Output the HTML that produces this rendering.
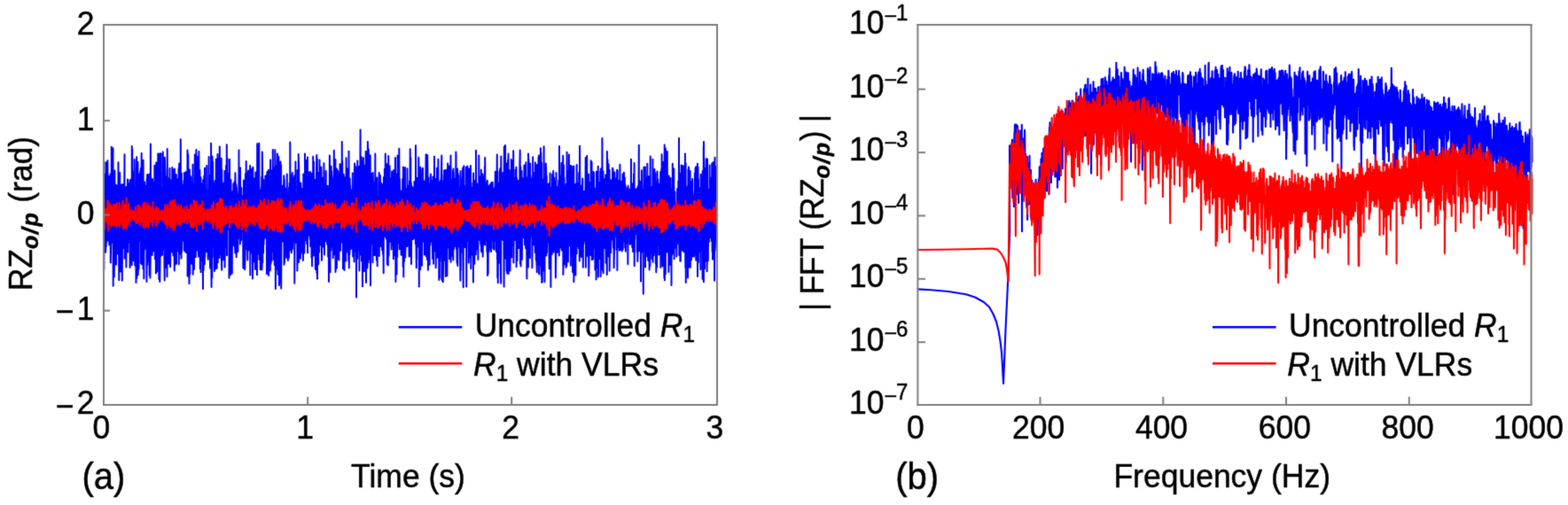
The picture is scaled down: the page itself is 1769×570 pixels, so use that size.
<!DOCTYPE html><html><head><meta charset="utf-8"><title>figure</title><style>html,body{margin:0;padding:0;background:#fff;overflow:hidden}</style></head><body><svg width="1769" height="570" viewBox="0 0 1769 570" style="display:block">
<rect width="1769" height="570" fill="#fff"/>
<defs><filter id="sb" x="0" y="0" width="1769" height="570" filterUnits="userSpaceOnUse" color-interpolation-filters="sRGB"><feConvolveMatrix order="3" kernelMatrix="0.0183 0.1353 0.0183 0.1353 1.0000 0.1353 0.0183 0.1353 0.0183" edgeMode="duplicate"/></filter></defs><g filter="url(#sb)"><rect width="1769" height="570" fill="#fff"/>
<polyline points="117,206.4 117.3,303.7 117.5,196.7 117.7,272.9 118,271.4 118.2,222 118.6,256.1 118.7,215.6 119.2,284.8 119.4,183.2 119.7,278.4 120,195.4 120.1,207.6 120.5,254.1 120.5,273 120.7,229.6 121.3,262.5 121.4,181.2 121.6,227.3 121.7,270.9 122.1,253.2 122.5,198.8 122.8,268.5 123,199.6 123.1,215.8 123.3,276.2 123.5,203.3 123.9,267.9 124.1,213.1 124.4,276.9 124.6,196.6 124.8,296.5 125.3,265.7 125.5,217 125.6,257.2 125.8,165.8 126.2,261.7 126.5,216.2 126.5,218.6 126.9,270.7 127,273.8 127.5,167.3 127.7,322.7 127.9,210.2 128,218.8 128.2,267.1 128.6,201.9 128.8,312.6 129.3,253.8 129.4,192.6 129.6,289 129.9,226.4 130.3,259.7 130.4,224.8 130.8,208.8 131,298.7 131.1,278.8 131.5,228.5 131.6,280.4 131.8,211.6 132.1,209.7 132.3,286.2 132.5,226.9 133,266.4 133.3,257 133.5,183.3 133.6,277.7 133.8,233.6 134.3,316.3 134.5,225.2 134.5,212.1 134.6,296.7 135.2,194.9 135.3,258.3 135.6,261.9 135.7,208.3 136.1,306.4 136.3,216.2 136.7,253 136.9,218.3 137,221 137.2,295 137.6,208.3 137.8,316.7 138.2,214.1 138.4,272.9 138.7,280.1 138.9,208.3 139,268 139.5,230.7 139.5,227.6 139.7,270.3 140,263.1 140.5,174.2 140.6,291.8 140.8,213.1 141.2,225.2 141.3,257 141.8,257 142,224.3 142.2,226.2 142.4,301.4 142.6,211.1 143,273.5 143,268.1 143.3,211.3 143.8,271.7 144,207.2 144,202.6 144.2,284.6 144.6,217.9 144.8,259.1 145.3,229.8 145.4,273.8 145.5,269.2 145.7,206.9 146.2,227.2 146.4,264 146.5,203.4 146.6,302.1 147.2,216.3 147.4,268.3 147.6,202.7 147.8,285.5 148.1,270.8 148.3,214.7 148.7,299.3 148.8,164.9 149,268.1 149.2,168.5 149.6,286.2 149.8,207.4 150.3,285.3 150.4,233 150.5,214.5 150.7,294.3 151.3,193.4 151.5,268.3 151.7,180 151.9,283.7 152.3,299.4 152.5,211.9 152.5,224.4 153,250.6 153.2,215.2 153.4,267.4 153.5,318.9 153.9,192.6 154.2,177.3 154.3,313.9 154.5,209 154.8,272.8 155.3,205.2 155.4,267.6 155.5,183.1 155.6,310.5 156.2,296.3 156.4,196.2 156.6,303.6 156.9,221.2 157.3,208.6 157.4,263.1 157.7,220.6 157.8,268.6 158.3,193.3 158.5,271.9 158.8,190 159,276.3 159,297 159.4,220.4 159.7,173.1 159.8,298.2 160,236.7 160.4,199.9 160.5,296.1 160.8,194.6 161.3,209.9 161.5,303.3 161.6,180.8 161.8,290.4 162,222.5 162.4,314.5 162.6,214 162.8,263.2 163.1,205.5 163.3,281.2 163.8,258.3 163.9,238.8 164.2,222.6 164.4,271.7 164.5,209.8 164.7,264.7 165.3,215.8 165.4,282.1 165.5,318.1 165.6,206.1 166.2,197.1 166.3,298.9 166.6,249.5 166.9,222.2 167.2,274.4 167.3,213.2 167.6,197.5 167.8,295 168,269.9 168.4,196.4 168.5,210.5 168.6,310.4 169.3,219.3 169.4,313.8 169.7,292 169.9,162.6 170,209.6 170.2,285.6 170.7,226.8 171,264.3 171.3,216.3 171.5,248.7 171.7,288 172,202 172.2,280.7 172.4,205.3 172.9,215.7 173,283.4 173.3,257.2 173.4,227 173.7,267 173.9,221 174.3,279.9 174.4,186.8 174.7,207.7 174.9,292.2 175.2,229.3 175.4,264.9 175.7,198.1 175.9,308.5 176.2,273.5 176.3,183.6 176.6,208.9 176.7,280.8 177.3,306.6 177.4,219 177.6,268.1 178,217.8 178.3,173.5 178.5,286.7 178.5,274.8 178.7,217.1 179.2,201.2 179.4,315.1 179.6,211.6 179.8,271.8 180.1,173.4 180.3,318 180.6,289 180.9,184.5 181,214.5 181.1,289.2 181.6,173.3 181.8,268.6 182.2,211.8 182.4,260.1 182.5,277 182.7,214.6 183,288 183.2,222 183.7,263.4 183.8,171.6 184,281.6 184.4,224.7 184.6,179.2 184.8,278.6 185.2,194.5 185.3,277.1 185.7,316.4 185.8,177.7 186.4,198.9 186.5,284.2 186.6,201.9 186.8,293.6 187.2,207.5 187.5,302.2 187.5,264.3 187.9,199.4 188.1,276.7 188.2,212.6 188.5,312.3 188.7,168 189.2,274.7 189.5,218.7 189.8,297.6 190,229.1 190,208 190.2,285.5 190.7,296.5 190.9,201 191.1,226.9 191.2,297.7 191.5,189.9 191.7,272.4 192.1,301.2 192.4,214.4 192.5,219.1 192.8,274.9 193.1,251.6 193.4,203.2 193.7,280.6 193.9,214.9 194,284.5 194.3,189 194.5,263.3 194.9,228.6 195,249.1 195.1,219 195.6,288.6 195.9,191.5 196.4,287.5 196.5,221.8 196.8,305.6 197,190.7 197,194.2 197.3,299.6 197.7,264.1 197.9,199.4 198,228.6 198.5,268.5 198.5,265.7 198.8,197.1 199,297.8 199.1,214.6 199.8,209.6 199.9,282.9 200.2,283.1 200.3,203.6 200.7,202 201,271.6 201,268 201.5,220.8 201.6,189.9 201.8,298.2 202.2,184.6 202.5,257.5 202.6,279.5 202.9,200.1 203.2,203 203.3,286.8 203.7,259.1 203.8,157.3 204.1,276.6 204.4,215.3 204.5,291.7 204.8,195.6 205.1,283.9 205.4,208.3 205.8,262.6 205.9,235.1 206,265.6 206.3,210.2 206.5,254 207,217.2 207.1,272.1 207.4,204 207.8,282 207.9,195 208,221.5 208.3,256.6 208.6,283.8 208.9,222.6 209.1,266.4 209.3,214.8 209.9,194.1 210,274.2 210,285 210.3,204.2 210.7,216 210.8,259.8 211.4,270.2 211.5,169.4 211.6,311.8 211.8,172.7 212.2,308 212.3,174.9 212.8,298.8 212.9,205.2 213,230 213.5,320.2 213.7,296.7 213.9,191.6 214.3,309.6 214.5,202.6 214.5,198.5 214.7,261.7 215.2,272.9 215.3,199.7 215.7,223.7 215.8,287.3 216.1,205.5 216.3,297.8 216.6,286 216.7,220.8 217.2,209.1 217.3,268.8 217.5,185.7 217.7,309.8 218.2,251.8 218.3,238.5 218.8,207.8 219,276.3 219,304 219.2,213 219.5,283.2 219.8,174.6 220.1,251.7 220.3,223.4 220.6,195.8 220.8,290.3 221.1,273.4 221.4,169 221.6,276.1 222,220 222,215.4 222.5,281.2 222.8,179.5 222.9,282.8 223.1,177 223.2,264.2 223.8,212.7 223.9,289.6 224,288.4 224.4,171 224.6,274.6 224.8,219.8 225.2,275.5 225.4,192.1 225.5,208.5 225.8,303.3 226.3,271.3 226.5,204.1 226.5,200.2 226.6,307.2 227.1,216.4 227.5,286.1 227.7,207.7 227.8,257.2 228.2,294 228.4,214.7 228.7,226 229,326 229.1,203 229.3,263.2 229.5,215.1 229.6,305.1 230.2,252.7 230.3,198.5 230.8,298.3 231,189.8 231,221.2 231.2,290.2 231.8,213.4 231.9,279.8 232.1,277.4 232.3,213.8 232.6,226.4 233,264.1 233,284.2 233.2,186.9 233.6,267.9 234,237.5 234.1,249.8 234.2,223 234.7,292.7 235,215.3 235.1,223.6 235.3,288.5 235.6,177.1 235.7,255 236,276.5 236.3,227.5 236.7,203.2 236.9,295 237.2,302.8 237.4,197.8 237.6,233.7 237.8,280.5 238.1,161.7 238.3,290.4 238.6,324 238.9,190.1 239.3,313.6 239.5,176.6 239.6,182.9 239.7,290.3 240.1,182.7 240.5,275.2 240.6,278.1 240.9,218.1 241.2,227.8 241.4,270.1 241.7,206.3 241.9,306 242,214 242.4,279.3 242.6,204.1 242.9,268.2 243.1,217.2 243.2,303.4 243.8,179.8 244,302.1 244.1,268.4 244.3,192.5 244.7,302.8 244.9,213.8 245,260.2 245.5,174 245.5,224.2 245.7,296.2 246.1,178.4 246.3,272.7 246.5,273 246.7,194.8 247,267.6 247.2,187.5 247.6,291.1 247.8,165.4 248.2,207 248.4,286.8 248.8,218.9 249,272.3 249.2,226.2 249.4,255.9 249.7,178.8 249.9,293.3 250.2,304.8 250.3,191.6 250.6,271.1 250.8,205.9 251.1,207.9 251.3,274.6 251.8,219.5 252,293.2 252,258.6 252.4,207 252.6,219.7 252.9,275 253.1,206.4 253.2,263.6 253.5,193.1 253.6,301.4 254.2,227.2 254.3,274 254.7,203 254.8,270.5 255.1,186.7 255.4,278.8 255.8,163.2 256,279.6 256,288.3 256.2,199.8 256.6,179.1 256.9,254.4 257.2,230.2 257.5,259.1 257.5,258.2 257.9,196.1 258.1,258.5 258.4,217 258.5,313.8 259,220.6 259,180.1 259.3,284.7 259.6,247.6 260,232.5 260.1,310.2 260.5,203 260.5,221.9 260.7,258.8 261.3,226.7 261.5,252.3 261.8,308.6 262,231.5 262.1,251 262.3,215.9 262.6,277.6 262.7,216.3 263.1,276.9 263.3,207.4 263.5,248.7 263.7,219 264.1,268.5 264.5,205.2 264.5,232 264.7,267.6 265.3,285.5 265.4,195.2 265.8,212.9 266,285.7 266,256.3 266.5,208.6 266.7,290.2 266.9,211.6 267.1,254.2 267.2,215.5 267.8,268.8 268,219.1 268,231.4 268.4,284 268.5,226.6 268.9,262.7 269.4,268.8 269.5,169.6 269.5,262.1 269.7,206.7 270.1,265.9 270.4,235 270.8,208.8 270.9,275.6 271,189.2 271.2,272.5 271.7,226.8 271.8,266 272.1,271.1 272.3,211.9 272.5,261.5 272.9,232.7 273.1,249.8 273.3,225.2 273.6,254.1 273.9,226.1 274,221 274.4,302.4 274.7,289.1 274.9,203.5 275.1,272.5 275.5,230.6 275.7,266.4 275.9,217.8 276,218.2 276.2,304.3 276.6,287.5 276.9,196.5 277,210 277.2,265.4 277.7,182.1 277.9,275.2 278.3,194.8 278.5,273 278.5,281.6 278.7,203.8 279.3,293.6 279.5,203.2 279.5,215.4 280,262.3 280.1,192.6 280.3,280.3 280.7,221.2 280.9,282.5 281.2,192.8 281.5,263.7 281.7,214 281.9,271.2 282.1,187 282.3,310.6 282.7,190.4 282.9,256.2 283.3,253.7 283.4,217 283.6,273.3 283.7,227.4 284.1,214.5 284.3,286.1 284.6,190.6 285,314.4 285.2,288 285.4,188.8 285.5,284.2 285.7,206.9 286,265.1 286.2,202.6 286.7,251 286.9,201.6 287,295.4 287.2,203.8 287.6,217.9 287.9,304 288.2,265 288.4,194.5 288.6,209.4 288.8,274.3 289.2,288.5 289.4,218.7 289.7,215.1 290,306.5 290,310.3 290.2,162.3 290.8,275.1 291,187.5 291.1,204.6 291.2,286.3 291.7,193.4 291.9,270.6 292.3,161.8 292.5,292.9 292.6,279.3 292.7,211.8 293.1,253.9 293.3,228.3 293.7,304.2 293.9,215.1 294.1,283.5 294.3,239.3 294.8,276.7 295,217.4 295.3,199.6 295.5,304.4 295.6,299.2 295.8,171.6 296.1,191.4 296.3,296.3 296.5,204.3 296.9,276.6 297.1,285.5 297.3,202.7 297.6,276 298,236.1 298,221.2 298.4,266.5 298.5,212.9 298.8,269 299.1,266.4 299.4,198.5 299.5,230.3 300,259.3 300.1,225.4 300.2,250.2 300.5,259.5 300.9,212.5 301,309.2 301.2,198.1 301.5,194.1 302,304.4 302.1,204.2 302.2,272 302.8,274.4 303,191.8 303.1,311 303.3,212.2 303.5,214.1 303.9,291.2 304,215.5 304.2,276.2 304.6,215.7 304.8,305.3 305.1,180.5 305.3,270.6 305.6,297.7 305.9,208.6 306.1,269.4 306.3,192.8 306.7,294.3 307,236.1 307.1,213 307.4,258.3 307.6,273.5 307.8,169.1 308.3,284.1 308.4,225.3 308.6,208.6 309,293 309.1,189.2 309.4,260.9 309.7,213 309.8,299.2 310.1,281.1 310.3,169.2 310.7,188.2 310.9,325.9 311.1,187.5 311.5,257.7 311.7,269 311.9,223.5 312.2,218 312.4,291.3 312.8,293.4 312.9,173.5 313,304.6 313.2,181.9 313.5,309.7 313.7,193.2 314.1,301.1 314.4,177 314.9,238.4 315,322 315,256.8 315.2,218.3 315.5,291.9 316,215.6 316.2,316.4 316.5,206.7 316.5,182.6 316.7,318 317.1,186.2 317.2,325.5 317.5,258.3 317.6,215 318.2,231.7 318.3,262.7 318.8,226.5 319,272.6 319.1,209.7 319.5,253 319.8,264.8 319.9,230.2 320.3,198.3 320.5,285.9 320.5,298.8 320.8,202.6 321.1,295.9 321.4,238.6 321.6,211.9 322,273.8 322.2,223.5 322.4,274.1 322.7,252.6 322.8,233.8 323.2,290.7 323.5,213.2 323.6,289.1 323.8,196.4 324,265.6 324.3,233.2 324.5,217.6 324.9,294 325.1,218.4 325.4,264.7 325.7,217.8 325.9,291 326.1,211.6 326.5,283.1 326.6,206.4 326.9,276.5 327.1,281.8 327.3,160.5 327.6,273.6 327.7,196.8 328,265.1 328.5,224.3 328.5,219.2 328.8,285.2 329.3,273.7 329.5,219.4 329.8,195 330,281 330.1,273.2 330.3,207.8 330.6,212.7 330.7,273.3 331,268.4 331.2,201.6 331.7,272.9 331.8,203.9 332.2,198.6 332.3,319.8 332.6,205.4 332.8,256.9 333.2,273.9 333.4,182.6 333.6,258.7 333.9,235.8 334.2,259.9 334.4,235.8 334.8,218.8 335,274.6 335.2,219.6 335.4,305.5 335.6,192 336,295.4 336.3,265.4 336.4,197.3 336.6,290.6 336.8,173.9 337,295.9 337.1,182.4 337.7,231.6 338,269.1 338.1,217.5 338.5,249.7 338.7,216.1 338.9,291.8 339,266.1 339.4,206.5 339.6,262 339.8,226.2 340.2,239 340.4,284.4 340.6,213.1 340.8,256.5 341.1,214.8 341.3,286.3 341.5,228 341.9,294.1 342.1,274.8 342.3,196.5 342.7,221.5 342.8,275.7 343.1,213.4 343.3,285.6 343.9,249.6 344,173.5 344.1,264 344.5,208.4 344.5,224.6 344.8,271.1 345,180.8 345.5,263.4 345.8,268.1 346,214.7 346.2,274.9 346.4,194.1 346.6,266.7 347,177.6 347.1,285.2 347.3,228.1 347.5,264.8 347.6,206.8 348.1,257.7 348.5,208.6 348.6,194.5 348.8,265.7 349,198.2 349.1,255.9 349.6,212.3 349.9,269.8 350.1,194.1 350.3,278 350.5,199.7 350.9,269.1 351.4,216.2 351.5,290.7 351.5,266.7 351.9,196.1 352.1,300.2 352.5,207.8 352.8,227.2 353,275.6 353.2,176.8 353.3,261.6 353.8,288.4 354,182.8 354.1,281.3 354.2,232 354.8,264.5 355,202.7 355,219.9 355.2,277.8 355.5,211.4 355.9,304.1 356.1,203.6 356.5,253.8 356.5,251.9 356.7,210.7 357.3,175.1 357.4,307.9 357.8,179.3 358,314.7 358,313.9 358.1,205.2 358.8,263.7 358.9,194.9 359.2,298.2 359.4,217.2 359.7,226.9 359.9,261.9 360.1,224.1 360.2,284.5 360.5,180.4 361,276.8 361.1,226.9 361.4,267.4 361.7,215.7 361.9,261.5 362.2,253.1 362.4,188.6 362.9,213.2 363,293.7 363,265.2 363.2,224.7 363.8,200.9 363.9,278.7 364.1,226.8 364.2,267.8 364.8,264.3 364.9,223.2 365.3,266.7 365.4,184.3 365.6,207.2 365.9,287.5 366.2,250.3 366.4,215.5 366.8,269.8 366.9,207.4 367.1,269.4 367.3,209.6 367.5,272.2 367.7,193.1 368,269 368.4,229.5 368.7,260 369,211.7 369.1,275.3 369.3,224.4 369.5,276.6 369.7,209.8 370.2,289.8 370.4,216.4 370.6,221 371,318 371.2,221.1 371.4,282.3 371.5,276.5 371.9,175.4 372.1,185.6 372.5,307.2 372.5,277.9 372.7,215.2 373.2,228 373.4,282.6 373.6,187.7 374,274.2 374.2,193.2 374.3,268.3 374.6,278.6 374.7,201.6 375.1,272.5 375.3,205.2 375.7,291.3 375.9,208.4 376.1,260.1 376.5,198.5 376.6,287.6 376.8,169.8 377,267.9 377.2,219.6 377.5,271.5 377.7,220.5 378.4,179.9 378.5,269.9 378.5,307.1 378.9,220.6 379.2,195.8 379.3,303.6 379.8,190.4 379.9,302.2 380.2,202.9 380.3,285.6 380.5,234.1 380.9,279 381.1,192.7 381.5,290.6 381.5,291.8 381.7,195.3 382,235.6 382.4,293.6 382.6,215.7 383,272.9 383,271.5 383.3,199.7 383.6,185 383.7,269.9 384.1,282.8 384.2,188.6 384.9,186.2 385,263 385.1,262.1 385.3,225.7 385.7,262.2 385.8,160 386.1,273.8 386.2,182.1 386.7,271.5 386.9,199.5 387,303.2 387.2,229.3 387.5,277.5 387.7,196.7 388.2,277.2 388.3,201.8 388.5,305 388.7,200.1 389.2,201.1 389.5,286.5 389.6,271 389.8,201.9 390,220.1 390.2,294.5 390.6,178.3 390.8,278 391.2,281.3 391.4,207.5 391.6,262 391.8,190.4 392.3,284.8 392.5,212.6 392.6,224 392.8,258.5 393.4,294.8 393.5,218.2 393.5,170.7 393.8,302.5 394.2,215.4 394.4,287.2 394.7,201.4 394.9,281.8 395.1,209.4 395.2,264.2 395.7,250.9 395.8,224.5 396.2,214.5 396.4,280.7 396.9,261.9 397,227.7 397.1,228.8 397.5,251.5 397.5,262.3 397.8,195.2 398.2,289.4 398.4,233.9 398.6,257 398.8,225.6 399.1,263.7 399.4,224.6 399.6,295.5 400,193.9 400.1,184.4 400.2,284.2 400.7,224.6 400.9,282.1 401.1,188.1 401.3,281.1 401.6,270.9 401.8,208.2 402,335.6 402.1,209.4 402.7,189.9 403,290.8 403.1,292.1 403.3,181.6 403.7,282.8 403.9,204.6 404.3,222.3 404.5,261.1 404.7,219.5 404.8,275.6 405.1,187.9 405.4,305.5 405.6,205 405.8,278.7 406.2,257.2 406.3,206.8 406.6,146.5 406.8,287.6 407.1,195 407.3,265.2 407.7,177 408,266.8 408,294.6 408.2,219.5 408.6,182 409,323.3 409.1,278.4 409.3,181.2 409.7,304.8 409.9,178.3 410.1,216.6 410.4,285.2 410.7,207.7 410.9,306.3 411.2,203.4 411.5,294.2 411.5,288 411.6,186.7 412,228.1 412.4,278.5 412.7,170.7 413,318.9 413.1,173.5 413.4,286.8 413.7,193.5 413.8,281.3 414.4,178.9 414.5,302.5 414.5,278.4 414.9,160.1 415.2,182.3 415.3,278.2 415.6,296.2 415.8,168.6 416.2,259.4 416.4,176.5 416.7,291.9 416.9,202.6 417.1,216.5 417.2,276.9 417.7,175.3 418,309.6 418,322.3 418.3,200.4 418.6,201.5 418.9,268.4 419.3,275.6 419.4,196 419.7,241.3 419.8,261.7 420.2,207.3 420.5,296.2 420.5,285.8 420.7,194.9 421.3,219.1 421.4,274.3 421.6,205.9 421.8,288 422,216.3 422.2,256.7 422.7,287.2 422.9,221.8 423.2,258.2 423.3,173.5 423.6,288.2 424,201.4 424.2,223.8 424.4,266.6 424.7,202.8 424.9,293.7 425.2,254.4 425.4,200.4 425.7,300.2 425.8,229 426.3,223.3 426.5,250.7 426.5,277.5 426.7,222.6 427.1,231.1 427.3,256.4 427.7,195 427.8,288.9 428.2,204.4 428.4,270.5 428.8,265.2 428.9,198 429,216.9 429.1,278 429.8,258.3 430,225.8 430,206.4 430.3,274.8 430.6,256.1 430.8,228 431.1,282.3 431.3,217.6 431.5,267.1 431.9,208 432.1,286.9 432.2,217.6 432.7,308.2 432.9,199.9 433.3,236.3 433.4,263.1 433.7,266.6 433.9,190.8 434.2,261.9 434.5,237.2 434.8,173.5 434.9,264.9 435,267.2 435.2,220.6 435.8,269.5 435.9,219.6 436.3,259.8 436.4,208.7 436.7,185.2 436.9,298.3 437.2,267.2 437.4,197.3 437.8,299.5 438,209.1 438.2,176.1 438.4,255 438.6,288.5 438.9,209.1 439,233.2 439.4,255.3 439.6,187.5 440,265.3 440,272.7 440.2,201.3 440.7,224.3 440.9,268.9 441.3,218.5 441.5,257.3 441.6,281.5 441.8,234.3 442.1,193.4 442.3,276.3 442.8,203 443,255.9 443.2,273.7 443.4,211.3 443.9,292.3 444,214.2 444.1,192.2 444.4,269.3 444.6,221.5 444.9,267.2 445,202.1 445.2,279.9 445.7,288.2 445.9,178.1 446.2,218.8 446.4,318 446.5,221.1 446.7,268.1 447.3,216.9 447.5,309.5 447.6,196.3 447.8,282.1 448,214.4 448.2,290.1 448.6,175.6 448.7,262.4 449.4,227.9 449.5,270.9 449.5,271.7 449.7,229.3 450.1,274.5 450.3,167.7 450.7,281.2 450.9,201.9 451.3,223.3 451.4,255.1 451.7,247.4 452,230.8 452,219.6 452.4,257.7 452.6,287.7 452.7,215.7 453.1,217.8 453.5,259 453.6,214.7 453.9,287.6 454.2,202 454.4,257.4 454.7,300.9 454.9,188.4 455.1,223.2 455.3,312.5 455.7,201.9 456,295.1 456.1,278.3 456.2,220.3 456.9,274.4 457,189.1 457,199.1 457.2,290.6 457.8,267.5 457.9,220.3 458.2,213.3 458.4,275.2 458.6,221.8 459,248.9 459.2,278 459.5,190.2 459.6,277.1 459.7,216.4 460.1,255.9 460.5,209.6 460.7,261.1 460.9,216.4 461.1,214.8 461.4,275.4 461.6,289.5 461.8,227.7 462,204.3 462.4,270 462.7,168.3 463,264.1 463.3,178.1 463.4,289.5 463.8,206.1 464,297.9 464.1,278.5 464.5,209.9 464.8,230.1 464.9,260.3 465,226 465.4,265.9 465.8,247.5 465.9,211.7 466,270.3 466.3,226.8 466.6,264.6 466.8,229.6 467.1,269.1 467.5,215.7 467.5,205 467.7,265.8 468,258.2 468.4,218.8 468.9,275.3 469,204.6 469,164.2 469.5,277.8 469.8,302.3 469.9,201.4 470.1,292.7 470.2,219.7 470.5,201 470.7,275.5 471.1,207.3 471.3,278.2 471.7,214.8 472,258.7 472.1,276.8 472.3,177.7 472.7,218.2 472.8,323.4 473.1,196.4 473.3,260.6 473.6,269 473.8,210.4 474.2,304.2 474.3,188.8 474.5,271.4 474.6,213.8 475.1,219 475.4,269.1 475.5,212.4 475.9,273.6 476,299.8 476.4,191.1 476.7,273.2 477,189.7 477.2,270.1 477.4,223.1 477.5,202.8 477.7,258.8 478.3,232.3 478.5,257.8 478.7,224.3 478.8,287.4 479,205 479.2,263.3 479.6,215.2 479.8,273.5 480,287.3 480.2,217.1 480.6,174.3 480.9,289.5 481.1,213.8 481.4,265.8 481.6,217 481.9,261.1 482,292.9 482.2,175 482.7,212 482.9,304.7 483,202.7 483.3,256.6 483.5,200.5 483.7,271.9 484,218.3 484.1,274.7 484.6,298.8 484.8,207 485.2,271.9 485.3,217.3 485.5,276.7 485.9,196.6 486.2,269.6 486.3,231.5 486.8,204.1 487,270.6 487,272.6 487.3,229.9 487.5,259.6 487.8,211.4 488.1,292 488.4,199.4 488.8,253 488.9,219.7 489.1,297.7 489.4,213.3 489.8,262.1 490,202.5 490,176.8 490.5,271.7 490.5,283.3 490.8,207.1 491.1,249.6 491.5,202 491.5,215.9 491.7,302.2 492.2,232 492.4,270.2 492.7,247.8 493,213.1 493,189.7 493.2,290.3 493.8,220 493.9,290.7 494.2,263.7 494.4,179.8 494.6,272.6 495,215.5 495.3,315.9 495.5,205.8 495.8,218.1 495.9,313.7 496.1,207.9 496.2,295.6 496.9,262.2 497,203.6 497.3,207.8 497.5,265.3 497.5,266.8 497.8,201.3 498.3,175.5 498.4,315.4 498.6,197.6 498.8,316.7 499.2,242.5 499.4,208.4 499.7,204.8 499.8,318.3 500.2,296 500.5,222.9 500.7,207.8 500.9,294.1 501.1,192.3 501.2,268.6 501.6,224.5 502,253 502.2,257.7 502.4,207.9 502.8,312 503,203.7 503.1,191.7 503.3,292.6 503.6,250.1 503.7,215.8 504.3,201.7 504.4,311.2 504.6,272.1 504.7,209.2 505.2,184.5 505.4,279.5 505.6,277.2 505.9,218.8 506.1,228.4 506.2,266.8 506.7,272.5 506.8,187.5 507.1,292.2 507.3,202.8 507.6,218.8 507.7,284.4 508.3,269 508.5,175.6 508.6,295.8 508.8,208.6 509.3,209.5 509.4,280.4 509.5,267.1 509.6,214.8 510.1,288.8 510.3,202.5 510.7,268.5 510.9,192.6 511.3,293.5 511.5,190.6 511.6,269 511.8,194.2 512,281.6 512.3,229.8 512.5,258.2 513,202 513.1,211.7 513.2,276.1 513.8,276.8 513.9,211.9 514,278.1 514.4,171.6 514.5,174.5 514.7,280.6 515.2,196.7 515.3,272.3 515.6,296.7 515.7,205.5 516.1,190.5 516.3,300 516.5,269.6 516.7,195.7 517.1,263.8 517.2,197.9 517.9,269.5 518,212.1 518.1,219.8 518.3,278.8 518.5,217 518.7,255.5 519.4,316.8 519.5,192.9 519.5,196.6 519.7,305.2 520.1,217.2 520.2,285.4 520.6,202.2 520.9,258.7 521.3,265.3 521.5,215 521.7,273.8 521.8,199.3 522.1,189.4 522.3,285 522.7,324.3 522.9,211.7 523.3,264.6 523.4,187.3 523.6,276 523.9,218.7 524,259.1 524.4,210.1 524.6,278.9 524.8,214.8 525,258.9 525.1,223.6 525.7,261.1 525.9,188.8 526.1,222.2 526.2,323.5 526.7,218.7 527,270.5 527.3,260.1 527.4,187.5 527.7,223.1 527.8,267.1 528.1,272 528.3,217.8 528.6,208.4 528.8,296.4 529,190.6 529.5,290.7 529.8,269.7 529.9,200.6 530,290.2 530.4,210.7 530.7,263.3 530.9,187.1 531.3,303.2 531.5,232.4 531.5,211.8 531.7,260 532,272.5 532.2,228.7 532.6,217.4 532.9,287.8 533.1,267.7 533.4,206.8 533.8,215.8 533.9,318.4 534.1,195.5 534.3,263 534.8,274.2 534.9,205.2 535.3,297.8 535.5,215.3 535.5,203.9 535.9,248 536,275.1 536.3,205.8 536.6,228.2 536.8,287.2 537,169.7 537.5,258.7 537.7,215.9 537.9,263.4 538.2,219 538.4,271.4 538.6,281.7 538.8,207.8 539.3,230.4 539.4,293.1 539.6,215.6 540,266.9 540.3,271.1 540.3,175.4 540.5,265 540.9,226.3 541.1,216.7 541.3,269.4 541.8,226.1 541.9,258.7 542,199.3 542.2,272.7 542.6,277.4 542.8,191.8 543,283.7 543.2,226.9 543.5,271.2 544,199.3 544.1,284.9 544.5,221.8 544.6,196.6 544.7,289.7 545,265.1 545.2,199.2 545.7,275.1 545.8,211 546.1,231 546.2,252 546.8,263 546.9,187.7 547.1,276.4 547.2,178 547.5,227.3 547.6,261.2 548,272 548.4,206.1 548.6,259.1 549,221.9 549.2,225 549.4,284 549.5,254 549.8,203.7 550.1,311.1 550.5,235.4 550.7,308.9 550.9,222.6 551.3,281.9 551.4,210 551.6,210.3 551.7,283.9 552.1,220.9 552.4,257.8 552.6,280.3 552.8,208.3 553.1,277 553.2,233.4 553.6,262.4 553.7,222.1 554.1,284.1 554.4,206 554.6,265.8 554.8,208.9 555,271.3 555.2,220.1 555.5,269.3 555.7,205.7 556.1,232.2 556.4,280.2 556.7,251.6 557,223.7 557.2,281.3 557.5,212.7 557.6,281.8 557.8,230.2 558.1,272.1 558.4,230.5 558.8,193.7 558.9,270.3 559.2,267.2 559.3,223.9 559.7,202.6 559.9,283.9 560.1,260.8 560.3,227.6 560.8,174.5 561,293 561.1,217.6 561.3,313.6 561.5,193.4 561.8,319.2 562.2,230.6 562.5,257.2 562.7,221.9 562.8,297.1 563.2,206.5 563.4,286.7 563.8,267.6 564,192.1 564.1,286 564.2,190.2 564.5,208.5 564.9,310.3 565.2,319.7 565.3,176.6 565.9,264 566,240.9 566.1,218.2 566.2,262.9 566.7,268.6 566.8,223.6 567.3,271 567.5,195.1 567.7,265.8 567.9,214.8 568.2,264.7 568.3,214.2 568.6,323.4 568.8,165.5 569.1,219.6 569.3,258.4 569.8,283.4 570,164 570.2,206.5 570.4,291.7 570.6,188.3 570.7,290.2 571.1,209.4 571.5,305.4 571.6,184.5 571.9,275.2 572.1,308.6 572.4,192.1 572.7,297.3 573,180.2 573,190.7 573.1,278.1 573.5,173.4 573.7,309 574.3,203.6 574.5,269.2 574.5,275.1 574.7,192 575.3,218.6 575.5,305.4 575.8,215.9 575.9,253 576.2,212.9 576.4,263.6 576.7,289.6 576.8,180 577.2,290.5 577.4,204.2 577.5,277.6 577.7,220.3 578.3,181.4 578.5,266 578.7,228.6 578.8,260.3 579.2,170.3 579.4,296.4 579.6,263.6 580,221.6 580.2,213.9 580.3,260.4 580.6,267 580.9,200.7 581.3,271.1 581.5,191.5 581.5,206 581.9,262.6 582.2,251.8 582.4,188.7 582.6,301.3 582.8,202.4 583,200.8 583.4,280 583.5,294.3 583.9,208.6 584.1,260.9 584.5,228.6 584.8,258.4 584.9,226.5 585,203.7 585.2,280.1 585.8,276.9 585.9,227.6 586.3,255.5 586.4,185.1 586.7,169.6 587,297.8 587.3,275.3 587.4,188.6 587.6,300.6 587.8,195.1 588.1,271.3 588.5,227.5 588.6,193.1 588.9,293.1 589.2,244.3 589.4,200.9 589.6,267.2 590,218.3 590.3,221.1 590.5,261 590.6,268.1 590.8,215.1 591.2,259.8 591.4,186.5 591.8,196.3 592,276.2 592,262.6 592.2,220.7 592.7,263.7 592.9,228.1 593.2,280.2 593.4,183.2 593.8,279.3 593.9,199.7 594,202.7 594.4,314.4 594.8,219.3 594.9,270.2 595,221.8 595.2,268.1 595.7,212.5 595.9,301.5 596,173.4 596.4,274.7 596.5,180.1 596.7,258.7 597.2,278.6 597.3,205.1 597.8,194.8 597.9,291.2 598.2,184.4 598.3,263.7 598.6,198.4 598.8,265.8 599,251.5 599.5,225.6 599.7,266.4 599.8,201.8 600.2,224.9 600.4,302.3 600.8,219.6 601,269 601.2,177.2 601.5,275 601.6,257.1 601.9,194.8 602.3,228.4 602.4,276.6 602.5,223.8 602.7,263.6 603.1,255.1 603.3,199.4 603.7,284.9 603.9,183.6 604,267.2 604.2,197.7 604.7,235.8 604.8,293.8 605.1,191.8 605.2,287.2 605.8,307.3 605.9,185.9 606.1,299.2 606.5,204.4 606.5,203.6 606.6,275.2 607.3,273.9 607.5,177.7 607.6,234.2 607.6,286.2 608,175.4 608.1,309.3 608.7,278.5 608.9,177.4 609.3,266 609.4,196.3 609.6,269 609.9,167.2 610.2,299.9 610.4,172.5 610.6,311.3 610.7,229.5 611.1,183.8 611.3,319 611.8,318.2 612,208.9 612.1,202.4 612.2,283.7 612.5,284.2 612.7,203.6 613.3,213.4 613.4,305.6 613.6,165.2 613.8,296.3 614.2,281.5 614.4,201.4 614.5,318.2 614.7,210.4 615.2,202 615.4,260.5 615.6,288.6 615.8,184.6 616.2,195.6 616.3,288.4 616.7,198.4 617,285 617.1,277.4 617.4,209.9 617.5,269 617.9,211.2 618.2,272.6 618.3,234.1 618.6,207.8 618.7,273.3 619.2,214.5 619.3,265.1 619.7,303.3 619.8,206.7 620.1,214.7 620.2,285.8 620.6,195.5 620.7,263.8 621.1,211.4 621.4,324 621.7,228.8 621.9,270.5 622.1,229.5 622.4,251.6 622.7,287.1 623,199.7 623,197.1 623.5,276.9 623.7,198.9 624,282.1 624,278 624.2,193 624.6,284.8 625,225.7 625.3,200.8 625.5,261.7 625.8,254.7 626,224.5 626.3,281.7 626.5,205.6 626.5,218.4 626.9,313.5 627.3,280.4 627.5,201.3 627.5,195 627.6,265.6 628.1,262.4 628.3,220 628.5,250 628.9,211.3 629.1,284.8 629.2,224.9 629.7,265.2 629.8,224.2 630,256.6 630.3,203.8 630.6,222.4 630.8,288.5 631,165 631.4,269.3 631.8,198.7 631.9,255.5 632.1,227.3 632.4,279.5 632.6,206.8 632.9,265.2 633,268.3 633.4,189.5 633.5,183.9 633.7,282.4 634.3,208.5 634.4,252.6 634.7,281.4 634.8,203 635.2,175.8 635.4,310 635.8,269.4 636,186.5 636.2,296.4 636.4,201.7 636.5,200.7 636.7,298.4 637.1,278.4 637.5,226.9 637.7,267.8 637.8,210.8 638.4,224.2 638.5,302.1 638.6,207.7 638.8,289.7 639.1,209.6 639.3,300.3 639.6,171.7 640,270.7 640.3,193 640.4,294.8 640.6,210 640.9,295.5 641,282.3 641.2,197.5 641.7,276.6 641.9,174.6 642.3,277.2 642.4,223.7 642.5,186.7 643,270.2 643.2,255.2 643.4,223.1 643.7,217.5 643.9,299.7 644.2,187.1 644.4,286.6 644.5,194.1 644.7,282.6 645.3,205.5 645.4,268.3 645.5,270.3 645.9,225.3 646.1,307.2 646.3,188 646.7,262.4 646.8,212 647.3,187.6 647.4,318.3 647.8,265.9 647.9,229.3 648.2,260.7 648.4,209.7 648.5,271.7 648.6,230.6 649.3,215 649.4,310.4 649.5,207.6 649.8,270.9 650.2,219.2 650.3,249.3 650.6,286.2 650.7,185.9 651.2,274.3 651.3,229.7 651.6,207 652,277 652,278.1 652.5,222.3 652.5,222.5 653,280.2 653.1,276.9 653.2,194.9 653.5,218.5 653.8,294.4 654.1,164.7 654.5,288.5 654.6,275.8 654.7,212.1 655.1,222.3 655.3,284.1 655.6,212.5 656,289.4 656.1,290.1 656.3,209.2 656.7,283.8 656.8,223.3 657.2,201.5 657.5,265.7 657.7,231.5 657.8,301.7 658.2,218.1 658.5,274.9 658.9,215.9 659,251.6 659.1,268.4 659.5,224.3 659.6,266.1 659.8,219.2 660.3,271.9 660.4,229.2 660.7,178 660.9,301.7 661,249.5 661.4,190.8 661.8,287.8 661.9,230.2 662.2,175.8 662.3,280.3 662.7,271.4 662.9,210.2 663,204.6 663.1,289.3 663.6,278.7 663.8,198.1 664.1,196.8 664.2,311.3 664.5,300.2 664.9,218.6 665.1,276.4 665.2,221.7 665.5,222.3 665.9,260.4 666,205.8 666.5,288.1 666.6,278.3 666.7,181.3 667,216.7 667.2,284.1 667.6,183.1 667.8,293.2 668.2,203 668.5,252.5 668.9,216.8 669,289.8 669.1,292.5 669.2,193.9 669.8,275.3 670,202.5 670,194.5 670.1,279.7 670.5,265.5 670.9,212.4 671.2,225.5 671.4,304.4 671.5,214.8 671.7,265.6 672,291.3 672.4,215.5 672.6,315.4 672.9,193.7 673.1,265.1 673.5,229.5 673.5,219.1 673.9,260.4 674.2,302.1 674.5,237.8 674.7,187.8 674.9,312.4 675.1,207.8 675.5,257.7 675.7,267.1 675.8,206.3 676.1,213 676.2,292 676.7,213.1 676.9,277.4 677,284.3 677.3,193.5 677.7,312.1 677.9,190.6 678.2,283.1 678.3,196.6 678.8,304 679,223.5 679.2,259.3 679.4,156 679.7,236.3 679.9,257.1 680.3,306.7 680.5,193.4 680.6,308.2 680.7,216.6 681.4,275.1 681.5,213.3 681.5,202.5 681.7,277.7 682,277.3 682.1,202.3 682.6,280.3 683,216.1 683.2,268.3 683.3,197.4 683.6,296.7 683.9,218.7 684.3,280.1 684.5,205.3 684.8,309.9 684.9,171 685.4,270.4 685.5,195.7 685.5,180.3 685.6,271.9 686.3,274.9 686.4,217.2 686.6,185.5 686.8,289.6 687.3,225.4 687.4,253.7 687.6,191.7 687.7,305.7 688.1,264.7 688.3,232.9 688.5,254.3 688.9,228.6 689.2,285.1 689.3,203.3 689.6,270.5 689.9,230.1 690.1,256.3 690.5,209.5 690.5,239.4 690.6,264.7 691.1,189.8 691.4,271.1 691.6,191.3 691.8,273.3 692.1,279.7 692.2,230.8 692.5,201.5 692.6,302.3 693.3,261.9 693.4,194.6 693.5,281.8 693.7,233.8 694,225.4 694.5,261 694.6,201.6 694.8,266.9 695.2,227.5 695.4,263.5 695.8,228.9 696,282.3 696.1,191.8 696.4,305 696.7,192.5 696.8,256.6 697.3,279.1 697.5,224.3 697.6,231.3 697.9,273.6 698.3,262 698.4,203.8 698.5,227.2 698.8,282.6 699.3,263 699.4,185.7 699.7,278.2 699.9,219.8 700,221.3 700.5,268.4 700.5,281.8 700.8,218.1 701.2,257 701.4,204.7 701.5,225 701.7,283.4 702.3,270.3 702.5,216 702.5,196.6 702.7,281.5 703.3,226.4 703.5,264.5 703.9,261 704,194.7 704,216.3 704.3,270.9 704.7,273.1 704.8,200.5 705.2,279.5 705.4,208.6 705.7,212 705.9,283.8 706.1,246.2 706.2,216.3 706.7,273.7 706.9,234.8 707,217 707.4,269 707.6,253.3 707.8,211.9 708.4,298.3 708.5,228.8 708.6,209.7 708.8,254.9 709.1,264.3 709.3,227.6 709.8,223.4 710,260.8 710.1,266.7 710.4,213.8 710.6,275.8 710.7,226.1 711.1,275.6 711.3,236.9 711.7,262.4 712,179.7 712.1,262.6 712.4,225.4 712.7,230.2 712.9,268.4 713.3,279.1 713.5,207.2 713.7,215 713.8,255.6 714.1,284.1 714.4,208.9 714.8,263.3 715,196.6 715.1,225 715.2,280 715.6,183.9 715.7,300.3 716,219.7 716.1,270.2 716.6,216.4 716.6,257.1 717.1,259.7 717.3,213.6 717.6,228.9 717.8,251.7 718.3,264.9 718.5,233.8 718.6,214.2 718.7,284.2 719.1,212.2 719.3,295 719.6,282.4 719.8,210 720.2,270.2 720.5,226.2 720.8,163.8 721,271.3 721.1,283.3 721.2,204.1 721.6,280.6 721.7,209.2 722.1,266.8 722.4,212.3 722.8,205.1 723,317.6 723,299.8 723.2,209.9 723.7,278.9 723.9,192.2 724.2,216.5 724.5,269 724.7,221.4 725,274.6 725,285 725.3,214.1 725.8,331.8 725.8,214.7 726.3,273.8 726.4,188.8 726.6,277.3 727,222.8 727,194.7 727.5,283.1 727.9,188.4 728,261.9 728,301.4 728.2,214.4 728.7,204.7 728.8,284.1 729.1,201.1 729.4,272.4 729.6,200.5 729.8,270.6 730.1,289.5 730.3,184.7 730.6,279.5 731,223.5 731,216.5 731.2,294 731.6,199.1 731.9,267.1 732.3,212.3 732.5,266.5 732.6,304.5 732.8,212.1 733.2,216.7 733.3,300.4 733.7,176.4 733.9,285.6 734.1,214.2 734.2,276.2 734.5,213.6 734.9,279.8 735,257.5 735.4,210.7 735.5,292.1 735.8,223.7 736.2,285.5 736.4,179.8 736.5,295.8 736.7,234.9 737.1,210.1 737.5,276 737.5,288.6 737.7,207.2 738.2,260.6 738.4,191 738.6,284.9 738.7,226.8 739,274.3 739.3,195.2 739.8,297.6 740,225.5 740.3,307.3 740.5,226.7 740.6,272 740.8,217.7 741.1,206.4 741.2,301.4 741.5,193.6 741.7,277 742.2,248.1 742.4,202.6 742.7,262.3 742.9,219.7 743.3,226.1 743.4,287.5 743.5,207.7 743.8,270.1 744,217.5 744.1,259.9 744.6,221.2 744.8,282.5 745.2,193.9 745.4,302.1 745.7,264.3 746,214.1 746.2,191.1 746.5,293.2 746.6,174.2 746.9,292.8 747.3,200.4 747.5,300.5 747.5,282.7 747.7,221.5 748.2,183.1 748.3,294.8 748.5,220 748.8,273.9 749.1,202.3 749.4,313.6 749.7,163.5 749.9,316.2 750.3,195.9 750.5,277 750.8,309.4 750.9,167.6 751.1,271.4 751.3,243.7 751.5,259.1 751.6,189 752.1,283.6 752.3,204.1 752.5,284.6 752.8,170.9 753,281.5 753.3,226.2 753.6,204.6 753.8,284.2 754.3,222.5 754.4,306.9 754.7,198.5 754.8,275.3 755.3,276.1 755.4,220.2 755.8,205 755.9,281 756.2,299 756.5,206.8 756.5,201 756.7,297.7 757.4,236.2 757.5,322 757.7,213.3 757.8,255.9 758.2,216 758.4,287 758.6,278.5 758.8,184.7 759.2,269.1 759.3,226 759.6,191.6 759.7,284.5 760.3,190.6 760.5,280.9 760.6,292.3 760.9,232.9 761.2,280.3 761.4,216.8 761.7,260.9 762,229.2 762.1,259.6 762.3,238.1 762.6,266.5 762.7,230.4 763.1,232.3 763.3,289.4 763.8,231.5 763.9,275.9 764.1,213.2 764.2,275.1 764.7,220.7 764.9,267.7 765.2,265.4 765.3,204.5 765.8,260.2 766,156 766,198.7 766.3,288 766.7,203.6 767,280.8 767.1,196 767.4,294.8 767.5,203.7 767.8,294.7 768.1,208.6 768.5,282.9 768.5,279.4 768.6,186.5 769.2,186.9 769.3,263.1 769.6,273.3 769.8,221.4 770.1,187.8 770.4,282.1 770.8,187.2 770.9,283.6 771.1,225 771.2,278.9 771.5,202.4 771.7,282.5 772.3,206.5 772.4,284.8 772.6,283.3 772.9,173.5 773.2,212.4 773.3,302 773.6,184.4 773.8,318.9 774.1,274.6 774.3,210.6 774.7,262.6 774.8,233.9 775.4,276.4 775.5,224.8 775.6,216.9 776,269.6 776,313.5 776.4,191.3 776.8,285.7 777,188.6 777.1,191.4 777.3,277.9 777.7,201.4 778,301.8 778.2,210.3 778.4,277.9 778.6,193 778.8,301.7 779,272.5 779.4,209.1 779.7,220.7 779.9,293.5 780.1,266.4 780.3,205 780.7,268.6 780.9,218.8 781.2,202.1 781.4,281.1 781.5,216.4 781.9,289.6 782.1,233.6 782.2,258 782.6,223.4 783,272.1 783,289.4 783.2,220.1 783.7,287 783.9,195.5 784.1,284.1 784.5,190 784.5,207.2 785,283.7 785.1,188.3 785.2,293.8 785.5,280.5 785.7,211.6 786,222.2 786.2,269.3 786.7,272.9 786.9,184.7 787,312 787.5,189 787.5,226.9 787.9,295.9 788,202.3 788.3,265.7 788.5,211.7 788.6,284.2 789.3,219.2 789.4,268.5 789.7,271 789.8,221.7 790.2,233.3 790.4,304.3 790.6,196.7 790.9,254.1 791.4,234.1 791.5,257.9 791.6,220.3 792,282 792.1,265.1 792.4,201.6 792.6,315.1 792.7,193.1 793.1,198.3 793.4,302.2 793.8,165.4 793.9,318.2 794,160 794.5,284.8 794.9,216.4 795,303.2 795.1,189.7 795.3,279.9 795.5,206.1 796,275.2 796.2,269.5 796.3,198.7 796.7,179.3 796.9,294.9 797.3,272.4 797.5,210.5 797.6,306.2 798,206.2 798,179.5 798.2,294.4 798.7,224.6 798.8,294.6 799.3,220.8 799.5,271.6 799.8,213.6 799.9,272.9 800.2,226.9 800.4,261.2 800.6,186.4 801,262.3 801.2,218.1 801.4,267.5 801.6,200.4 801.8,265.5 802.1,268.3 802.4,209.2 802.7,271.9 802.8,224.7 803.1,260.7 803.2,184.4 803.6,284.2 803.9,210 804,292.8 804.3,198.5 804.6,279.1 804.8,183 805,267.4 805.4,213.7 805.6,260.3 805.8,218.5 806.1,316.8 806.5,177.8 806.5,222.7 806.8,263.5 807.3,187.7 807.4,272.1 807.7,269.4 807.8,218.2 808.1,196 808.3,276.6 808.6,283 808.9,224.8 809,203" fill="none" stroke="#0000ff" stroke-width="2.0" stroke-linejoin="round"/>
<polyline points="117,255.6 117.3,225.4 117.7,258.5 117.9,234.8 118.2,237.4 118.3,249.2 118.8,247.9 119,239.4 119.1,236.4 119.5,249.4 119.5,249.8 119.9,238.2 120.1,235.8 120.5,247.6 120.6,240 121,249.9 121,251.9 121.4,226.2 121.6,240.4 121.8,260.2 122.2,228.3 122.4,249.8 122.7,233.3 122.9,254 123.2,231.8 123.5,249.3 123.6,244.5 123.9,248.9 124.1,230.3 124.5,253.9 124.7,234 125,249.7 125.1,255.6 125.4,232 125.7,255.3 126,232.8 126.1,233.1 126.2,250.6 126.6,235.6 126.9,249.6 127,246.1 127.3,235.2 127.7,253.3 128,236 128.1,230.7 128.4,254.9 128.8,233.5 129,252.7 129.1,254.8 129.3,231.1 129.7,253.3 130,240.2 130.1,237.9 130.3,245.5 130.6,235.7 131,254.4 131,252.3 131.3,230.8 131.6,256.1 132,229.3 132.1,230.1 132.4,253.4 132.5,247.3 133,238.1 133.1,247.5 133.5,240.5 133.6,240 134,241.7 134.1,239.4 134.4,255 134.6,228.6 135,255.9 135.1,254.4 135.3,230.9 135.6,252.1 135.8,237.4 136.1,247.5 136.4,237.9 136.6,250.4 137,238.9 137.1,244.8 137.5,238.5 137.5,239.2 137.8,253.4 138.1,228.4 138.5,254.1 138.5,253.7 138.7,226.7 139.1,258.8 139.4,237.8 139.7,242 140,233.3 140,234.4 140.4,256.3 140.5,255.3 141,230.9 141,232.2 141.3,254.3 141.5,245.5 141.7,236.1 142.2,258.8 142.5,232.1 142.6,223.5 143,256.2 143,257.1 143.4,237.3 143.8,246 143.9,232.7 144.1,243.9 144.4,237.1 144.5,243.2 144.9,251.6 145,247.7 145.3,229.9 145.7,253.9 146,240.2 146.2,241.5 146.5,248.7 146.5,248.4 146.7,238.4 147.2,239.2 147.5,249.5 147.6,249.2 147.7,237.6 148.1,246.2 148.3,236.2 148.5,246.2 148.9,240.6 149,242.9 149.4,246.8 149.8,238.4 149.9,244.1 150,241.4 150.2,247.1 150.6,238.6 151,247.3 151,247 151.4,239.3 151.6,238.6 151.9,248.3 152,248.8 152.4,238.7 152.6,248.7 153,233.6 153,236 153.3,252.1 153.7,239.3 153.9,245.8 154.1,245.3 154.4,240.5 154.8,240.7 154.9,243.2 155.2,252.2 155.5,235.5 155.6,231.6 155.9,250.3 156.2,237.5 156.4,245.2 156.6,246.2 156.9,238.5 157.3,250.5 157.5,232.5 157.5,233.8 157.9,254.2 158,248.5 158.2,233.9 158.6,247.7 158.8,243.7 159,244.9 159.3,236.1 159.8,239.1 160,246.5 160,250 160.5,236 160.7,240.1 160.9,249.2 161.2,231.2 161.5,253.7 161.6,256.2 161.8,237.8 162.3,229.1 162.4,247.3 162.6,257.3 162.9,234.8 163.1,253.9 163.5,238.1 163.7,228.6 163.9,249.8 164.1,256.2 164.2,233.6 164.6,253.3 165,236.5 165,233.1 165.4,248.2 165.6,232.6 166,253.8 166.1,255.4 166.5,230.6 166.5,228.8 166.8,253.6 167,248.1 167.2,231.8 167.6,256.5 168,232.8 168,235.4 168.3,248.6 168.6,246.5 168.9,238.1 169.2,243 169.3,250.7 169.5,246.9 169.7,233.3 170.1,249.7 170.5,239.7 170.8,248.4 171,241.9 171.1,234.7 171.4,245.6 171.6,237.9 171.7,247.1 172.2,255.2 172.5,228.9 172.5,228 172.9,252.6 173.1,235.6 173.5,249.1 173.6,238.5 174,246.8 174.3,238.2 174.5,245.6 174.6,246.9 175,238.4 175,241.3 175.4,246.8 175.8,235.5 176,243.6 176.1,255.2 176.5,233.2 176.5,235.6 176.7,251 177,236.8 177.4,244.8 177.7,247.1 178,242.7 178.1,235.5 178.4,251 178.8,235.5 179,246.9 179.1,248.5 179.5,240.5 179.6,239.4 180,246 180.2,247.6 180.4,240 180.6,238.7 180.8,245.9 181.1,241.7 181.4,245.6 181.5,240.4 181.9,248.3 182.2,237.5 182.4,245.6 182.5,241.2 182.7,247 183,242.2 183.3,239.7 183.7,247.9 184,241.1 184.1,238.2 184.4,249.4 184.5,247.3 185,237.5 185.1,239.2 185.2,245.9 185.5,241.4 185.8,251.7 186.3,231 186.5,248.7 186.7,253.2 186.9,237.8 187,240 187.2,248.5 187.8,233.9 188,248.4 188.1,237.4 188.5,255.9 188.5,257.6 188.9,231.3 189.3,236.6 189.5,250.5 189.6,252.8 189.8,235.8 190.2,249.8 190.4,237.3 190.7,235.6 190.9,247.4 191.1,241.6 191.3,254.8 191.6,228.4 192,250.5 192,253.7 192.4,236.3 192.6,256.8 192.9,226.9 193.2,255.4 193.5,233 193.6,234.6 193.9,255.8 194,248.6 194.2,230.3 194.6,254.8 194.9,228.6 195.3,259.8 195.5,228 195.5,226.2 195.8,260.1 196.2,227.9 196.5,248.3 196.6,239.2 196.8,253.6 197.2,225.8 197.5,250.9 197.5,258.3 197.9,230.8 198.1,247.6 198.4,238.6 198.6,253.1 199,234.1 199,233.6 199.4,248.4 199.7,239.2 200,246.8 200.3,249.3 200.5,238.7 200.6,234 201,251.6 201.1,252.9 201.4,231.5 201.5,237.2 201.7,252.9 202.2,244.7 202.5,234.9 202.5,235.9 202.8,253.6 203.1,238.2 203.2,245.2 203.6,236.5 203.8,252.5 204.1,231.4 204.4,252 204.7,235.1 204.9,247.3 205.2,235.2 205.5,250.1 205.5,250 205.7,238.7 206,242.7 206.4,245.5 206.9,244.3 207,241.5 207.1,237.7 207.4,250.4 207.7,233.7 207.9,247.7 208.1,250.4 208.2,239.1 208.7,240.7 208.9,246.5 209.2,240.6 209.3,246 209.5,243.8 210,239.8 210,240 210.3,249.8 210.7,232.9 210.9,250.9 211,252.5 211.4,237 211.6,245.6 211.7,240.3 212.3,241.4 212.4,247.3 212.5,246.4 212.8,236.5 213.1,247.6 213.3,238 213.7,250.9 213.9,240.2 214.1,243.6 214.4,237.2 214.6,250 214.9,232.9 215.2,256.1 215.4,232 215.5,230.5 215.8,250.5 216.3,233.5 216.5,248.5 216.6,256 216.9,235.5 217,234.9 217.4,249.6 217.5,248.8 217.8,233.5 218.2,256.8 218.4,231 218.6,226.2 218.9,255 219,250.5 219.5,234.7 219.5,233.3 219.8,255 220.1,228 220.5,246.7 220.7,239 220.8,252.5 221.3,246.7 221.4,237.6 221.7,227.4 222,260.1 222,260.9 222.3,228.8 222.5,247.8 222.8,230.8 223.1,250 223.4,243.1 223.6,250.5 223.9,235.3 224.2,249.9 224.3,234.8 224.6,240 224.7,253.6 225.2,250.4 225.4,231.6 225.5,234.6 225.8,248.4 226.1,249.1 226.3,240 226.5,245.1 226.9,231.6 227.3,251.7 227.4,235.2 227.6,240.1 227.8,249.1 228.2,250.4 228.5,227.1 228.5,229.2 228.8,258.4 229.2,235.4 229.3,242.2 229.5,239.7 229.7,247.9 230,235.3 230.2,248.9 230.6,236.9 231,247.4 231,246.1 231.2,239.8 231.5,240.9 231.8,246.1 232.2,242.3 232.4,246.6 232.7,242.9 232.9,238 233,240 233.4,249.3 233.6,245.2 233.8,236.6 234.2,247.8 234.5,236.9 234.5,237.6 234.8,250.8 235.2,236.8 235.5,245.5 235.6,245.5 235.9,238.3 236,239.8 236.3,248.3 236.6,242.8 236.7,239.9 237.1,247.2 237.5,235.9 237.5,238.9 237.8,250.7 238.1,237.3 238.5,249.5 238.5,250.5 238.9,231.7 239.3,252.6 239.5,237.9 239.6,235.6 239.8,247.8 240.1,232.7 240.4,257.6 240.8,228.6 241,253.6 241.1,253.2 241.3,236.2 241.5,240.1 241.9,248.4 242,247.3 242.3,238.6 242.6,238.7 242.8,249.2 243,246.3 243.4,235.6 243.6,253.8 244,233 244.1,229.7 244.5,251.8 244.6,259.1 245,234.1 245.1,244.8 245.4,229.3 245.7,256.6 246,236.4 246.3,253.3 246.5,228.6 246.5,228.9 246.9,245.3 247.1,235.3 247.3,257 247.6,234.4 247.9,253.7 248.1,223.9 248.5,262.4 248.5,262 248.9,224.5 249.2,257.8 249.5,228.8 249.5,228.3 249.8,252.8 250,230.6 250.4,261.6 250.7,224.8 251,253.4 251,252.8 251.4,241.5 251.5,249.6 251.8,237.8 252.1,234 252.5,254.1 252.5,253.4 252.8,236.5 253.1,235.5 253.5,244.8 253.5,252.6 253.9,239.5 254.2,242 254.4,253 254.7,232.4 255,251.1 255,251.6 255.2,239.9 255.8,248.3 256,235.8 256,234.1 256.4,252.1 256.5,246.3 256.7,239 257.2,247.3 257.5,239.9 257.5,239.1 257.9,249 258,249.5 258.5,240 258.8,234.9 259,257 259,255.6 259.3,232.7 259.5,246.9 259.9,235.4 260.1,251 260.5,237 260.5,236.8 260.8,250.6 261.2,232.2 261.5,250.3 261.5,251.6 261.8,236.1 262.1,248.6 262.4,234.8 262.5,236.5 262.7,250 263.3,245.7 263.4,239.3 263.8,248.5 263.9,241 264.2,234.6 264.5,247.1 264.5,250.8 265,238.6 265.2,235.1 265.4,253.3 265.5,249.6 266,241 266.2,231.6 266.4,253.2 266.5,250.3 266.7,230.6 267.1,255.7 267.5,234.6 267.5,236.1 267.9,249.1 268.1,237.2 268.4,251.7 268.5,248.7 268.8,237.2 269.1,237 269.4,257.9 269.5,251.4 269.8,227.4 270.1,255.3 270.3,238.6 270.6,255 271,234.3 271,233.5 271.2,248.8 271.7,237.5 271.9,249.1 272.1,250 272.3,236.4 272.6,249 272.8,234 273.2,258.9 273.5,226 273.5,227 273.7,258.1 274,226.2 274.3,247.8 274.5,236.4 274.8,255.8 275.1,230.6 275.3,240.2 275.5,238.4 275.8,254.7 276.1,232.5 276.4,251.9 276.5,243.5 276.9,232.8 277.3,261.3 277.5,235.9 277.6,225.6 278,251.2 278,251.6 278.5,235 278.5,235.2 278.8,256.2 279.1,246.5 279.5,235.2 279.5,236.3 280,244.7 280.1,253.7 280.5,235.5 280.6,243.7 281,233.2 281,235.6 281.2,249.7 281.7,250 282,240.2 282.1,235.6 282.2,242.6 282.7,242.8 283,248.8 283,250.8 283.4,233.4 283.6,241.1 283.7,250.3 284.3,239.8 284.4,246.1 284.7,245.7 284.8,235 285.2,253.2 285.5,240.2 285.6,233 285.9,251.6 286.3,232.6 286.5,249.1 286.6,252.2 287,240.8 287.3,235.2 287.5,245.2 287.7,254.6 287.9,235.5 288.1,235.2 288.5,249.6 288.5,249.5 288.9,237.1 289.4,249.6 289.5,242.9 289.6,235.8 290,248.2 290,247.2 290.2,234.8 290.6,250.5 290.9,237.9 291.2,240.6 291.3,247.5 291.7,232 292,250.5 292,253.7 292.5,232.6 292.6,236.9 292.8,256.1 293.1,231.1 293.4,257.5 293.8,226.1 294,254.3 294.1,257.8 294.3,229 294.5,234.6 294.7,256.5 295.1,231.4 295.3,247.3 295.6,247.7 296,232.6 296,232.5 296.3,258.8 296.6,228.6 296.8,252.3 297.1,252.8 297.4,231.8 297.5,236.5 297.7,258.3 298.1,225 298.5,256.7 298.5,256.2 298.7,235.1 299.2,236.7 299.4,252.6 299.6,234.9 300,254.7 300,250.7 300.3,231.5 300.7,253.2 301,239.3 301.1,231.9 301.4,251.6 301.7,238.4 301.8,245.6 302.2,234.8 302.4,253.6 302.8,225.9 303,255.6 303.1,260.1 303.3,230.3 303.5,234.5 303.8,251.8 304.2,234.5 304.4,249.4 304.5,248.4 304.8,231.9 305.1,257.1 305.5,239.1 305.6,230.1 305.9,255.4 306.2,234.3 306.5,257.4 306.5,254.8 306.8,226.8 307.1,259.1 307.5,226.9 307.5,228 307.8,259.7 308.1,228.5 308.5,251.5 308.6,234.9 308.8,247.8 309.3,258.2 309.4,229.3 309.5,227.4 309.8,259.9 310.1,229 310.5,252.5 310.5,251.2 310.9,230.5 311,236.3 311.2,256.4 311.6,231.5 311.8,247.9 312.1,241 312.3,252.3 312.7,226.4 313,254.5 313.1,261.6 313.5,224.3 313.5,226.7 313.9,254.4 314,248.2 314.5,230.5 314.5,229.1 314.8,261.2 315.1,227.4 315.4,252.6 315.6,233 315.9,258 316.3,225.3 316.5,253.7 316.6,261.3 316.9,230.5 317,228.9 317.5,258.9 317.5,259.7 317.8,224.9 318.1,261.5 318.4,233 318.6,242.5 318.7,233.8 319.1,258 319.5,235.7 319.5,238.3 319.8,243.6 320.3,237.4 320.5,247.3 320.6,250.7 321,235.6 321,238 321.4,251.7 321.8,236.5 322,245.8 322.3,249.8 322.5,236.7 322.7,234.2 322.9,252.8 323,247.8 323.3,237.4 323.6,239.1 323.9,246.6 324.2,250.2 324.3,239.7 324.8,238.8 325,244.5 325.2,248.8 325.4,240.4 325.6,240 325.9,247.8 326,250 326.5,232.6 326.5,233.9 327,254.6 327,251.5 327.4,228.1 327.7,254.7 327.9,238.6 328.1,233.6 328.3,249.2 328.5,247.5 328.7,239.6 329.2,237.9 329.5,247.4 329.8,237 329.9,250.9 330.3,233.5 330.5,255 330.6,253.9 330.8,231.6 331.1,249.5 331.3,242.3 331.6,232 332,258.4 332.1,254.2 332.4,232 332.8,250.7 333,234.6 333,231.7 333.5,260.7 333.6,258.9 333.9,227.3 334.1,250.2 334.4,234.9 334.6,241.5 334.8,256.1 335.3,233.3 335.5,246.2 335.5,248.6 335.9,233.9 336.3,254 336.5,230 336.6,234 336.8,259.2 337.1,226.7 337.5,259.7 337.5,260.1 337.9,230.6 338.1,251.4 338.4,237.8 338.7,230.1 339,252.6 339.1,257.9 339.4,227 339.6,231 339.8,259.4 340.2,227.2 340.5,252.8 340.5,254.9 340.9,236.9 341.2,247.4 341.4,234.2 341.7,250.7 341.9,237.5 342.1,246.5 342.5,235.4 342.6,237.1 342.9,247.7 343.1,238.6 343.4,249.2 343.8,237.3 344,245.8 344.2,245.1 344.3,239.9 344.5,241.4 344.9,247.4 345.3,237.9 345.5,244.5 345.6,247.9 345.9,238.4 346.2,247.9 346.5,238.5 346.5,239.7 346.8,246 347.1,239.5 347.5,248.7 347.5,247.3 347.7,236.9 348.1,247.6 348.4,238.1 348.6,245.5 349,240.5 349.3,244.7 349.5,239.1 349.5,238.2 349.8,247.5 350.2,244.6 350.3,237.2 350.5,238.9 350.7,252.2 351.1,237.6 351.4,244.5 351.7,246.8 351.9,236.2 352,239.2 352.4,249.4 352.5,245.2 352.8,236.2 353.2,247.4 353.3,235.7 353.5,239.7 353.7,252.2 354,246.4 354.3,233.2 354.7,249.2 354.9,234.3 355.2,250.5 355.4,241.5 355.6,250.6 355.9,230.5 356,236 356.2,248.3 356.7,251.2 356.9,238.4 357.1,239.8 357.4,247.7 357.8,232.7 358,247.3 358.1,254.9 358.4,235.8 358.5,240 358.8,248.6 359.2,245.5 359.3,237.8 359.6,233.7 359.7,256.6 360.1,230.5 360.5,247.7 360.7,235.3 361,247.3 361,250.3 361.2,239.3 361.8,238.7 361.9,250.8 362.3,235.5 362.4,244.2 362.7,249.8 363,235.3 363,232 363.3,253.7 363.7,238.3 363.8,246.3 364,237.5 364.4,243.9 364.6,257.3 365,232.9 365,236.5 365.4,249.1 365.8,234.5 366,249.2 366,251.4 366.4,232.5 366.5,240 366.9,256.8 367,249.1 367.3,225.4 367.6,257.5 368,239.1 368,240.5 368.3,244.4 368.7,236 369,256.8 369,254.5 369.3,230 369.7,255.5 369.9,236.3 370,235.5 370.2,243.7 370.5,241.4 370.9,246.1 371.2,251.5 371.4,238.5 371.6,229.6 371.9,252.9 372,248.4 372.2,236.3 372.8,252.7 372.9,237.3 373.2,231 373.5,249 373.8,243.5 373.9,248.7 374,245.4 374.2,233.8 374.7,244.9 374.8,251.3 375.3,228.7 375.5,251.9 375.6,257.3 375.9,232.1 376,233.1 376.3,250.9 376.5,250.5 376.8,240.3 377,242.4 377.3,235.1 377.5,243.2 377.7,251 378,248.5 378.4,230.9 378.7,248.8 378.9,242.1 379.1,245.2 379.5,240.3 379.8,248 380,236.7 380,237.5 380.3,241.8 380.5,242.9 380.7,251.3 381,243.1 381.4,236.1 381.5,241.5 381.8,245.9 382.1,250.9 382.5,237.7 382.6,245.7 382.9,236.1 383,240.2 383.3,248 383.6,242.9 383.8,246.8 384.1,237.1 384.4,244.7 384.6,232.9 385,257.5 385.1,253.3 385.3,235.6 385.7,249 385.9,240.7 386.2,230.2 386.5,255 386.6,255.2 386.7,235.1 387.1,250.4 387.3,231.2 387.6,254.2 387.9,235.1 388.1,238.7 388.2,256.9 388.6,227.1 388.9,256.6 389.2,236.6 389.4,252.8 389.7,237.4 389.8,247.6 390,246.7 390.2,232 390.9,248 391,241 391.1,254.1 391.5,230.2 391.5,227.4 391.8,251 392,234.2 392.3,251.3 392.6,237.9 392.9,243.1 393.1,238.9 393.2,250.7 393.7,233.1 394,253.4 394.1,252.7 394.4,241.2 394.5,245 394.8,234.4 395.1,252.5 395.4,242.4 395.7,238.6 395.9,244.3 396.1,246.7 396.2,238.3 396.6,249.4 396.9,229.5 397.2,258.1 397.5,230.5 397.6,229.3 398,253.2 398,252.1 398.2,233.2 398.6,251.4 398.8,238 399.1,251.2 399.4,229.4 399.6,253.1 400,236 400.1,239.5 400.2,247.8 400.5,239 400.7,248.1 401,237.3 401.4,248.2 401.7,244.7 401.8,241 402,223.7 402.1,262 402.5,241.6 402.8,249.3 403.3,241.8 403.5,245.6 403.6,239.1 403.9,246.6 404.1,241.5 404.4,247.5 404.7,235.6 405,247.5 405,248.4 405.3,238.5 405.5,241.6 405.6,247.4 406.2,243.2 406.3,238.9 406.6,240.9 407,247.1 407.1,240.7 407.5,245.8 407.7,237.4 408,245.5 408.2,241.5 408.4,249.6 408.5,247.1 408.7,233 409.1,250.9 409.5,235.9 409.5,236.9 409.9,253.7 410,244.6 410.2,234.4 410.6,249.4 411,237.1 411.1,246.9 411.4,236 411.6,254.4 412,229.5 412,233.6 412.3,249.7 412.6,238.2 413,245.9 413,246 413.5,238.5 413.7,254 414,238.3 414.1,230.9 414.5,253.4 414.5,252.1 415,235.3 415,236.5 415.3,252.3 415.6,229.3 416,254.3 416,253.9 416.5,232.2 416.6,229.5 416.8,258.5 417.1,233.5 417.5,246.5 417.8,248.9 418,236.7 418.2,237.9 418.4,250.7 418.6,246.9 418.8,235.5 419.2,239.4 419.4,256.8 419.7,227.5 419.9,250.1 420.1,260.1 420.4,235 420.5,237.1 421,253 421,250.6 421.3,237 421.6,244.7 422,241 422.1,245.6 422.4,240.7 422.8,246.3 422.9,238.8 423.1,236.1 423.4,255.9 423.5,249.7 423.8,228.1 424.2,255.4 424.4,232.1 424.5,231 424.9,251.9 425,245 425.5,230.6 425.5,235 425.8,251.8 426.1,234.6 426.5,257.7 426.5,257.1 426.9,226.6 427,239.9 427.3,251.6 427.8,255.8 428,233.3 428.1,228.6 428.5,252.3 428.5,249.3 428.7,235.8 429,253.8 429.4,234.6 429.6,244.5 429.9,238.4 430.1,237.1 430.3,251.6 430.5,252.5 430.9,237.6 431.3,249.8 431.5,232.7 431.5,234.6 431.8,259.9 432.2,232 432.3,245.1 432.6,237.6 433,248.9 433.1,255.5 433.4,230.3 433.5,229.7 433.8,247.8 434.1,252.3 434.5,231 434.5,232.1 434.9,248.4 435.1,251 435.5,235.2 435.5,237.6 435.8,255.1 436.2,224.9 436.5,260 436.6,259.6 436.9,234.7 437.1,246.3 437.4,238 437.5,240 438,251 438.1,248.1 438.3,233.7 438.6,252.2 438.9,231.9 439.2,233.5 439.5,258.3 439.6,259.3 439.8,227.9 440,239.2 440.1,252.9 440.7,248.4 440.9,233.8 441.2,246.3 441.5,238.9 441.9,247.4 442,237.7 442,236.1 442.4,251.6 442.6,246.4 443,232.7 443,234.2 443.4,256.2 443.7,231.3 444,252.5 444.1,250.5 444.4,235.8 444.5,241.7 444.8,251.6 445.2,235.6 445.5,247.2 445.6,246.3 446,239.1 446.1,237.9 446.4,256.2 446.5,250.8 446.8,229 447.2,252.6 447.5,238.5 447.5,237.3 447.9,252.5 448.1,231.6 448.5,250.6 448.7,254.7 448.9,235.6 449.1,235.3 449.3,250.6 449.7,233.1 450,246.9 450.3,238.8 450.5,247.9 450.6,252.3 450.9,228.5 451,232.5 451.3,256.2 451.6,247.5 451.7,233.5 452.1,251.8 452.5,231.4 452.6,227.9 453,261.3 453.1,259.3 453.4,225.5 453.5,232 453.9,252 454.3,238.3 454.4,256.6 454.8,228.6 455,245.7 455,249.7 455.4,231.1 455.8,254.9 456,240.6 456.2,243.8 456.4,233.7 456.6,234 456.9,253 457,248.6 457.3,237.8 457.6,245.4 457.9,232.4 458.1,256.5 458.5,242.6 458.5,244.5 458.8,234.6 459,240 459.2,253 459.6,226.6 459.9,260.9 460,253.2 460.2,228.2 460.7,246.3 460.9,252.2 461,246.3 461.5,233.2 461.5,233.5 461.9,249.6 462.2,249 462.5,230.7 462.5,232 462.7,258.6 463.1,230.3 463.5,243.9 463.7,250.6 464,240.2 464.1,234.1 464.5,249.6 464.7,236 465,249.2 465,248.3 465.4,237.9 465.5,240.6 465.7,245.1 466.1,248.1 466.4,232.4 466.5,236.7 466.8,251.9 467.1,240.3 467.5,244.6 467.6,241.7 468,244.3 468,244.7 468.2,241.3 468.6,245 469,241 469,241 469.4,248.3 469.7,235.1 469.9,243.9 470.1,252.3 470.5,237 470.5,237.2 470.8,244.4 471.3,244.4 471.4,241.9 471.7,247.5 472,240.5 472.1,238.1 472.3,246.7 472.7,244.2 472.9,239.5 473,240.7 473.2,249.5 473.8,245.8 474,236.8 474,235.3 474.4,249.4 474.6,236.6 475,252.1 475,249.8 475.3,233.2 475.5,238.2 475.8,249.9 476,250 476.4,228.9 476.5,238.7 476.8,257.9 477.2,231.2 477.4,247 477.5,246.5 477.6,239.1 478,240.9 478.4,255.3 478.7,229.8 478.9,253 479,253.2 479.4,228 479.5,234.3 479.8,257.6 480.1,244.3 480.4,233.1 480.5,230.2 480.9,252.7 481.3,235.2 481.4,250.4 481.6,251.4 481.8,229.5 482,238.7 482.2,253 482.8,232.8 483,247.5 483.1,251.5 483.3,234.1 483.6,234.1 484,258.6 484,256.4 484.3,231.7 484.5,244.6 484.9,250.7 485.1,237.6 485.4,245.3 485.6,234 485.9,251.1 486.1,236.3 486.4,252.7 486.5,250.3 486.8,235.4 487,243.3 487.3,251.9 487.8,232.9 487.9,239.4 488.3,253.3 488.5,239.2 488.6,232.9 489,253.4 489,252.9 489.3,232.4 489.6,236.9 489.8,255.2 490.2,231.8 490.5,249 490.5,254.2 490.9,230.6 491.2,258.6 491.5,235.6 491.7,248.2 491.9,229.6 492,232.9 492.3,259.3 492.6,235 492.8,250.5 493.1,233.2 493.4,252 493.8,239.9 493.9,247.1 494.2,249 494.3,233.2 494.7,253.8 495,234.2 495,233.1 495.4,254 495.6,244.2 495.9,232.9 496,238.3 496.2,246.8 496.6,252.9 496.9,230.9 497.1,238 497.3,251 497.7,235.6 498,249.8 498.1,253.2 498.5,232.2 498.6,232.1 498.9,255.8 499,248.6 499.2,232.5 499.6,251.9 500,232.9 500.1,233.3 500.2,251.6 500.5,235.7 500.9,256.6 501.3,229 501.5,247.1 501.6,255.1 502,236.2 502,234.9 502.4,253.5 502.7,228.7 503,252.7 503.1,253.9 503.3,234.8 503.6,252.4 504,237 504.2,254.1 504.5,230.8 504.6,228.2 505,257 505,254.7 505.4,233.8 505.6,253.6 505.8,238.4 506.2,230 506.4,249.7 506.6,259 506.8,230.2 507.1,256.4 507.5,237.7 507.7,234.3 508,247.3 508.1,254.2 508.4,241.9 508.5,246.3 508.9,225.2 509.2,262.7 509.5,223.6 509.5,223.6 509.8,261.2 510.1,228.2 510.4,252.1 510.6,251.3 511,230 511,235 511.2,257.8 511.6,231.3 512,246.9 512.2,250.6 512.3,237.3 512.5,238.2 512.7,256.9 513,234.1 513.2,251.9 513.5,230.6 513.9,254.9 514.2,237.4 514.4,250.3 514.6,244.8 515,236.1 515,236.5 515.2,249.7 515.6,230.1 515.8,260.4 516.1,225.3 516.5,258.8 516.5,257.9 516.8,226 517.1,258.6 517.4,238.2 517.6,255.2 517.8,229.5 518.2,254.1 518.5,231.4 518.5,235.6 518.8,254 519.2,232 519.4,255.7 519.5,251.3 519.8,228.2 520.1,253.3 520.5,243.8 520.7,234.5 520.9,245.5 521.2,240.5 521.3,246.6 521.6,238.1 521.9,252.5 522,247.9 522.4,235.2 522.5,241.9 522.8,247.6 523.3,244.7 523.5,240.1 523.5,240.8 523.8,245.7 524.2,238.5 524.4,243.9 524.6,246 525,241.5 525,241.8 525.4,248.3 525.5,242.6 525.7,237.9 526,241.2 526.2,249.3 526.8,244.8 527,240.1 527.1,237.3 527.4,248.7 527.5,246.9 527.7,238 528.2,247.5 528.4,239.6 528.7,242.6 528.9,238.1 529,239.3 529.3,249.9 529.5,247.5 529.9,236.4 530.1,246.1 530.4,241.8 530.5,245.2 530.9,237.5 531.1,250.6 531.4,230.9 531.5,238.5 531.8,253.3 532.2,236.6 532.3,244.7 532.5,242.2 532.9,247.2 533.2,232.5 533.4,252.9 533.5,252.5 533.8,227.9 534.1,254.9 534.4,237.9 534.6,245.5 534.9,238.9 535.2,247.8 535.5,236.5 535.8,256.7 536,230.6 536,227.9 536.4,254.3 536.6,238.1 536.9,243 537,237.8 537.2,251 537.5,249 537.9,228 538,239.1 538.2,251.5 538.6,246.5 538.8,241 539.2,235.5 539.4,247.5 539.6,251.6 540,237.8 540.1,227.7 540.5,258.5 540.5,254.9 540.8,231 541.2,251.7 541.5,239 541.6,233.4 541.8,248.5 542.2,236.7 542.4,250.7 542.5,252.4 542.8,232.8 543.1,239.7 543.2,253 543.5,248 543.9,234.7 544.1,246.3 544.5,242.3 544.5,242.6 544.7,247.2 545,245 545.4,236.1 545.6,249.9 545.9,235.9 546.2,251.3 546.5,235 546.5,237 546.9,246.6 547.1,237.7 547.5,246.6 547.6,247.4 547.9,239.1 548.3,248 548.5,236.7 548.6,235.1 548.8,253.7 549.1,237.2 549.3,244.1 549.7,237.8 550,251 550.1,250.9 550.2,232.7 550.6,252.7 551,240.9 551.3,236 551.5,248 551.6,247.3 551.8,239.9 552.1,241 552.4,245.4 552.8,248.1 553,239.2 553.2,237.5 553.4,250.6 553.5,247.3 553.9,235.8 554.2,254.4 554.4,239.5 554.7,234.4 555,250.3 555,251.8 555.4,240.3 555.8,239.9 556,250.6 556.1,251.3 556.5,231.3 556.5,233.8 556.9,258.6 557.1,227.9 557.5,252.5 557.6,252.2 557.8,234.4 558.1,253.5 558.5,235.5 558.6,236.3 558.9,245.5 559.1,244.2 559.5,240.7 559.5,240.3 559.8,253.1 560,244.2 560.2,236.9 560.6,231.7 560.9,258 561,254.8 561.2,230.2 561.5,249.8 561.8,228.7 562.1,257.1 562.3,236.2 562.6,250.7 563,235.4 563,235.2 563.4,247.6 563.6,242.2 563.7,249.9 564,245.1 564.3,236.8 564.5,240.3 564.9,245.7 565.2,252.7 565.5,241.1 565.6,230.5 566,243.6 566.3,255.7 566.5,236.7 566.6,234.6 566.8,249.4 567,243.5 567.2,237.9 567.5,239.2 567.9,248.7 568,239.3 568.4,243.6 568.7,248.3 568.9,240.6 569.1,239.4 569.5,247.8 569.7,251 570,238 570.1,236.9 570.3,241.8 570.5,240.2 570.9,252.4 571,242.1 571.2,234.9 571.7,248.6 572,238.4 572,237.5 572.3,250.5 572.7,244.5 573,235.2 573,234.3 573.3,250.5 573.5,245.5 573.9,237.9 574.2,250 574.5,241.6 574.7,230.2 575,253.2 575,255.2 575.3,236.5 575.6,244.7 575.9,240.8 576.3,246.4 576.5,241.9 576.7,241.2 576.9,243.5 577.2,241.1 577.4,250.9 577.5,250.7 577.8,231.3 578.2,252.2 578.4,236.2 578.5,237.3 578.8,252.4 579.1,232 579.4,251.5 579.8,236.1 580,247.5 580.1,244.2 580.4,249.6 580.8,231.4 581,248.7 581,250.3 581.4,240.7 581.8,237.2 581.9,251.4 582,255 582.4,228.6 582.7,256.9 583,232.1 583,231.6 583.4,253.3 583.5,253 583.9,233.5 584.2,249.9 584.4,237.3 584.6,240.2 584.8,252 585,244.3 585.2,238.6 585.7,239.2 586,244.4 586.3,249.4 586.4,245.2 586.7,232.6 587,244.2 587.1,241.3 587.3,248.1 587.6,238.2 587.8,248.1 588.2,245.3 588.5,237.4 588.6,231.9 588.9,254 589,249 589.4,236.3 589.5,236.9 589.7,248.7 590.1,234.9 590.4,248.3 590.6,248.7 590.9,235.8 591.1,232.2 591.5,253.3 591.5,253.3 591.9,232 592,242.2 592.3,253.3 592.5,247.6 592.7,230.8 593.1,249.2 593.3,237.3 593.5,242 593.7,256.8 594.1,231.9 594.2,239.9 594.8,251.8 595,238.9 595.1,236.9 595.4,245.6 595.5,249 595.9,234.6 596.1,236.3 596.3,251.4 596.7,237.6 597,247.7 597.2,251.8 597.5,234.2 597.6,230 597.8,254.3 598.2,235.2 598.3,246.4 598.6,248.2 599,234.6 599,233.9 599.2,247.3 599.5,236.2 599.7,251.1 600.2,250.8 600.5,237.4 600.6,231.6 601,248.6 601,250.6 601.3,239.4 601.6,250.2 601.8,235.9 602.1,236.1 602.4,251.4 602.8,232.3 603,248.7 603.1,256.1 603.5,234.1 603.5,232.8 603.9,244.6 604.2,248.8 604.5,236.3 604.6,233.6 604.9,248.9 605.2,237.2 605.5,248.7 605.5,247.1 605.7,239 606.3,247 606.5,242.5 606.7,239.3 606.9,244.5 607.4,249.2 607.5,240.5 607.6,239.3 607.9,249.4 608.2,238 608.5,246.3 608.5,246.2 608.8,239.8 609.1,242.7 609.2,247.4 609.9,238.4 610,246.6 610.2,248 610.4,236.2 610.6,236.1 611,254.3 611,250.5 611.3,232.4 611.5,249.8 611.9,237.3 612.3,248.1 612.5,241.4 612.6,241 612.9,245.3 613.3,238.1 613.5,245.5 613.7,252.4 614,236.5 614.1,234.7 614.3,249.3 614.5,245.5 615,235.4 615.1,236.8 615.3,249.9 615.5,245.8 615.7,240.3 616.3,235.8 616.4,248 616.7,255.2 617,228.9 617,227.1 617.4,259.1 617.5,244 617.7,230.5 618,239 618.4,253.7 618.6,234.8 619,248.9 619,249.6 619.5,221.8 619.6,266 619.8,230.6 620.2,259.7 620.5,234.2 620.6,230.2 621,252 621,253.2 621.3,235.3 621.7,253.2 622,238.8 622,232.1 622.4,245.2 622.5,235 622.9,251.9 623.1,230.4 623.5,254 623.5,256.6 623.9,233.8 624,238.8 624.3,245.3 624.7,249.4 625,232.9 625,232.5 625.3,255.2 625.7,231.8 626,248.1 626.2,249.7 626.4,242 626.6,236 627,253.5 627,251.3 627.4,234.2 627.6,252.7 627.9,239.7 628.1,236.4 628.5,246.9 628.5,245.4 628.7,237.9 629.2,251.5 629.5,234.6 629.5,232.8 629.8,252.6 630.2,235.9 630.4,246.8 630.7,248.8 630.9,239.1 631.1,239.9 631.5,249.3 631.8,238.3 631.9,248.6 632,250 632.4,235.6 632.8,251.3 633,240.8 633.2,237.3 633.3,242.5 633.6,247.9 634,236 634,238.4 634.4,249 634.5,244.1 634.8,237.7 635.2,247.5 635.5,240.1 635.6,237.7 635.9,245.1 636.2,248 636.4,236.2 636.5,235.1 636.9,252.6 637.2,235.6 637.5,247.4 637.6,250.2 637.9,235 638,236.7 638.2,252.1 638.6,236.4 638.8,249.6 639,248 639.4,234.2 639.7,251.2 640,240.2 640.1,237.6 640.5,248.2 640.5,248.2 640.9,238.3 641.1,237 641.5,250.2 641.5,251.2 641.9,235.1 642.3,249.6 642.4,237.9 642.5,236.4 642.8,251.5 643,247 643.3,235.8 643.7,246.1 643.8,239.3 644.1,241.7 644.5,248.6 644.5,246.7 644.9,235.9 645.2,248.2 645.4,242.5 645.7,248.4 646,237.8 646,237.9 646.2,245.7 646.5,239.5 646.7,246.7 647.2,251.5 647.5,232.9 647.5,233.7 647.8,249.4 648.2,240.4 648.4,244.3 648.6,246.8 648.7,240.8 649.1,244.1 649.3,239.4 649.7,246.5 649.8,240.7 650.2,246.6 650.5,239.7 650.7,239.2 650.9,245.4 651.4,247.3 651.5,240 651.7,238.9 651.9,244.6 652.1,246.8 652.5,238.3 652.7,237.7 652.9,248.2 653.1,247.5 653.3,237.2 653.7,250.2 654,239.1 654,238.3 654.3,248.7 654.6,239.1 654.9,244.5 655.1,242.2 655.4,246 655.5,243.7 655.8,236.7 656.1,240.1 656.2,251.4 656.6,235 657,246.2 657.3,238.5 657.4,245.7 657.6,244.5 657.8,239.8 658.1,248.7 658.5,235.2 658.5,233.1 658.9,245.2 659.2,252.3 659.5,238.8 659.8,248 660,235.7 660,233.1 660.3,251.8 660.6,239.1 660.8,251.2 661.1,235.4 661.4,247.5 661.6,237 662,247.5 662.2,249.5 662.5,246 662.5,244.8 662.7,233.8 663.1,248.8 663.4,242.3 663.6,251.2 663.9,240 664.1,243.7 664.5,234.5 664.5,236.7 664.7,250.4 665.2,251.1 665.5,231.4 665.5,231.8 665.9,249.1 666.3,236.6 666.4,247.8 666.6,250.9 666.8,236.5 667,236.9 667.4,253.7 667.8,233.3 667.9,252.6 668.1,251.1 668.3,230.8 668.7,249.8 668.9,234.1 669.3,256.6 669.5,230.8 669.6,231.8 669.9,252.2 670.3,234.8 670.5,250.4 670.8,237.7 671,252.3 671,249.1 671.3,231.1 671.5,242.5 671.7,256.8 672.1,227.7 672.3,250.8 672.5,243.7 672.9,233.1 673,235 673.3,260.9 673.6,227 673.9,253.3 674.3,229.4 674.5,254.3 674.7,257.3 674.9,232.5 675.2,247.3 675.4,233.3 675.8,254.9 676,238.4 676,239.9 676.3,245.4 676.7,236.5 677,250.4 677,255.8 677.4,231.6 677.5,238 677.7,249.4 678.1,236.5 678.5,247.9 678.5,251.2 678.7,237.5 679.2,233 679.4,258.3 679.5,256.9 679.8,224.8 680.1,257.9 680.5,228.9 680.5,228.6 680.9,258.5 681,246 681.3,232.6 681.7,247 681.8,235.7 682.2,256.8 682.5,238.4 682.6,233.2 682.8,244.8 683,238 683.4,255.9 683.8,236.1 684,253.4 684,252.8 684.4,234.6 684.7,245.5 684.9,252.2 685.1,233.9 685.4,257.1 685.5,250.1 685.8,230.1 686,247.7 686.3,241.9 686.6,238.8 687,254.3 687,250.1 687.3,227 687.6,258.3 687.9,231 688,223.7 688.1,260.3 688.6,254.1 688.9,227.5 689.2,258 689.4,239.8 689.6,235.2 690,241.5 690.1,253.4 690.5,231.8 690.6,231.3 690.9,258.9 691,259.9 691.4,227.1 691.7,257.4 692,231.9 692,231.6 692.3,253.7 692.6,231.6 693,247.5 693.2,247.4 693.5,240.6 693.6,234.7 693.9,249 694.1,236.9 694.5,247.8 694.5,245.6 695,233.2 695,236.8 695.3,254.5 695.6,235.4 696,247.9 696.2,252.5 696.4,232.3 696.5,234.5 696.9,254.4 697.2,233.4 697.5,249.9 697.8,250.8 698,237.8 698.2,232.5 698.4,252.1 698.7,238.1 698.9,250.2 699.1,236.1 699.4,253.3 699.7,233.8 699.9,251 700,252.8 700.2,227.1 700.6,262.1 701,228.4 701,226.1 701.4,255.8 701.5,256.1 701.8,227.1 702.2,257.7 702.4,236.2 702.8,251.2 703,234.5 703.2,230.1 703.3,253 703.6,253.2 704,228.2 704,229.5 704.3,256 704.6,229.5 705,256.4 705,253.7 705.5,235.1 705.7,234.2 705.9,253.7 706.2,236.9 706.4,252.3 706.6,236.2 706.7,247.9 707.2,232.6 707.5,249.7 707.7,256 708,228.7 708,231.3 708.2,251 708.6,238.5 708.7,246.1 709.1,244 709.2,247.4 709.8,228.7 710,249.4 710.2,258.9 710.4,229.4 710.6,235.6 710.7,252.5 711.1,236.7 711.4,247 711.5,241.3 711.9,247.2 712.1,237.6 712.5,247.4 712.5,247.6 712.9,234.1 713,235.2 713.3,256.6 713.6,231.8 714,249.6 714,247.9 714.2,238.5 714.6,245.7 714.9,236.8 715.3,250.3 715.5,237.3 715.5,236 715.9,247.6 716.3,240 716.5,245.8 716.6,246.8 717,239.7 717,239.8 717.4,248.9 717.7,233.1 718,249.3 718.1,253.6 718.5,235.7 718.5,238.2 718.8,246.4 719,237.7 719.4,247.5 719.6,245.5 719.8,239.9 720,241 720.5,246.8 720.5,246.9 720.9,233.6 721.2,252.3 721.5,237.1 721.7,243.7 721.9,237.9 722.3,247.3 722.5,240.1 722.7,246.1 722.9,239.1 723.2,251.6 723.5,235.1 723.5,235.7 723.8,250.2 724.2,240.7 724.4,245.5 724.6,244.6 725,238.1 725,239 725.4,247.5 725.8,238.5 726,246.6 726.1,254.8 726.4,229 726.5,231.7 726.8,257.7 727.1,233.1 727.5,246.1 727.6,248.6 728,242.9 728.3,233.6 728.5,251.9 728.5,249.9 728.8,233.6 729.2,248.6 729.4,237.5 729.5,241 729.7,246.9 730.2,245 730.3,238.5 730.6,240.8 730.8,249 731.3,234.4 731.5,254.9 731.5,252.5 731.8,226.7 732.2,259.5 732.5,237.3 732.6,227.1 732.9,250.1 733.2,231.9 733.5,249.4 733.6,254.7 733.8,234.5 734.2,249.5 734.3,237.9 734.5,238.7 734.9,246.3 735,241.6 735.2,249.2 735.7,245.7 735.9,234.7 736.1,234.7 736.3,258.2 736.6,236.3 736.8,244.9 737.1,236.9 737.3,253.7 737.7,229.6 737.9,252.2 738,253.3 738.3,231.6 738.6,254.4 739,235.8 739.1,229.1 739.4,255.7 739.5,255.6 739.7,233.4 740.1,249.8 740.5,237.1 740.5,236.1 740.9,246.5 741.2,253.1 741.5,236 741.5,233.7 741.9,248.8 742.2,244.4 742.4,235.7 742.7,255.3 743,231.1 743,230 743.3,256.5 743.5,249.6 743.9,230.5 744,233.1 744.5,253.3 744.5,256.8 745,227.3 745,228 745.4,257.6 745.7,226.4 746,262.4 746,262.6 746.3,225.1 746.7,252.1 746.9,230.6 747,231.1 747.3,261.9 747.6,226.5 748,257.5 748,254.7 748.4,226 748.5,235.4 748.8,261.3 749,244.7 749.1,232.2 749.5,234.4 749.8,257.5 750.1,226.5 750.4,254.4 750.5,250.7 751,241 751.4,233.4 751.4,240.7 751.6,257.6 752,233.5 752.1,229.7 752.5,255.2 752.5,257.9 752.9,228.9 753,231.4 753.3,251 753.7,237.9 753.8,246.5 754,246.9 754.2,234.3 754.6,250.6 754.8,237.5 755,239.3 755.4,251.6 755.5,242.7 755.9,237.8 756.1,237.3 756.3,251.6 756.7,237.1 757,248.2 757,246.8 757.5,236.8 757.6,237.4 757.9,249.2 758.1,239.4 758.4,245.5 758.7,236.8 758.9,248.1 759.3,234.8 759.5,247.4 759.8,242.7 760,248.3 760.2,245.6 760.4,232.5 760.7,248.2 760.9,237.5 761.3,252.5 761.5,237.3 761.8,244.1 762,237.3 762.1,233.3 762.5,257.5 762.5,258.3 762.9,227.8 763.3,254.4 763.5,234.5 763.6,229.9 764,257.5 764,257.4 764.4,231.4 764.6,250.9 765,234.3 765.1,235.2 765.3,252.6 765.7,233.5 766,255.5 766,253.8 766.3,231.5 766.6,245.7 766.8,251.1 767,247.6 767.2,231.4 767.5,253.5 767.9,239.7 768.1,242.3 768.2,234.8 768.7,254.7 769,234.5 769,234.8 769.3,245.4 769.6,240.9 769.8,248.9 770.1,232 770.5,252.2 770.5,253.1 770.9,235.9 771.2,239.7 771.3,253 771.6,233.3 772,251 772,252.3 772.4,235.4 772.6,237.9 772.8,252.8 773,253.4 773.2,226.7 773.6,259.5 773.9,235.1 774.2,249.3 774.4,231.9 774.5,237.4 774.7,253.2 775.2,253.2 775.5,232 775.6,233.8 775.7,254 776,235.8 776.2,247 776.8,247.9 776.9,241 777.2,233.2 777.5,242.3 777.6,252.7 777.9,242 778.1,251 778.4,232.3 778.7,253 779,231 779,230.7 779.4,255.9 779.6,241.8 780,231.5 780,232.7 780.3,253.7 780.5,247.4 780.7,239.6 781,241.6 781.4,246.9 781.7,232.6 782,246.4 782.1,254.8 782.5,244.8 782.8,227 783,242.7 783.2,255.3 783.5,243.5 783.6,243 783.8,236.1 784.2,254 784.5,231.2 784.5,227.5 785,256.9 785,254.6 785.4,233.3 785.7,247.8 785.9,232.7 786,238.6 786.2,254.2 786.7,251.5 787,230.8 787,227.6 787.3,258.2 787.7,225.6 787.9,260.7 788,261.3 788.3,227.6 788.5,247.8 788.9,230.7 789.1,241.8 789.3,259.9 789.7,225.9 789.9,250.9 790.2,235.1 790.5,251.3 790.5,251.8 790.9,236.9 791,235.8 791.2,243.6 791.7,252 791.9,233.4 792,236.4 792.3,256.3 792.6,235.4 792.8,246.5 793.2,240.3 793.4,245.3 793.7,248.4 793.9,238.3 794.2,246.5 794.4,236.5 794.6,239.9 794.8,251.9 795,246.7 795.2,236.3 795.6,248.7 795.9,236 796,242.1 796.3,249.1 796.5,245.9 796.8,238.1 797.2,240.5 797.5,248.7 797.5,247.4 797.8,237.4 798,246.4 798.3,239.5 798.5,241.7 798.7,245.7 799.1,239.3 799.5,245.9 799.5,243.6 799.9,239.4 800.1,249.3 800.5,236.6 800.5,238.7 800.8,248 801,240.4 801.3,244.9 801.5,245 801.7,241.3 802.3,239.3 802.5,247.9 802.6,249.9 802.9,237 803,237 803.2,248.5 803.5,240.5 803.9,246.8 804,240.3 804.4,245.8 804.7,244.9 805,237.2 805,234.4 805.3,251.5 805.5,242.8 805.7,234.8 806.2,250.3 806.5,239 806.6,236.1 807,246.5 807.3,252.8 807.4,238.2 807.6,229 807.8,253.2 808.1,240.7 808.4,247.4 808.6,232.6 808.9,257.2 809,257.9" fill="none" stroke="#ff0000" stroke-width="2.0" stroke-linejoin="round"/>
<polyline points="1034.8,326.4 1050,327.2 1070,329 1090,332.3 1100,335.5 1110,341 1116,346.5 1120.3,354 1124,363 1126.6,373.5 1128.5,385 1130,398 1131,414 1132,433 1133,410 1134.5,372 1137,320 1139.2,262 1139,164.4 1139.1,192 1139.5,183.3 1139.6,166.3 1139.8,193.9 1140.1,179.1 1140.5,192.2 1140.7,182.9 1141,164.3 1141.2,205.1 1141.3,164.1 1141.7,170.9 1141.8,165.8 1142,157.9 1142.3,223.3 1142.7,169.4 1142.9,206.1 1143,172.9 1143.4,211.4 1143.7,174.7 1143.9,233.2 1144,192.4 1144.4,149.9 1144.7,162.2 1144.9,142.3 1145.1,140.5 1145.4,194.6 1145.6,168 1145.7,158.5 1146.1,178.7 1146.2,142.2 1146.7,140.7 1146.9,219.4 1147.3,154.1 1147.4,196 1147.6,154.6 1147.9,161.8 1148.1,142.4 1148.4,159.2 1148.6,182.5 1148.8,170.4 1149.1,229.1 1149.3,160.5 1149.6,147.4 1149.8,179.6 1150.1,202.8 1150.3,162.5 1150.6,187.7 1150.8,152.5 1151.3,186.3 1151.5,166.2 1151.7,208.1 1152,147.3 1152.2,152.7 1152.3,179.3 1152.7,175.1 1152.8,140.7 1153,261.3 1153.2,160.9 1153.7,187.7 1153.9,164.6 1154,157.8 1154.4,156.6 1154.7,183.2 1154.9,159.2 1155.2,163.2 1155.4,194.9 1155.6,220.3 1155.9,163.7 1156.1,146.9 1156.4,174.2 1156.6,176.3 1156.9,188.2 1157.1,174.2 1157.2,190.1 1157.6,180.6 1157.8,190.9 1158.1,232.8 1158.3,208.5 1158.6,234.7 1158.9,177 1159.1,248 1159.4,201.6 1159.8,202.8 1160,188.7 1160.1,196.8 1160.3,205.9 1160.6,230.7 1160.8,183.8 1161.3,200 1161.5,175.9 1161.8,225.6 1162,197.3 1162.2,229.4 1162.5,193.2 1162.7,203.1 1162.8,228.9 1163,192.1 1163.2,230.4 1163.5,247.2 1163.9,211.5 1164.2,203.8 1164.4,236.8 1164.5,212.3 1164.7,235.4 1165,247 1165.4,223 1165.7,212 1165.9,247 1166.1,213.6 1166.4,227.8 1166.6,208.3 1166.9,215.1 1167.2,219.9 1167.4,246 1167.7,260 1167.9,224.7 1168.3,228.4 1168.4,222.1 1168.6,202.7 1168.9,238.7 1169.1,216 1169.3,219.3 1169.6,233.6 1169.9,245.9 1170.1,250.4 1170.3,230 1170.6,265.2 1171,222.2 1171.1,234.4 1171.5,252.1 1171.6,214.2 1172,201.7 1172.3,242.6 1172.5,204.7 1172.7,198.6 1172.8,188.3 1173.2,197 1173.3,226.7 1173.5,200.8 1173.8,214.4 1174.2,194.5 1174.4,188.6 1174.5,179.6 1174.9,199.4 1175,183.2 1175.4,217.1 1175.5,172.7 1175.9,186.1 1176.2,229.6 1176.4,189.6 1176.7,211.9 1176.9,187.5 1177.1,167.9 1177.2,192.6 1177.6,167.3 1177.7,189.5 1178.2,181.8 1178.4,176.9 1178.6,223.3 1178.8,175.9 1179.1,200.3 1179.4,166.1 1179.8,154.3 1179.9,185 1180.1,195.6 1180.3,208.4 1180.8,172.4 1181,215.6 1181.3,171.5 1181.5,192.6 1181.6,154.7 1181.8,199.3 1182.3,205 1182.5,157.7 1182.8,168.6 1183,177 1183.2,159.1 1183.5,219.2 1183.7,185.8 1183.8,154 1184,143.7 1184.3,184 1184.5,138.2 1184.9,168.6 1185.2,142.4 1185.4,192.5 1185.7,142 1185.9,206.2 1186,145.2 1186.4,186.5 1186.5,149.9 1186.9,167.9 1187.1,157.6 1187.4,180.1 1187.6,172.3 1187.9,152.2 1188.1,167.3 1188.2,147.1 1188.6,150.6 1188.9,156.5 1189.1,166.6 1189.3,140.4 1189.6,144.5 1189.8,164.4 1190.1,153.5 1190.3,199.5 1190.8,137.8 1191,149.3 1191.1,165.9 1191.5,133.4 1191.8,167.6 1192,199.2 1192.1,155.3 1192.3,142 1192.8,166.9 1193,211.8 1193.3,149.4 1193.5,191.7 1193.7,193.3 1193.8,151.2 1194.2,153.1 1194.3,179 1194.7,191.8 1194.8,150.7 1195,203 1195.4,153.6 1195.5,159.2 1195.9,190.6 1196,168.3 1196.4,131.9 1196.7,176 1196.9,145.8 1197.2,155.3 1197.4,165.5 1197.7,162.4 1197.9,140.6 1198.1,169.1 1198.4,151.1 1198.7,190.2 1198.9,125.8 1199.1,163.5 1199.4,132.5 1199.6,143.1 1199.9,155 1200.1,153.2 1200.4,162.7 1200.6,133.4 1200.9,142.8 1201.3,153.2 1201.5,138.2 1201.6,155.8 1202,122.9 1202.1,146.5 1202.5,183.2 1202.8,136.5 1203,154.5 1203.1,146.9 1203.3,165 1203.7,170.8 1203.8,123.6 1204.2,120.2 1204.5,146.5 1204.7,143.1 1204.8,137.2 1205,131.3 1205.2,158.7 1205.5,135.2 1205.7,119.9 1206,155.7 1206.2,114 1206.5,146.3 1206.9,158 1207.2,169.5 1207.4,116.5 1207.5,134.7 1207.9,152.5 1208.2,148.7 1208.4,156.7 1208.7,139.3 1208.9,154.5 1209.2,183.3 1209.4,177 1209.6,124.3 1209.7,113.6 1210.1,129.5 1210.3,135.1 1210.6,141.1 1210.9,120.3 1211.1,141.6 1211.3,186.6 1211.8,116.2 1212,164.7 1212.1,123.4 1212.5,169.6 1212.8,172.8 1213,129.1 1213.1,126 1213.5,138.4 1213.8,137.6 1214,128.7 1214.3,104.8 1214.5,124.3 1214.8,140 1215,138 1215.2,138 1215.3,123 1215.5,128.2 1215.8,177.9 1216,112.3 1216.2,121.1 1216.5,131.2 1216.7,126.7 1217.2,108.8 1217.4,114.4 1217.7,128.4 1217.9,109.8 1218.2,126.2 1218.4,146.7 1218.6,150.8 1218.7,131 1219.1,120.1 1219.2,100.5 1219.6,128.4 1219.9,122.6 1220.2,110 1220.4,119.1 1220.6,129.4 1220.8,140.6 1221.3,122 1221.4,138.3 1221.6,163.6 1221.8,112.6 1222.1,145.2 1222.5,119.6 1222.8,113.4 1223,100.6 1223.3,149.3 1223.5,103.6 1223.6,106.3 1223.8,146.5 1224.1,96.4 1224.3,153.2 1224.8,95.5 1225,128.5 1225.2,132.9 1225.5,110.1 1225.7,151.8 1225.8,132.1 1226,127.3 1226.3,100.5 1226.5,106.5 1226.9,163.2 1227.2,119.9 1227.4,88.7 1227.5,103.9 1227.9,108.1 1228.2,125.9 1228.4,109.2 1228.5,122.4 1228.7,116.5 1229.1,128.8 1229.2,121.4 1229.6,134.2 1229.9,158 1230.1,113.6 1230.2,95.6 1230.6,109.3 1230.7,120.5 1231.1,195.8 1231.3,109.8 1231.8,149.2 1231.9,104.5 1232.3,154.8 1232.4,125.2 1232.6,163.4 1232.8,114.6 1233.3,127.2 1233.5,92.3 1233.6,94.9 1233.8,152.3 1234.1,163 1234.5,106.5 1234.6,123.2 1234.8,107.4 1235.3,148.9 1235.5,99.8 1235.7,138.3 1235.8,119.7 1236,109.3 1236.2,100.1 1236.7,134.4 1236.8,137.8 1237,104.4 1237.4,143.4 1237.5,112.6 1237.7,138.2 1238,125.2 1238.2,148.1 1238.7,115.9 1238.9,150.6 1239,98.3 1239.2,126.3 1239.6,106.1 1239.9,155.9 1240.1,105.5 1240.2,135.4 1240.6,104.4 1240.9,141.3 1241.1,122.6 1241.4,97.8 1241.6,149.1 1241.9,110.7 1242.3,187 1242.4,110.1 1242.6,89.3 1242.8,132 1243.1,100 1243.5,138.1 1243.6,108.8 1243.8,94.7 1244.1,130.5 1244.3,88.7 1244.8,114 1245,131 1245.3,96.7 1245.5,120.4 1245.8,145.1 1246,107.5 1246.2,117 1246.3,102.2 1246.7,105.4 1246.8,87.2 1247,91.2 1247.2,126.9 1247.5,91.4 1247.9,119.5 1248,97.1 1248.4,141.6 1248.5,92.2 1248.9,145.2 1249,146.5 1249.2,96.2 1249.5,107.1 1249.9,134.8 1250.2,138.2 1250.4,106.2 1250.7,127.5 1250.9,111.3 1251.2,85 1251.4,130.9 1251.8,77.4 1251.9,144 1252.1,112.9 1252.3,98.7 1252.6,103.3 1252.8,131.8 1253.1,135.7 1253.3,106.8 1253.8,93.3 1254,131.4 1254.1,109.6 1254.5,91.5 1254.6,95 1254.8,113.4 1255.1,97.5 1255.5,123 1255.6,87.5 1256,116.4 1256.2,97.8 1256.3,114 1256.7,100.2 1256.8,107.8 1257,91.3 1257.3,115.3 1257.5,89.7 1257.8,119.4 1258,93.2 1258.2,103.4 1258.5,128.9 1258.9,90.6 1259,91.3 1259.4,70.8 1259.5,100.4 1259.7,128.5 1260,100 1260.4,101.6 1260.6,129.6 1260.7,78.5 1261.1,133.4 1261.4,103.5 1261.7,96.6 1261.9,110.8 1262.1,134.4 1262.4,86.4 1262.6,159.9 1262.9,98.1 1263.3,102 1263.4,150.8 1263.8,104.5 1263.9,125.2 1264.1,103.3 1264.3,117.5 1264.6,112.6 1265,82 1265.3,94.8 1265.5,138.3 1265.8,94.9 1266,135.1 1266.1,117.5 1266.5,89.4 1266.7,110 1267,98.7 1267.2,98.7 1267.3,102.1 1267.7,95.4 1267.8,114.7 1268.2,99.1 1268.3,128 1268.5,144.7 1268.7,75.8 1269,109.4 1269.2,149.4 1269.5,118.7 1269.9,88.8 1270,97.9 1270.4,142.1 1270.5,95 1270.7,81.5 1271.1,110.2 1271.4,149 1271.7,109.8 1271.9,83.8 1272.1,103.5 1272.4,88.5 1272.8,82.4 1272.9,129.7 1273.1,105.2 1273.3,90.6 1273.6,106.1 1273.9,122.3 1274.3,133.7 1274.4,92.3 1274.6,95.6 1275,149.1 1275.1,141.8 1275.5,101.6 1275.6,99 1276,182.6 1276.1,101.4 1276.5,127.2 1276.8,122 1277,97.2 1277.3,114.4 1277.5,133.1 1277.7,114.4 1277.8,98.7 1278,140.9 1278.3,97.1 1278.7,78.6 1278.8,113.9 1279.2,154.2 1279.4,102.4 1279.7,100.2 1279.9,139.1 1280,161.4 1280.4,93.7 1280.5,84.7 1280.9,97.8 1281,126.7 1281.2,87.3 1281.7,114.7 1281.9,88.3 1282.1,96.2 1282.4,88.6 1282.6,141.1 1282.7,114.9 1283.3,99 1283.4,115 1283.6,76.6 1283.9,155.7 1284.1,98.8 1284.4,140.5 1284.6,139 1284.9,114.1 1285.1,99.1 1285.3,128.3 1285.8,99.2 1286,81.5 1286.1,85.5 1286.5,103.8 1286.6,145.1 1287,90.7 1287.1,99.5 1287.5,94.8 1287.7,95.9 1288,138 1288.2,104.2 1288.3,123 1288.7,122.7 1288.8,191.7 1289,107.8 1289.2,83.7 1289.5,103.6 1289.7,78.7 1290.2,95.5 1290.4,127.7 1290.7,99.4 1290.9,128.4 1291,92 1291.2,153 1291.6,96.2 1291.9,161.2 1292.1,93.4 1292.4,154 1292.6,126.2 1292.7,109.9 1293.1,106.3 1293.2,96.7 1293.8,112.6 1293.9,137.1 1294.1,132.8 1294.4,102.8 1294.6,124.3 1294.8,77.4 1295.1,89.4 1295.3,109.6 1295.6,79.5 1296,107.4 1296.1,124.6 1296.3,91.5 1296.8,122.1 1297,109 1297.1,121.3 1297.5,76.1 1297.6,94.7 1298,117.6 1298.2,129.1 1298.5,94.2 1298.7,111.8 1298.8,92.2 1299,95.9 1299.2,134.8 1299.5,101.1 1299.8,109.1 1300.2,83.2 1300.4,108.7 1300.5,168.2 1300.9,88.5 1301,148.6 1301.2,90.8 1301.5,114.6 1301.9,133.1 1302.1,155.7 1302.4,83.8 1302.6,121.6 1302.7,100.1 1303.2,125.8 1303.4,70.1 1303.7,107 1303.9,90.5 1304.1,98.3 1304.3,75.3 1304.6,106.9 1304.8,99.6 1305.3,84.4 1305.4,100.9 1305.6,127.5 1305.8,91.6 1306.1,95.4 1306.5,110.8 1306.8,87.7 1307,132.3 1307.3,82.5 1307.5,130.4 1307.6,118.1 1307.8,106.2 1308.1,104.4 1308.5,87.3 1308.7,115.7 1309,93.2 1309.2,126.9 1309.3,96 1309.5,83.9 1309.8,96.8 1310,82.7 1310.3,117.1 1310.7,117.7 1310.9,82.3 1311,111.5 1311.4,104.5 1311.5,83.5 1311.9,93.6 1312,124.9 1312.2,88.9 1312.6,114.2 1312.7,116.5 1313.2,104 1313.4,150.8 1313.6,148.5 1313.9,99.8 1314.1,105.8 1314.4,85.9 1314.6,102 1314.9,129.2 1315.1,104.5 1315.3,111.3 1315.6,111.5 1315.9,104.1 1316.1,132 1316.4,109.9 1316.8,90.1 1317,138.6 1317.1,106.7 1317.3,172.8 1317.8,86.3 1318,116.8 1318.1,183.9 1318.3,79.8 1318.6,95.5 1319,146.7 1319.2,87.1 1319.5,110.1 1319.7,103.7 1319.8,135.7 1320,163.4 1320.3,95.3 1320.7,158.6 1320.8,110.3 1321,103.1 1321.4,122.8 1321.5,102.3 1321.9,94.7 1322,82.7 1322.4,112.6 1322.7,113.9 1322.9,89.1 1323.1,133 1323.2,92.3 1323.6,144.1 1323.9,81 1324.1,91.8 1324.2,108.6 1324.6,130.3 1324.9,95 1325.1,130.2 1325.4,84.5 1325.8,112.2 1325.9,105.3 1326.1,133.1 1326.3,99 1326.8,104.1 1326.9,80.1 1327.3,100.4 1327.5,108.3 1327.8,85.8 1328,139.3 1328.3,101.2 1328.5,134 1328.6,97.8 1328.8,87.1 1329.1,92.9 1329.3,86.6 1329.7,103.9 1330,80.1 1330.2,88.9 1330.3,106.4 1330.5,86.1 1330.8,88.8 1331,95.6 1331.2,98.5 1331.7,127.9 1331.9,109.4 1332,108.4 1332.4,131.8 1332.5,105 1332.7,124.2 1333.2,94.4 1333.4,123 1333.7,160.1 1333.9,125.3 1334.2,82 1334.4,115.8 1334.6,83.3 1334.9,114 1335.1,104.2 1335.2,141.7 1335.8,145.5 1335.9,118 1336.1,163.6 1336.3,108.2 1336.6,94.9 1336.9,133.7 1337.3,102.9 1337.4,166 1337.6,112.8 1338,95.2 1338.1,127 1338.3,107.4 1338.6,95.8 1339,115 1339.3,155.4 1339.5,119.8 1339.6,107.1 1340,93.5 1340.2,85.2 1340.3,87.7 1340.7,86.6 1340.8,87.4 1341,100.1 1341.3,88.9 1341.5,128.1 1341.7,84.9 1342,124.5 1342.4,101 1342.5,152.7 1342.9,81.3 1343.2,118.3 1343.4,104.9 1343.7,123 1343.9,85.8 1344.2,96.7 1344.4,114.5 1344.6,111.3 1344.7,116.6 1345.1,106.8 1345.2,148.7 1345.6,102.1 1345.9,99.3 1346.3,99.3 1346.4,158 1346.6,129.6 1346.8,86.6 1347.3,92.3 1347.4,101.6 1347.8,162.7 1347.9,109.4 1348.3,113 1348.5,108.3 1348.6,129.2 1348.8,99.8 1349.1,81.9 1349.3,125.2 1349.6,84.4 1349.8,122.3 1350.1,123.7 1350.3,107.2 1350.7,103.4 1350.8,94.9 1351.2,132.8 1351.3,119.9 1351.7,96.6 1351.8,136.8 1352,103.7 1352.2,81.6 1352.7,145.4 1352.9,103.8 1353.2,82.2 1353.4,113.8 1353.5,146.6 1353.7,77.8 1354.2,174.2 1354.4,90.9 1354.6,82.9 1354.7,111.2 1355.1,88.8 1355.2,101.6 1355.7,109.4 1355.9,87.8 1356.2,137 1356.4,102.9 1356.6,105.1 1356.9,99.1 1357.1,89.4 1357.3,114.1 1357.6,103.7 1357.8,141.5 1358.1,105.4 1358.4,171 1358.6,97.8 1359,116.9 1359.1,140.4 1359.5,101 1359.6,73.7 1359.8,103 1360.3,91.5 1360.5,112 1360.6,103.9 1361,122.2 1361.2,131.3 1361.3,95.7 1361.7,110.1 1361.8,124.6 1362.2,101.4 1362.3,112.2 1362.7,137.6 1362.9,109.1 1363,120.4 1363.4,72.9 1363.7,70.9 1363.9,152.8 1364.2,90 1364.4,104.6 1364.7,91.5 1364.9,138.6 1365.2,122.8 1365.4,111 1365.6,94.3 1365.7,130.2 1366.2,88.4 1366.4,111.4 1366.6,87.8 1366.9,105.9 1367.1,172.3 1367.3,91.7 1367.6,80.4 1367.9,112.8 1368.1,95.5 1368.3,144.8 1368.8,114.6 1368.9,92.3 1369.1,161.7 1369.3,103.7 1369.6,89 1370,119.7 1370.1,129.9 1370.5,94.9 1370.6,114.5 1370.8,79.7 1371.3,126.6 1371.5,75.9 1371.7,98.2 1372,151.2 1372.2,113.3 1372.3,118.5 1372.7,99 1372.8,82.2 1373,79.1 1373.4,123.3 1373.5,85 1373.9,109.8 1374,115.4 1374.2,83.7 1374.7,106 1374.9,88.5 1375.2,97.4 1375.4,134.2 1375.6,95.5 1375.9,88.9 1376.2,138.4 1376.4,91.8 1376.6,145.4 1376.9,125.2 1377.2,110.4 1377.4,77 1377.6,116.7 1377.8,74.6 1378.1,115 1378.3,98.5 1378.8,97.2 1378.9,74 1379.1,118.2 1379.4,79.7 1379.6,93.3 1380,79.1 1380.1,99.8 1380.3,109.4 1380.6,120.7 1381,104 1381.3,112.2 1381.5,104.6 1381.8,110.8 1382,132.5 1382.3,87.8 1382.5,109.6 1382.7,106.5 1382.8,124 1383,108.3 1383.3,92.7 1383.7,94.8 1383.9,110.4 1384,162.4 1384.4,102.2 1384.7,77.3 1384.9,163.3 1385,116.6 1385.4,98.2 1385.5,158.1 1385.7,98.1 1386.1,139 1386.4,81.2 1386.6,129.7 1386.9,90.9 1387.1,112.1 1387.4,75.7 1387.7,124.7 1387.9,92.4 1388.3,110.8 1388.4,82.8 1388.6,101.7 1388.8,128.9 1389.3,106.7 1389.4,82.1 1389.8,106 1389.9,95.8 1390.3,111.6 1390.5,122.3 1390.6,108.2 1391,118.1 1391.1,149.8 1391.5,105.7 1391.6,100.5 1392,93.4 1392.3,85.5 1392.5,140.9 1392.7,87.3 1393,83.2 1393.2,88.5 1393.3,115.1 1393.7,87.4 1393.8,139.2 1394,102.8 1394.2,136.3 1394.7,88.8 1394.9,123.5 1395,118.8 1395.2,107.4 1395.5,116.5 1395.7,86.9 1396.2,88.3 1396.4,108.7 1396.7,80.9 1396.9,97.4 1397.2,128.1 1397.4,103 1397.6,102.6 1397.9,124.8 1398.2,123.8 1398.4,96.4 1398.6,89.1 1398.8,119.2 1399.3,167.9 1399.4,94.6 1399.6,97.7 1399.9,82.1 1400.3,99.3 1400.4,134.9 1400.6,105.3 1400.8,122.8 1401.3,88.6 1401.5,137.6 1401.6,108.1 1402,145.8 1402.1,99.8 1402.3,110.5 1402.7,134.2 1403,95.1 1403.3,89.7 1403.5,136.5 1403.7,109 1403.8,84 1404,80.3 1404.2,106.6 1404.5,75.4 1404.7,106.2 1405,76.3 1405.4,91.4 1405.5,156.5 1405.9,118.3 1406.2,92.9 1406.4,102.1 1406.7,99.4 1406.9,117.6 1407.1,86.2 1407.2,155 1407.6,137.7 1407.9,86.2 1408.1,131.3 1408.2,79.1 1408.6,87.1 1408.7,100.3 1409.3,84.2 1409.4,73.2 1409.6,96.4 1409.8,79.3 1410.1,114.2 1410.4,86 1410.6,104.6 1410.9,95.1 1411.1,91.4 1411.3,123 1411.8,87.1 1412,130.5 1412.3,106.6 1412.5,130.7 1412.6,129.7 1413,101.2 1413.3,91.7 1413.5,102.9 1413.7,160.1 1414,100 1414.2,84 1414.3,96.6 1414.5,109.6 1414.8,123.8 1415,131.6 1415.4,85.1 1415.5,104.7 1415.9,86.3 1416.2,82.5 1416.4,104.4 1416.7,94 1416.9,101.4 1417.2,111 1417.4,91 1417.6,107.4 1417.7,77.6 1418.2,83.3 1418.4,129.2 1418.6,110.4 1418.9,91.7 1419.1,93.7 1419.4,153.7 1419.6,85.5 1419.9,102.2 1420.1,114.9 1420.3,99.3 1420.6,108.2 1420.8,86 1421.1,94.4 1421.4,115.4 1421.6,122.1 1421.8,94.1 1422.1,126 1422.3,98.5 1422.8,78.3 1423,101.2 1423.3,147.3 1423.5,97.4 1423.7,131.2 1423.8,96.4 1424.2,108.2 1424.3,152.1 1424.7,116.7 1424.8,107.7 1425,124.1 1425.2,88.5 1425.7,108.9 1425.9,124.1 1426,119.1 1426.4,131.2 1426.5,90.5 1426.9,98.7 1427.2,97.6 1427.4,111.3 1427.7,126.1 1427.9,143.1 1428.2,80.4 1428.4,135.1 1428.6,105.6 1428.7,90.3 1429.2,122.8 1429.4,79.7 1429.6,89.4 1429.7,115.8 1430.1,100.4 1430.3,102.9 1430.6,100.3 1430.9,110.1 1431.3,125.5 1431.4,107.4 1431.6,95.7 1431.8,127.4 1432.1,78.3 1432.3,110 1432.6,94.4 1432.8,89 1433.1,78.4 1433.5,143.2 1433.6,90.7 1434,97.8 1434.3,127.8 1434.5,114.3 1434.8,109.4 1435,76 1435.2,106.6 1435.3,110.6 1435.5,110.3 1435.7,89.2 1436.2,89.7 1436.4,134.9 1436.5,79.9 1436.9,113.5 1437.2,115.5 1437.4,93.8 1437.5,123.2 1437.7,77.8 1438.2,102.8 1438.4,82 1438.7,83.9 1438.9,131.8 1439.1,145.9 1439.2,113.6 1439.6,127.3 1439.7,99.8 1440.2,92.1 1440.4,138.4 1440.8,101.3 1440.9,90.6 1441.1,92.6 1441.3,142 1441.8,91.5 1441.9,119.9 1442.1,105.9 1442.3,114.7 1442.6,88 1442.8,99.2 1443.3,151.9 1443.5,80.2 1443.6,101.8 1443.8,117.5 1444.1,115.5 1444.3,93.8 1444.7,80.9 1444.8,113.1 1445.2,116.3 1445.5,79.7 1445.7,100.1 1445.8,106.6 1446,89.5 1446.3,96.6 1446.7,128.7 1446.9,79.5 1447.2,103.9 1447.4,90 1447.7,81.1 1447.9,117.5 1448,107.5 1448.4,137.5 1448.7,147.2 1448.9,106.4 1449.2,99.7 1449.4,85.8 1449.7,97.4 1449.9,125.5 1450.2,79.8 1450.4,96 1450.7,100.6 1450.9,123.2 1451.1,179.5 1451.4,99.4 1451.6,156.8 1451.9,98 1452.1,83.8 1452.4,130.1 1452.8,115.1 1453,89.4 1453.1,123.2 1453.5,103.1 1453.6,94 1454,112.8 1454.1,119.8 1454.3,90.8 1454.6,98.4 1454.8,73.5 1455.2,96.3 1455.5,136.4 1455.8,120.3 1456,86.9 1456.2,90.6 1456.3,121.2 1456.7,111.2 1456.8,88.6 1457.2,129.6 1457.4,100.3 1457.5,102.2 1457.9,116.1 1458,110.2 1458.2,138.7 1458.7,149.4 1458.9,117.4 1459,122.2 1459.4,127.9 1459.6,170.3 1459.9,110.1 1460.2,123.9 1460.4,88.1 1460.6,81.9 1460.7,103.7 1461.2,116 1461.4,174 1461.8,95.3 1461.9,158.5 1462.1,115.3 1462.3,85.6 1462.8,123.4 1462.9,144.2 1463.3,157.1 1463.5,102.5 1463.8,86.7 1464,126.9 1464.1,89.8 1464.3,108 1464.6,110 1464.8,96.4 1465.3,105 1465.5,80.9 1465.7,85.4 1465.8,102.2 1466.3,90.4 1466.5,76.3 1466.7,135.8 1466.8,112.4 1467,131.3 1467.2,90.9 1467.5,97.5 1467.7,117.5 1468,125.3 1468.4,91.1 1468.5,123.9 1468.7,95.7 1469.2,82.5 1469.4,114.2 1469.5,129.5 1469.9,89.3 1470.1,80.5 1470.2,115.6 1470.7,114.7 1470.9,90.5 1471.2,88 1471.4,101.7 1471.7,120.9 1471.9,90.7 1472.3,91.4 1472.4,119.7 1472.6,173.5 1472.8,99.7 1473.3,120.7 1473.4,111.9 1473.6,100 1474,122.1 1474.3,187.2 1474.5,98.1 1474.6,93.4 1474.8,107.3 1475.1,80.8 1475.5,116.7 1475.6,104.2 1476,117.6 1476.2,102.2 1476.5,107.8 1476.7,104.3 1476.8,135.7 1477.2,100.3 1477.3,85.3 1477.5,109.4 1477.7,134 1478,119.7 1478.4,96.2 1478.7,100.8 1478.9,94.4 1479.2,98.9 1479.4,114.7 1479.5,93 1479.9,109 1480,109.6 1480.2,151.6 1480.6,141.2 1480.9,88.5 1481.1,93.7 1481.4,120.4 1481.7,104.3 1481.9,110.7 1482.1,141.2 1482.4,81.4 1482.8,99.1 1482.9,83.1 1483.3,115.4 1483.4,168.5 1483.6,120 1483.8,80.2 1484.3,133.4 1484.5,98.8 1484.6,90.3 1484.8,123.8 1485.1,95.7 1485.5,137.3 1485.6,122.6 1485.8,109.2 1486.1,90.8 1486.5,135.2 1486.7,127.2 1486.8,93.9 1487.2,111.1 1487.3,104.7 1487.7,92.7 1487.8,118.9 1488.2,102.5 1488.3,84 1488.5,78.8 1488.9,132.2 1489,134.5 1489.2,112.8 1489.5,101 1489.7,75.2 1490.2,113 1490.4,120.2 1490.7,100.4 1490.9,116.7 1491.1,132.6 1491.4,108.4 1491.7,101.6 1491.9,116.7 1492.2,107 1492.4,127.6 1492.6,127.7 1492.8,80.7 1493.1,81.9 1493.4,161.8 1493.8,99.2 1493.9,112.8 1494.1,91.8 1494.4,126.3 1494.6,99.9 1494.8,99 1495.1,123 1495.3,112.2 1495.6,109.5 1495.8,140.8 1496.1,84.6 1496.5,144.2 1496.6,169.8 1496.8,104.5 1497.2,92.4 1497.5,150.6 1497.7,102.6 1497.8,107 1498,94.8 1498.3,127.3 1498.7,104 1498.8,137.4 1499.2,104.8 1499.4,142.5 1499.7,101.7 1499.9,116.2 1500,103.2 1500.2,86.1 1500.7,91.3 1500.9,127.6 1501,115.3 1501.2,134.8 1501.6,134.3 1501.7,102.5 1502.1,95.9 1502.4,110 1502.6,125.7 1502.7,109.6 1503.3,182.3 1503.4,111.2 1503.6,107.5 1503.9,128.2 1504.1,108.1 1504.3,114.7 1504.8,122.7 1504.9,93.3 1505.1,115.3 1505.5,81.1 1505.6,77.7 1505.8,118.1 1506.3,108.2 1506.5,116.3 1506.6,109.9 1506.8,87.6 1507.1,76.4 1507.5,114 1507.7,95.8 1507.8,145 1508.2,82.8 1508.3,104 1508.7,95.7 1508.8,156.5 1509,97.4 1509.3,137.2 1509.5,101.4 1509.7,123.4 1510,102 1510.2,138.1 1510.5,154.4 1510.9,113.2 1511,114.9 1511.2,94.4 1511.7,106.5 1511.9,142 1512.1,159.3 1512.4,107.7 1512.7,142.3 1512.9,87.5 1513.1,85 1513.4,190.7 1513.6,96.7 1513.8,102.5 1514.1,104 1514.4,151 1514.6,147.4 1514.9,104.7 1515.1,92 1515.4,108.1 1515.6,145.9 1516,91.5 1516.3,132.8 1516.5,88.1 1516.6,122.5 1517,89.9 1517.3,92 1517.5,102.8 1517.6,120.5 1517.8,81.3 1518.2,129.4 1518.5,113.9 1518.7,109.2 1518.8,93.3 1519.2,156.8 1519.3,96.4 1519.7,130.8 1519.8,97.9 1520,128.6 1520.2,95.8 1520.7,86.3 1520.9,131 1521,102.2 1521.2,89.4 1521.5,134.3 1521.9,83.8 1522,96.8 1522.2,119.7 1522.6,122.4 1522.9,83.9 1523.2,100.6 1523.4,148.1 1523.6,125.6 1523.9,112.4 1524.3,95.6 1524.4,126.5 1524.6,138.8 1524.9,87.1 1525.1,81 1525.4,102.3 1525.6,136.3 1525.9,95.3 1526.1,96.6 1526.3,129.4 1526.6,94.8 1526.8,138.7 1527.1,89.7 1527.5,165.6 1527.6,107.3 1527.8,169.2 1528.3,130.1 1528.5,152.9 1528.7,132.1 1528.8,106.3 1529.2,147.4 1529.3,113.6 1529.5,109.8 1529.8,153.7 1530,104.6 1530.2,120 1530.5,126.7 1530.7,99 1531.2,97.3 1531.4,120.9 1531.5,145.8 1531.9,104.5 1532,94.7 1532.4,104.1 1532.6,108 1532.7,78.1 1533.1,105.3 1533.4,97.7 1533.6,120.3 1533.9,92.3 1534.1,139.2 1534.2,103.6 1534.8,106 1534.9,159.1 1535.1,85.7 1535.4,119.3 1535.8,193.2 1535.9,147.7 1536.1,119.7 1536.3,113 1536.8,125.4 1537,106.7 1537.1,161 1537.5,103.8 1537.6,91.1 1537.8,103.4 1538.1,131.3 1538.3,95.9 1538.6,128.4 1538.8,97.2 1539.3,122.9 1539.5,143.8 1539.7,101.7 1539.8,88.8 1540,112.5 1540.2,122.1 1540.7,145.6 1540.8,114.4 1541.2,107.2 1541.4,91.1 1541.5,118.9 1541.7,91.9 1542,95.7 1542.4,128.6 1542.5,134.7 1542.7,97.4 1543.1,114.4 1543.2,155.7 1543.6,101.7 1543.9,111.7 1544.1,97.8 1544.4,124.4 1544.6,123.2 1544.7,142 1545.1,148.3 1545.4,90.1 1545.6,98.1 1545.9,116.1 1546.3,116.5 1546.4,155.9 1546.8,111.8 1546.9,122.1 1547.3,102.1 1547.5,89 1547.6,86.6 1548,142.7 1548.1,112.9 1548.5,94.9 1548.6,114.8 1548.8,96.8 1549.1,130.5 1549.5,114.1 1549.7,154.6 1550,123.9 1550.2,173.2 1550.3,115.2 1550.5,160.7 1550.7,111 1551,140.7 1551.2,103.7 1551.5,113.5 1551.7,188.3 1552,116.5 1552.4,109 1552.5,120 1552.9,94.5 1553.2,130.1 1553.4,97.6 1553.6,124 1553.7,144.9 1554.1,98.6 1554.2,143.1 1554.6,86.7 1554.9,120.8 1555.1,151.1 1555.4,104.4 1555.6,92.8 1555.9,135.2 1556.1,97 1556.4,123.2 1556.8,89.8 1556.9,118.4 1557.1,105.3 1557.4,131.2 1557.6,91.8 1557.8,138.5 1558.1,142.1 1558.3,112.2 1558.6,118.7 1558.8,87.5 1559.1,115.6 1559.3,135.7 1559.6,101.6 1559.8,108.3 1560.3,180.3 1560.5,123.6 1560.7,106.6 1560.8,110.4 1561.2,142.4 1561.3,122.1 1561.5,111.3 1561.7,187 1562,111.4 1562.2,135 1562.7,115.2 1562.9,138.8 1563,106.6 1563.4,94 1563.5,102.6 1563.9,135.9 1564.1,97 1564.4,165.1 1564.7,125.1 1564.9,146.7 1565.1,125.2 1565.2,111.5 1565.6,118 1565.7,104.4 1566.1,171.5 1566.3,137 1566.6,114.3 1566.9,181.9 1567.3,101.7 1567.4,125.6 1567.8,115.6 1567.9,137.9 1568.1,106 1568.3,135.4 1568.6,134.7 1568.8,114.8 1569.1,98.5 1569.5,120 1569.8,76.8 1570,116.8 1570.1,101.2 1570.3,138.6 1570.7,102.5 1570.8,127.3 1571.2,98.9 1571.3,95.6 1571.7,99 1571.8,106.7 1572.2,158.1 1572.3,123.4 1572.5,100 1572.9,132.2 1573,111.9 1573.4,97.8 1573.5,109.1 1573.9,207.2 1574,117.4 1574.4,179.4 1574.6,111.5 1574.9,151.5 1575.2,107.4 1575.4,100.2 1575.7,98.8 1575.9,113.7 1576.2,101.5 1576.4,192.8 1576.8,139.1 1576.9,113 1577.1,104 1577.4,134.5 1577.8,168.3 1577.9,123.2 1578.1,156.1 1578.4,114.5 1578.8,129.2 1579,114.9 1579.1,115.8 1579.5,110.9 1579.6,130.9 1579.8,101.8 1580.3,165.4 1580.5,125.8 1580.6,148 1581,161.9 1581.3,115.8 1581.5,121.4 1581.7,120.8 1581.8,123.3 1582,143.6 1582.3,129.2 1582.7,177.4 1582.9,129 1583,144.3 1583.4,112.7 1583.5,152.4 1583.7,102.7 1584,168.8 1584.4,117.3 1584.5,99.1 1584.7,120 1585.2,92.2 1585.4,140.4 1585.7,137 1585.9,128.4 1586.2,141.9 1586.4,96.7 1586.7,124.1 1586.9,107.5 1587.3,119.4 1587.4,123.3 1587.6,123.3 1587.8,132 1588.1,162.1 1588.3,133.2 1588.8,102.3 1588.9,121.3 1589.1,122.6 1589.3,130.4 1589.8,106.3 1590,155.3 1590.1,127.6 1590.3,118.4 1590.8,120.3 1591,149 1591.1,116.9 1591.3,172.6 1591.7,201.9 1591.8,142.6 1592.2,126.5 1592.3,119.9 1592.5,134.6 1592.7,120.9 1593,131.6 1593.2,118.6 1593.7,119.4 1593.9,142.7 1594,101.1 1594.2,155.2 1594.5,124.9 1594.9,116.5 1595,110.2 1595.2,135.8 1595.7,150.7 1595.9,172.4 1596.2,132.7 1596.4,118.4 1596.6,152.4 1596.7,124.4 1597.1,135.6 1597.4,130.7 1597.6,147.2 1597.8,127.9 1598.1,172.9 1598.4,109.3 1598.6,118 1598.9,155.2 1599.1,140.5 1599.4,122.5 1599.8,117 1600,133.4 1600.1,123.1 1600.5,174.1 1600.6,111.4 1601,125.8 1601.1,127.9 1601.5,154.5 1601.8,136.1 1602,113.8 1602.3,136.6 1602.5,115.3 1602.7,139.4 1602.8,191.4 1603.2,112.2 1603.3,131.7 1603.7,196.7 1603.9,138.1 1604,143.4 1604.4,106.5 1604.7,159.6 1604.9,119.9 1605,180.4 1605.4,112 1605.5,130.9 1605.9,120.9 1606.1,129.7 1606.2,132.3 1606.7,145.5 1606.9,110.2 1607.1,111.9 1607.2,137.1 1607.6,117.9 1607.9,134.6 1608.1,144.8 1608.4,206.2 1608.6,145 1608.8,135 1609.1,157.8 1609.3,159.5 1609.8,147.2 1609.9,112.8 1610.1,135.6 1610.3,174.4 1610.6,182 1610.8,126 1611.3,127.7 1611.5,175.3 1611.8,120.2 1612,129.4 1612.1,113.7 1612.5,123 1612.7,144.1 1613,130.2 1613.2,143.3 1613.3,122 1613.5,120 1613.8,180.4 1614,137.6 1614.2,153.7 1614.7,124.2 1614.9,185.7 1615,121.6 1615.2,129.1 1615.7,132.6 1615.9,158.6 1616,166.3 1616.2,140.9 1616.6,163.3 1616.9,125.9 1617.2,131 1617.4,168.1 1617.7,153.4 1617.9,123.5 1618.1,115.1 1618.4,132.4 1618.8,131 1618.9,147.6 1619.1,116.6 1619.3,191.2 1619.6,141.6 1619.8,152 1620.3,137.8 1620.4,186.7 1620.6,126.6 1621,191.5 1621.1,116.6 1621.5,143.6 1621.6,172 1621.8,157.6 1622.3,115.6 1622.5,155.1 1622.6,133.9 1622.8,141.6 1623.2,118.8 1623.5,135.3 1623.7,141.5 1623.8,130.2 1624,145.6 1624.3,139.7 1624.7,156.3 1624.9,141 1625,117.9 1625.2,144.7 1625.5,141 1625.7,120.2 1626,125.4 1626.2,213.5 1626.5,136.2 1626.7,125 1627.1,131.7 1627.4,170.5 1627.6,148 1627.9,123.3 1628.1,117.3 1628.4,168 1628.6,121.2 1628.9,174.2 1629.1,109.8 1629.3,152.7 1629.8,116.1 1629.9,134.3 1630.1,117.9 1630.3,137.6 1630.6,146 1630.8,116.7 1631.1,122 1631.3,139.5 1631.6,190 1631.8,128.1 1632.1,159.9 1632.3,133.9 1632.6,147.3 1632.8,123.5 1633.3,159.2 1633.5,132.7 1633.8,144.8 1634,157 1634.2,125.8 1634.3,111.7 1634.7,130.1 1634.8,110.5 1635,113.5 1635.4,137.1 1635.5,121.2 1635.9,147.3 1636.2,147.1 1636.4,137.4 1636.5,141.6 1636.7,133.6 1637,178.8 1637.4,126.3 1637.7,160.2 1637.9,135.9 1638.1,171 1638.4,128.6 1638.6,119.9 1638.7,149.3 1639.2,132.8 1639.4,218.9 1639.6,154.3 1639.9,132.2 1640.3,175.8 1640.4,127.7 1640.6,216.7 1640.9,120 1641.3,124.4 1641.4,153.1 1641.6,144.2 1642,166.7 1642.1,174.9 1642.5,147.6 1642.6,143.5 1642.8,126.4 1643.1,145.8 1643.5,124.4 1643.8,150.6 1644,126.1 1644.2,147.9 1644.5,164.8 1644.7,163 1644.8,129.8 1645,122.8 1645.2,164.3 1645.5,121.2 1645.9,168.8 1646.2,143.4 1646.4,169.6 1646.5,149.1 1646.7,154.8 1647,124.6 1647.2,149.3 1647.7,159.3 1647.9,136.3 1648.1,166.3 1648.4,184.2 1648.7,165.5 1648.9,133.6 1649.1,151.5 1649.4,117.4 1649.7,134.7 1649.9,161.4 1650.3,186.6 1650.4,141.5 1650.6,136 1650.9,148.5 1651.1,205.9 1651.3,141 1651.8,154.2 1651.9,130.4 1652.1,141.7 1652.5,119.6 1652.8,173.3 1653,133.8 1653.3,151.1 1653.5,134.8 1653.6,140.3 1654,167 1654.2,195.5 1654.5,135.2 1654.8,203.1 1655,149 1655.2,168.4 1655.3,146.5 1655.7,141 1655.8,124.8 1656,179.4 1656.4,163.7 1656.5,136.8 1656.7,157.6 1657,151.2 1657.2,129.4 1657.5,117.8 1657.7,144.1 1658,157.6 1658.4,174 1658.6,129 1658.9,177.9 1659.2,139.8 1659.4,197.9 1659.7,223.3 1659.9,136.8 1660.1,173.2 1660.2,132.1 1660.8,142.1 1660.9,160.9 1661.1,132.5 1661.4,157.4 1661.8,165.7 1661.9,145 1662.3,136.4 1662.4,152.4 1662.6,176.6 1663,144.3 1663.1,133.8 1663.3,188.3 1663.8,146.4 1664,122.1 1664.1,130.3 1664.5,150.3 1664.7,141.1 1664.8,213.3 1665.2,185.8 1665.3,153.4 1665.7,181 1665.8,165.1 1666,176.1 1666.2,148.4 1666.5,144.5 1666.9,159.1 1667,156.8 1667.4,167.7 1667.5,142.1 1667.9,161.6 1668,136.2 1668.4,149.6 1668.5,144.2 1668.9,155.6 1669.2,160.5 1669.4,150.3 1669.6,128.6 1669.7,147.9 1670.2,139.5 1670.4,213.5 1670.6,184.5 1670.9,137.8 1671.3,164.5 1671.4,157.7 1671.6,156.9 1671.9,203.6 1672.1,196.8 1672.4,124.6 1672.6,159.5 1672.9,187.2 1673.3,144.4 1673.5,165.7 1673.6,133.1 1674,157.9 1674.1,145.6 1674.3,166.6 1674.8,120.1 1675,180.7 1675.2,189.6 1675.3,145.3 1675.7,136.7 1675.8,171.5 1676.2,155.4 1676.3,165.3 1676.7,163.1 1676.8,142.7 1677,161.2 1677.4,135.6 1677.5,164.1 1677.7,143.9 1678,131.4 1678.2,149.8 1678.7,130.7 1678.9,152.6 1679,154 1679.2,180 1679.6,156.4 1679.7,136.3 1680.1,154.6 1680.2,145.5 1680.6,184.2 1680.9,140.4 1681.1,157 1681.4,170.2 1681.6,140.6 1681.9,150 1682.1,197.7 1682.3,162.9 1682.6,201.6 1682.9,157.9 1683.3,199.3 1683.5,175.4 1683.6,173.2 1684,205.7 1684.1,164 1684.5,201.3 1684.6,156.1 1685,152.9 1685.1,136.2 1685.5,181.2 1685.7,146.4 1686,138.8 1686.3,173 1686.5,161.8 1686.7,156.3 1686.8,162.9 1687,176.2 1687.3,153.7 1687.7,143.9 1687.9,204.5 1688,165 1688.4,142.6 1688.5,139.5 1688.9,168.1 1689,184.9 1689.4,163.6 1689.7,179.6 1689.9,174.2 1690.1,165.9 1690.2,145.2 1690.6,139.2 1690.9,165.4 1691.1,159.1 1691.2,128.2 1691.6,162.3 1691.7,136.1 1692.1,173.2 1692.4,208.1 1692.6,169.7 1692.8,149.1 1693.1,191.8 1693.4,171.3 1693.6,171 1693.8,139.3 1694.3,142.3 1694.5,171.2 1694.6,194.2 1695,172.2 1695.3,180.7 1695.5,152.8 1695.6,136 1696,156.5 1696.2,150.4 1696.5,193.8 1696.7,173.2 1697,147 1697.2,166 1697.3,143.5 1697.7,132.8 1697.8,157.2 1698.2,193.2 1698.4,148 1698.7,151.3 1698.9,158.9 1699,159.7 1699.2,143.4 1699.5,179.7 1699.9,141.8 1700,164.8 1700.2,152 1700.6,171.2 1700.7,165.8 1701.1,156.7 1701.4,189.5 1701.7,155.3 1701.9,162.9 1702.1,178.6 1702.2,147.4 1702.8,211.4 1702.9,164.8 1703.3,139.2 1703.4,194 1703.6,164 1703.9,200.6 1704.3,209 1704.5,145.1 1704.6,159.9 1705,156.9 1705.1,175.6 1705.3,161.6 1705.8,189.8 1706,171.1 1706.1,143.1 1706.3,162.1 1706.8,185.3 1707,160.5 1707.2,187.2 1707.5,148.7 1707.7,169.7 1707.8,162.7 1708.2,189.8 1708.3,144.5 1708.5,169.4 1708.9,199.8 1709.2,164 1709.4,152.1 1709.5,158.1 1709.9,182.6 1710,185.6 1710.4,140 1710.7,149.6 1710.9,163.3 1711.2,165.7 1711.4,177.9 1711.6,180.5 1711.7,201 1712.1,147.9 1712.4,182.3 1712.6,152.9 1712.7,169.5 1713.1,162.9 1713.4,174.6 1713.6,202.2 1713.9,170.7 1714.1,167.8 1714.3,138.6 1714.6,138.2 1715,182.8 1715.1,154.8 1715.3,188.8 1715.6,189.6 1716,147.9 1716.1,171.8 1716.5,157.3 1716.8,167.3 1717,193 1717.2,169.2 1717.3,158.2 1717.7,165.2 1717.8,153.8 1718.2,183.9 1718.3,174.2 1718.5,257.6 1718.8,167.1 1719,162.1 1719.4,197.3 1719.5,183.6 1719.9,164.6 1720,170.2 1720.2,164.6 1720.5,180.2 1720.9,149.6 1721,158.5 1721.2,204.9 1721.6,159.4 1721.7,232.8 1722.1,178.7 1722.4,154.7 1722.7,166.5 1722.9,193.6 1723.1,169.6 1723.4,151.9 1723.6,172.1 1723.9,156.1 1724.1,164.3 1724.3,155.5 1724.6,170.3 1724.8,192.2 1725.3,193.3 1725.5,158.4 1725.8,146.4 1726,180.1 1726.1,155.8 1726.3,177.8 1726.6,221.4 1727,185.2 1727.3,190.8 1727.5,167.9 1727.7,188.1 1727.8,153.8 1728.2,174.5 1728.3,156.1 1728.5,183.2" fill="none" stroke="#0000ff" stroke-width="2.1" stroke-linejoin="round"/>
<polyline points="1034.8,282 1060,281.8 1090,281.3 1110,280.7 1120,280.6 1125,281.6 1129,285.5 1132,290.5 1134.5,296 1136,304 1137,312 1137.6,318 1139,187 1139.1,215.3 1139.5,184.8 1139.8,199.8 1140,184.8 1140.1,212.5 1140.3,203 1140.8,209.5 1141,162 1141.2,203.3 1141.5,185.7 1141.7,180.9 1141.8,170.6 1142.2,167.9 1142.3,191.8 1142.5,164.1 1142.7,161.6 1143.2,180.1 1143.4,228.1 1143.7,170.9 1143.9,191.4 1144,174.5 1144.2,201.7 1144.5,166.9 1144.9,192.4 1145.1,162 1145.2,194.2 1145.7,202.7 1145.9,266.4 1146.1,197.5 1146.4,150.7 1146.6,191.4 1146.9,209 1147.3,202.2 1147.4,158.3 1147.6,168.1 1147.8,145.7 1148.3,203.6 1148.4,156 1148.8,194 1148.9,166.5 1149.3,169.3 1149.5,150.7 1149.6,179 1150,217.1 1150.3,191.9 1150.5,172.9 1150.6,166.4 1150.8,206.9 1151.2,183.8 1151.5,218.2 1151.7,197.8 1151.8,170.2 1152.2,173.1 1152.3,181 1152.7,158.9 1152.8,189.2 1153,178.9 1153.2,169 1153.5,188.4 1153.7,163.1 1154,168.6 1154.2,194.8 1154.5,187.8 1154.9,192.2 1155,169.6 1155.2,227.1 1155.7,183.3 1155.9,202.4 1156.2,176.1 1156.4,204.2 1156.7,191.2 1156.9,219 1157.2,177.5 1157.4,201.6 1157.6,176.4 1157.8,223 1158.1,206.6 1158.4,188.3 1158.6,199.5 1158.9,241.4 1159.1,197.8 1159.3,211.8 1159.6,229.3 1160,200.5 1160.1,190.6 1160.3,215 1160.8,225.9 1161,211.9 1161.1,209.8 1161.3,194 1161.8,210 1162,226 1162.3,217.2 1162.5,197.4 1162.7,212.9 1162.8,244.8 1163.2,225.9 1163.3,212.5 1163.7,248.9 1163.9,228.1 1164.2,254.3 1164.4,224.9 1164.7,206.8 1164.9,230.9 1165.2,216 1165.4,225.2 1165.5,230.3 1165.9,208.4 1166.1,206.9 1166.2,220.7 1166.6,251.2 1166.9,225.1 1167.1,226 1167.2,253.5 1167.7,311.2 1167.9,208.6 1168.1,219 1168.3,238.3 1168.6,205.6 1168.9,273.3 1169.1,234.7 1169.4,217.9 1169.6,227 1169.8,212.6 1170.3,235.9 1170.5,223.7 1170.6,214.9 1171,244.4 1171.1,206.4 1171.5,247.1 1171.6,242 1171.8,215.6 1172.3,227.5 1172.5,212.9 1172.7,309.6 1172.8,214.6 1173.2,239.3 1173.3,201.7 1173.5,231.1 1173.8,225.8 1174,219.1 1174.2,213.4 1174.5,263.3 1174.9,185.5 1175,191.5 1175.4,215.3 1175.5,220 1175.7,184.5 1176,211.6 1176.2,185.4 1176.6,243.4 1176.9,205.4 1177.2,225.1 1177.4,183.8 1177.7,187.3 1177.9,172.7 1178.2,201.2 1178.4,178.5 1178.6,155.3 1178.9,221.8 1179.3,176.4 1179.4,198.1 1179.6,197.2 1179.8,153.6 1180.1,163.1 1180.4,185.6 1180.6,153.8 1181,191.4 1181.1,165.2 1181.3,199 1181.8,173.5 1182,205.8 1182.1,153.5 1182.3,177.4 1182.7,180.3 1183,169.4 1183.2,200.1 1183.5,217.9 1183.7,150.9 1183.8,159.6 1184,153.4 1184.3,158.8 1184.7,148.3 1184.9,189.4 1185.2,142.9 1185.4,178.7 1185.7,159.9 1185.9,145.7 1186,180 1186.2,152.8 1186.7,133 1186.9,197.3 1187.1,156.4 1187.4,197.5 1187.6,163.2 1187.7,188 1188.2,146.1 1188.4,168.8 1188.6,193.5 1188.9,142.5 1189.3,168.4 1189.4,129.8 1189.6,142.1 1189.9,167.8 1190.1,185.8 1190.3,155.7 1190.8,167.8 1191,148.7 1191.1,191.3 1191.3,137.1 1191.6,146.5 1192,129.1 1192.3,193.8 1192.5,134.6 1192.8,164.4 1193,129.2 1193.2,145.1 1193.3,129.7 1193.7,124 1194,167.8 1194.2,162.7 1194.3,147.9 1194.5,120.6 1194.8,162.5 1195,183.7 1195.2,141.7 1195.5,162.3 1195.9,185.9 1196,162.8 1196.4,126.3 1196.7,137.4 1196.9,166.4 1197,198.3 1197.2,149.6 1197.6,123.9 1197.7,148.3 1198.1,131.2 1198.2,138.9 1198.7,136.1 1198.9,127 1199.1,157.1 1199.4,132.8 1199.8,144.3 1199.9,153 1200.1,164.2 1200.4,128.2 1200.6,129.1 1200.9,152.7 1201.1,165.6 1201.5,133.1 1201.6,165.3 1201.8,134.4 1202.1,228.3 1202.5,154.5 1202.6,131.9 1203,137.8 1203.3,129 1203.5,141.5 1203.7,113.7 1204,122.8 1204.3,161.4 1204.5,130.2 1204.7,140.9 1204.8,174.6 1205,142.2 1205.2,171.1 1205.5,156.6 1205.7,137.6 1206.2,131.1 1206.4,157.7 1206.5,155.2 1206.9,121 1207.2,138.9 1207.4,164.3 1207.5,130.7 1207.7,174.6 1208.1,153.5 1208.4,128.4 1208.7,145.2 1208.9,165.4 1209.2,199.4 1209.4,115.3 1209.6,129.9 1209.7,200.1 1210.1,197.8 1210.4,114.6 1210.6,122 1210.8,128.1 1211.1,149.7 1211.4,200.2 1211.8,210.2 1212,152.3 1212.1,160.8 1212.5,137.8 1212.8,134.2 1213,178.1 1213.1,116.8 1213.3,133.7 1213.6,162.9 1213.8,117.6 1214.3,108.2 1214.5,153.4 1214.8,125.1 1215,169.4 1215.2,121.7 1215.3,122.9 1215.5,117.6 1215.8,188.3 1216,133.4 1216.2,115.2 1216.5,167.8 1216.9,131.5 1217.2,180.6 1217.4,126.6 1217.7,128 1217.9,198 1218.2,116.9 1218.4,108.4 1218.6,123.7 1218.9,170.3 1219.1,157.4 1219.4,144 1219.7,108.7 1219.9,146.8 1220.1,123.5 1220.4,165 1220.6,137 1220.8,160.3 1221.1,182.8 1221.4,111.5 1221.6,114.2 1221.9,143.3 1222.1,121.7 1222.5,127.9 1222.6,113.3 1223,153.7 1223.3,111.5 1223.5,146.8 1223.6,105.1 1224,125.7 1224.1,114.9 1224.3,130.7 1224.8,115.1 1225,146.5 1225.2,132.9 1225.3,114.7 1225.7,136 1225.8,130.3 1226.2,118.9 1226.3,167.7 1226.5,121 1226.7,126.8 1227,131.5 1227.2,176.5 1227.5,155.7 1227.9,185.6 1228.2,114.6 1228.4,153.6 1228.7,121.8 1228.9,146.6 1229.2,162.2 1229.4,140.1 1229.7,148.5 1229.9,130.4 1230.1,117.6 1230.2,142.7 1230.7,158.5 1230.9,125.7 1231.1,118 1231.3,165 1231.8,133.8 1231.9,170.1 1232.3,128.8 1232.4,138.9 1232.6,139.6 1233,118.7 1233.1,111.9 1233.3,163.7 1233.6,126.3 1233.8,153.5 1234.1,153.3 1234.5,119.6 1234.6,132.7 1235,149 1235.2,115 1235.5,121.8 1235.7,140.6 1235.8,140.2 1236,149.8 1236.3,131.5 1236.7,118.2 1236.8,134.9 1237,118.4 1237.2,177 1237.7,110.6 1237.9,197.9 1238.2,106.8 1238.4,159.5 1238.5,148.8 1238.7,106.9 1239,111.2 1239.4,148.5 1239.6,134.2 1239.9,114.1 1240.1,174 1240.2,108.1 1240.7,100.2 1240.9,121.2 1241.1,145.8 1241.3,105.7 1241.8,137.5 1241.9,126.7 1242.3,202 1242.4,128.5 1242.6,121.8 1242.9,156.6 1243.3,163.4 1243.5,122.1 1243.6,124.8 1244,144.7 1244.1,119.9 1244.5,136.6 1244.6,119.6 1244.8,150.5 1245.1,148.6 1245.3,129.9 1245.7,155.2 1245.8,100.2 1246.2,153.2 1246.3,144.7 1246.5,152.6 1246.7,123.7 1247,173.8 1247.3,127.6 1247.5,109.7 1247.7,176.3 1248,133.2 1248.2,173.8 1248.5,122 1248.7,165.4 1249.2,126.7 1249.4,118.4 1249.5,122.9 1249.7,163 1250.2,134.6 1250.4,126.4 1250.7,105.7 1250.9,192.1 1251.1,132.4 1251.2,190.2 1251.8,130.7 1251.9,141.9 1252.1,150.4 1252.3,105.4 1252.6,133.4 1252.9,109.7 1253.1,165.7 1253.3,145.5 1253.6,129.3 1253.8,171.6 1254.3,153.2 1254.5,114 1254.8,111.3 1255,142.7 1255.1,111.7 1255.5,135.6 1255.8,146.7 1256,115.1 1256.3,163.2 1256.5,115.6 1256.7,137 1256.8,143.3 1257,148.2 1257.2,118.6 1257.7,131.7 1257.8,113.7 1258,143.6 1258.2,123.2 1258.5,141.1 1258.9,120.3 1259,182.8 1259.4,128.8 1259.5,124.2 1259.7,152.7 1260,130.1 1260.2,127.6 1260.6,133.1 1260.7,117.7 1261.1,109.7 1261.4,145.2 1261.6,127.4 1261.7,111.6 1262.1,145.9 1262.4,130.2 1262.8,165.9 1262.9,136.1 1263.1,137 1263.3,121.1 1263.6,116.9 1263.8,166.9 1264.1,114.4 1264.5,171.1 1264.8,136.1 1265,175.3 1265.1,133 1265.5,152.1 1265.6,225.9 1265.8,123 1266.1,118.2 1266.5,137.7 1266.7,135.1 1267,108.3 1267.2,113.7 1267.3,129.9 1267.5,129.3 1267.8,123.3 1268.2,165.9 1268.3,142.8 1268.7,113.3 1268.9,145 1269,139.8 1269.4,191.6 1269.5,137.5 1269.9,105.5 1270,120.2 1270.2,172 1270.5,184.3 1270.9,147.8 1271.2,99.9 1271.4,123.4 1271.7,190.1 1271.9,111.8 1272.1,164.7 1272.2,119.7 1272.6,127.4 1272.9,145.9 1273.1,122.9 1273.4,156.7 1273.6,146.9 1273.8,125.8 1274.1,115.8 1274.3,146.9 1274.6,136.9 1275,122.6 1275.3,136.7 1275.5,127.5 1275.6,149.3 1275.8,129 1276.1,113.2 1276.5,117.6 1276.6,148.1 1277,126 1277.2,156.6 1277.3,122.4 1277.7,123.1 1277.8,140.9 1278,161.5 1278.2,143.8 1278.7,115.2 1278.8,137.3 1279,120.9 1279.2,138.4 1279.5,114.8 1279.7,131.5 1280,147.7 1280.4,129.1 1280.5,133.2 1280.9,189.5 1281.2,128.5 1281.4,147.2 1281.6,151.8 1281.9,137.5 1282.1,161.4 1282.4,114 1282.6,159.7 1282.7,122.3 1283.3,114.7 1283.4,153.7 1283.6,129.9 1283.8,166.9 1284.3,129.8 1284.4,197 1284.6,175.8 1284.9,112.6 1285.3,134.8 1285.5,145.1 1285.6,184 1285.8,156.6 1286.3,135.2 1286.5,167.8 1286.6,132.5 1286.8,141.8 1287.1,140.3 1287.3,124.8 1287.7,157.2 1288,122.4 1288.2,132.6 1288.3,117.2 1288.7,153.9 1288.8,111.4 1289.2,159.4 1289.3,123.2 1289.7,111.9 1289.9,166.9 1290,115 1290.2,175.4 1290.7,150.2 1290.9,110.3 1291,128.9 1291.4,137.7 1291.7,203.7 1291.9,130.8 1292.1,114.4 1292.4,230 1292.6,118.5 1292.7,151.1 1293.1,151.1 1293.4,141.8 1293.6,132 1293.9,148.5 1294.1,140 1294.3,169.5 1294.8,128.3 1294.9,170.7 1295.1,113.8 1295.4,131 1295.8,153.1 1296,136.9 1296.1,121.5 1296.3,167.7 1296.8,149.6 1297,122.3 1297.1,130.4 1297.3,162.4 1297.6,159.3 1298,211 1298.3,150.5 1298.5,133.3 1298.7,152.9 1298.8,147.2 1299,154.1 1299.3,120 1299.5,138.9 1299.7,156.7 1300,145.5 1300.2,161.1 1300.7,201.1 1300.9,117.7 1301,150.3 1301.2,137.5 1301.5,160.9 1301.7,122.5 1302.1,124.3 1302.2,169.8 1302.6,139.9 1302.7,131.8 1303.1,132.3 1303.2,141.9 1303.6,149.7 1303.7,122.2 1304.1,152.9 1304.3,183.3 1304.6,186.3 1304.9,169.6 1305.1,148.7 1305.3,163.7 1305.6,159.4 1305.9,142.5 1306.1,133.2 1306.5,146.8 1306.6,200.3 1306.8,130.2 1307.1,116.6 1307.3,207 1307.6,157 1307.8,179.7 1308.1,148.1 1308.3,142.2 1308.7,159.2 1309,131.5 1309.2,123.9 1309.3,153.6 1309.7,136.3 1309.8,162.2 1310,143.2 1310.3,176.1 1310.7,158.6 1310.9,126.8 1311,135.3 1311.4,163.8 1311.7,153.8 1311.9,222.3 1312.2,137 1312.4,157.2 1312.6,155.6 1312.9,194.3 1313.2,189.5 1313.4,152.3 1313.6,129.5 1313.7,148.4 1314.1,143.6 1314.4,185.1 1314.6,150.6 1314.8,168.7 1315.1,157.6 1315.3,179 1315.8,136.5 1315.9,184.7 1316.1,199.6 1316.3,155 1316.6,169.2 1316.8,122.2 1317.1,132 1317.3,190.7 1317.6,151.9 1317.8,172.8 1318.1,179.2 1318.3,150.2 1318.6,130.9 1318.8,155.8 1319.2,169.6 1319.3,137.4 1319.7,171.5 1319.8,181 1320.2,252 1320.3,152.7 1320.5,137.3 1320.8,166.7 1321,201.2 1321.4,134.7 1321.5,173.7 1321.7,156.3 1322,138.3 1322.2,172.9 1322.7,148.3 1322.9,160.3 1323.1,162.3 1323.4,177.5 1323.7,155.4 1323.9,142.3 1324.1,169.5 1324.4,147.7 1324.7,151.7 1324.9,208.3 1325.1,153.7 1325.3,134.8 1325.8,177.2 1325.9,146.2 1326.1,171.9 1326.3,153.5 1326.6,161.1 1326.8,139.1 1327.3,167.1 1327.5,154.7 1327.6,165.2 1327.8,153.8 1328.3,150.8 1328.5,186.9 1328.8,179.5 1329,137.5 1329.1,169.8 1329.3,178.8 1329.7,169 1330,177.3 1330.2,136.1 1330.3,154.9 1330.5,180 1330.7,142 1331,210.1 1331.2,156.5 1331.5,151.5 1331.9,156.1 1332,172.8 1332.4,150.7 1332.5,188.1 1332.7,151.8 1333,156.8 1333.2,171.6 1333.6,156.1 1333.9,139.7 1334.1,140.6 1334.2,180.4 1334.6,158 1334.7,148.5 1335.1,180.6 1335.2,152.5 1335.8,228.1 1335.9,172.8 1336.3,177.5 1336.4,143.6 1336.8,155.5 1336.9,199.2 1337.1,154 1337.4,177.1 1337.8,166.3 1338,181.9 1338.1,154.6 1338.3,222.1 1338.6,135.9 1339,142.7 1339.3,151.7 1339.5,194.1 1339.6,199.1 1340,170.7 1340.2,187.1 1340.3,162.8 1340.7,162.6 1340.8,165.5 1341.2,173.9 1341.3,166.4 1341.7,174.9 1341.9,143.6 1342,159.7 1342.4,193.9 1342.5,200.6 1342.7,164.2 1343,162.9 1343.2,153.4 1343.5,163 1343.7,179.6 1344.1,185.4 1344.4,144 1344.6,196 1344.7,157.6 1345.1,216.5 1345.2,179.4 1345.7,164.8 1345.9,186.9 1346.1,152.8 1346.3,166.6 1346.6,195.1 1346.9,177.6 1347.3,163.7 1347.4,188.2 1347.8,163 1347.9,186 1348.1,181.4 1348.3,166.7 1348.6,171.9 1348.8,191.1 1349.3,166.9 1349.5,181 1349.8,162.1 1350,199.9 1350.1,210.4 1350.5,187.8 1350.7,183.1 1351,162.9 1351.2,171 1351.3,189.1 1351.5,164.5 1351.7,196.4 1352,212.5 1352.4,190.9 1352.7,190.3 1352.9,168.3 1353,193.6 1353.4,175.9 1353.7,189.5 1353.9,169.9 1354,174 1354.2,206 1354.6,172.2 1354.7,156.7 1355.1,259.6 1355.4,176.1 1355.6,184.9 1355.7,174.9 1356.1,187.7 1356.4,179.3 1356.8,193.2 1356.9,182 1357.1,158.2 1357.3,202.5 1357.6,164.9 1357.8,190.7 1358.1,177.4 1358.4,195.9 1358.6,187.1 1359,217.8 1359.1,171.3 1359.5,225.5 1359.8,181.2 1360,174.8 1360.3,230.9 1360.5,182.3 1360.6,197.7 1361,221.5 1361.3,207.2 1361.5,182 1361.7,226.3 1361.8,171 1362,202.5 1362.2,175.8 1362.5,205.6 1362.7,162.4 1363.2,203.2 1363.4,173.6 1363.7,186.5 1363.9,224.7 1364,201.9 1364.2,185.6 1364.7,240.5 1364.9,191.6 1365.2,176 1365.4,215.3 1365.6,197.7 1365.9,178.7 1366.2,170.3 1366.4,210.5 1366.6,184.3 1366.7,164.8 1367.3,178.6 1367.4,203.2 1367.8,189.8 1367.9,230 1368.1,214.1 1368.3,175.2 1368.6,162.8 1368.9,167.2 1369.1,160.5 1369.3,223.2 1369.8,166.2 1370,198.8 1370.3,179.6 1370.5,189 1370.8,210.9 1371,176.4 1371.1,214.2 1371.5,226.8 1371.7,277.5 1372,230.7 1372.2,204.6 1372.3,189.8 1372.5,239.3 1372.7,210.4 1373,179.6 1373.2,272 1373.7,231.4 1373.9,168.2 1374,200.6 1374.2,170.3 1374.5,196.2 1374.7,179.1 1375,219.1 1375.2,192.3 1375.7,221.9 1375.9,198 1376.2,197.2 1376.4,174.8 1376.6,183.9 1376.9,213.2 1377.1,205.3 1377.4,183.7 1377.6,225.1 1377.8,192.9 1378.3,257.4 1378.4,182.5 1378.8,187.2 1378.9,262.5 1379.1,179.4 1379.3,196.5 1379.6,224.2 1380,175.2 1380.1,221.8 1380.5,179.2 1380.6,197.1 1380.8,221.9 1381.1,186.7 1381.5,174.4 1381.7,187.4 1381.8,226.8 1382.2,241.2 1382.5,178 1382.7,188.4 1382.8,204.2 1383.2,196.2 1383.3,221.2 1383.7,189.4 1383.9,198.1 1384,258.9 1384.2,174.5 1384.7,194.8 1384.9,214 1385.2,200.2 1385.4,224.1 1385.5,217 1385.7,176.3 1386.1,231.5 1386.2,192.5 1386.6,198 1386.9,176.6 1387.1,273.4 1387.4,210.5 1387.6,178.1 1387.7,193.8 1388.1,198.1 1388.4,181.6 1388.6,199 1388.8,254.1 1389.1,215.1 1389.4,194.8 1389.8,222.3 1389.9,188.3 1390.1,200.4 1390.5,185.5 1390.6,187.6 1390.8,234.7 1391.3,173.5 1391.5,215.9 1391.8,199.9 1392,233.6 1392.2,197 1392.3,181.1 1392.7,238 1392.8,177.3 1393.2,204.5 1393.3,201.6 1393.7,194.2 1393.8,225.1 1394,198.2 1394.4,212.3 1394.7,209.4 1394.9,218 1395,204.2 1395.2,188 1395.5,192.1 1395.7,213.5 1396,227.9 1396.2,204.7 1396.6,195.1 1396.7,215 1397.2,205.3 1397.4,187.2 1397.7,200.7 1397.9,190.9 1398.1,204.9 1398.2,219.2 1398.8,189.5 1398.9,230.6 1399.3,190.8 1399.4,236.1 1399.6,183.1 1399.8,225.2 1400.1,229 1400.4,184.7 1400.6,236.7 1400.8,185 1401.1,184.6 1401.3,218.1 1401.6,235.8 1402,206.2 1402.1,217.3 1402.5,207.5 1402.8,205.4 1403,181.2 1403.2,196 1403.5,215.8 1403.7,197.5 1403.8,258.5 1404,207.8 1404.3,194.1 1404.5,206.4 1404.9,260.6 1405.2,249.8 1405.4,207.7 1405.5,215.5 1405.7,198.6 1406,202 1406.4,210.9 1406.5,194.4 1406.7,218.4 1407.1,217.4 1407.2,200.4 1407.7,205.1 1407.9,225.4 1408.1,241.9 1408.4,183.6 1408.6,191.3 1408.7,208.3 1409.1,197.6 1409.4,206.6 1409.6,227 1409.9,214.3 1410.3,186.7 1410.4,205.8 1410.6,195.7 1410.9,212.4 1411.1,194.1 1411.3,221.6 1411.6,194.6 1411.8,269.5 1412.1,212.1 1412.5,244.5 1412.6,218.3 1412.8,214.4 1413.3,206.8 1413.5,223.9 1413.7,208.3 1413.8,283.4 1414.2,214 1414.3,235.7 1414.5,194.5 1414.8,236.3 1415,220.2 1415.2,227 1415.7,240.1 1415.9,208.9 1416.2,213.8 1416.4,227.2 1416.7,206.1 1416.9,216.8 1417.2,223.8 1417.4,201 1417.6,208.2 1417.9,231.5 1418.1,265.9 1418.4,211 1418.6,211.4 1418.9,223.1 1419.1,270.8 1419.4,217 1419.6,253.7 1419.8,203.7 1420.1,219.4 1420.4,228.3 1420.6,211.8 1420.8,195 1421.1,202.2 1421.4,217.6 1421.6,211.8 1422,193.9 1422.1,191.1 1422.5,247.2 1422.8,203.2 1423,256.8 1423.3,238.4 1423.5,211.6 1423.8,286.4 1424,235.9 1424.3,229.1 1424.5,198.5 1424.7,190 1424.8,215.3 1425,209.1 1425.2,219.7 1425.5,229.7 1425.9,191.6 1426.2,213.8 1426.4,206.2 1426.5,216.9 1426.7,231.1 1427.2,274.5 1427.4,244.7 1427.5,231.7 1427.9,228.3 1428.1,222.9 1428.4,221.3 1428.7,245.5 1428.9,206.1 1429.1,228.6 1429.2,201.8 1429.6,211.6 1429.7,229.2 1430.1,259.2 1430.3,220.1 1430.8,227.6 1430.9,210.9 1431.3,222.1 1431.4,224.8 1431.6,232.6 1432,210.4 1432.3,254.9 1432.5,302.9 1432.6,199 1432.8,249.2 1433.1,205.9 1433.5,243 1433.6,199.3 1433.8,236.5 1434.3,200.1 1434.5,222.7 1434.7,212.5 1435,220.9 1435.2,239.5 1435.3,221 1435.7,224.5 1435.8,256.5 1436,222.8 1436.2,269 1436.5,201.3 1436.7,229.2 1437,246.9 1437.4,205.1 1437.5,234.9 1437.7,222.1 1438,256.1 1438.4,195.6 1438.6,233.1 1438.9,213.4 1439.1,205.5 1439.2,255.5 1439.6,215.7 1439.9,279.4 1440.2,246 1440.4,223.3 1440.8,204 1440.9,235.3 1441.3,234.6 1441.4,205.9 1441.8,213.8 1441.9,234.4 1442.1,319.3 1442.3,253.4 1442.6,236.1 1443,198.6 1443.1,209.5 1443.5,249.7 1443.6,239.2 1443.8,219.4 1444.1,237.2 1444.3,219.2 1444.7,214.4 1444.8,268.7 1445.2,264.9 1445.5,210.2 1445.7,241.2 1445.8,250.9 1446,226.9 1446.3,207.4 1446.5,256.6 1446.9,204.3 1447,207.5 1447.4,220.5 1447.7,199.8 1447.9,219.7 1448,204.6 1448.2,255.2 1448.5,214.8 1448.9,242.3 1449.2,212.4 1449.4,222.6 1449.6,227.2 1449.9,281.1 1450.2,227.8 1450.4,204.6 1450.6,313.2 1450.9,203.7 1451.1,205.8 1451.3,219.6 1451.6,211 1451.9,308.3 1452.1,226 1452.3,243.8 1452.6,277.6 1452.8,210.4 1453.1,290.7 1453.3,224.3 1453.6,212.9 1454,238.5 1454.1,214.6 1454.3,248.4 1454.8,201.7 1455,216.5 1455.2,244.5 1455.3,221.2 1455.7,217.9 1455.8,252.5 1456.2,211.1 1456.3,244.6 1456.5,214.5 1456.7,205.8 1457,240.5 1457.4,211.1 1457.5,192.3 1457.7,245.6 1458,249.5 1458.2,232.3 1458.5,226.8 1458.7,207.1 1459,218.4 1459.2,240.7 1459.6,240.3 1459.7,218.3 1460.1,230.4 1460.2,221.9 1460.6,237.3 1460.9,197.1 1461.1,230.4 1461.2,285.4 1461.8,240.5 1461.9,205.5 1462.1,244.9 1462.3,208 1462.8,227.8 1462.9,269.6 1463.1,216.7 1463.5,251.4 1463.6,236 1464,281.5 1464.3,263.8 1464.5,195.9 1464.6,221.5 1464.8,262.5 1465.1,220.4 1465.5,201.1 1465.7,239.7 1466,277.7 1466.3,249.7 1466.5,208.6 1466.7,226.9 1466.8,231.6 1467.2,251.5 1467.3,218.4 1467.5,228.6 1467.9,209.5 1468,200.7 1468.4,256 1468.7,228.5 1468.9,210.8 1469,198.5 1469.2,242.2 1469.7,220.9 1469.9,206.4 1470.1,207.4 1470.4,238.9 1470.6,204.8 1470.7,220.6 1471.1,228.4 1471.4,222.8 1471.6,223.1 1471.9,239 1472.1,212.5 1472.3,215.8 1472.8,234.8 1472.9,215.2 1473.1,237.3 1473.3,203 1473.6,238 1473.8,200.6 1474.3,206.9 1474.5,223.7 1474.6,230.6 1475,201.6 1475.1,226.6 1475.3,219.4 1475.6,250.8 1476,240.4 1476.2,249.4 1476.5,208.5 1476.8,207.4 1477,242.7 1477.2,222.9 1477.3,229.5 1477.7,229.8 1477.8,256.5 1478,223.6 1478.4,270.6 1478.5,248.1 1478.9,216 1479,223.6 1479.2,227.7 1479.5,239.7 1479.9,203.2 1480,226.4 1480.4,202.7 1480.6,259.1 1480.7,202.1 1481.2,214.3 1481.4,239.6 1481.7,205 1481.9,229.4 1482.1,251.1 1482.3,271.9 1482.6,239.1 1482.8,219.1 1483.1,290.7 1483.3,236.4 1483.8,196.6 1483.9,222.5 1484.1,204.9 1484.3,261.5 1484.8,211 1485,231.6 1485.3,206.5 1485.5,249.4 1485.6,200.2 1485.8,225.4 1486.1,220.6 1486.3,215.3 1486.7,242.2 1487,196.3 1487.2,214.1 1487.3,202.3 1487.5,204.8 1487.7,225.2 1488,232.2 1488.2,201.8 1488.5,233.9 1488.9,218.4 1489.2,247.4 1489.4,214.3 1489.5,202.7 1489.9,213.5 1490,208.3 1490.2,242 1490.7,226.4 1490.9,199.2 1491.1,206.9 1491.4,222.2 1491.6,220.5 1491.7,280.5 1492.1,258.5 1492.4,212.7 1492.6,222.9 1492.9,204 1493.3,220.9 1493.4,234.6 1493.8,241.3 1493.9,229.7 1494.1,262.2 1494.4,216.6 1494.6,224.9 1495,248 1495.3,230.8 1495.5,211.6 1495.6,231.1 1496,233.9 1496.1,258.8 1496.3,196.1 1496.6,207.3 1497,222 1497.3,204.9 1497.5,228.8 1497.7,204.7 1497.8,227.3 1498.2,285.3 1498.3,236.7 1498.5,213.2 1498.7,218.1 1499,214.2 1499.2,268.5 1499.7,257.2 1499.9,200.8 1500.2,197.6 1500.4,223 1500.5,225.3 1500.9,212.1 1501.2,255.2 1501.4,223.4 1501.6,235.9 1501.7,223.6 1502.1,247.5 1502.2,195.6 1502.6,210.9 1502.9,234.1 1503.3,221.1 1503.4,210.3 1503.8,208.5 1503.9,215.7 1504.3,200.7 1504.4,223.5 1504.6,217.2 1504.9,252.6 1505.1,261.8 1505.5,219.6 1505.6,213.2 1506,236.2 1506.1,218.5 1506.3,265.5 1506.8,228.9 1507,215.9 1507.1,248.2 1507.3,205.9 1507.7,234.7 1508,198.8 1508.2,246.2 1508.3,214.1 1508.5,243.8 1508.7,220 1509.2,247.4 1509.3,185.6 1509.7,209 1509.9,190.9 1510,209.8 1510.4,255.6 1510.5,217.4 1510.9,204.9 1511,202.1 1511.2,234.6 1511.5,243.1 1511.9,208.3 1512.1,268.1 1512.4,213.4 1512.7,228.1 1512.9,190.7 1513.1,197.8 1513.2,228.7 1513.6,205.6 1513.8,237.4 1514.3,199.1 1514.4,195.1 1514.6,198.4 1514.8,236.2 1515.3,194.6 1515.4,240.3 1515.6,237.8 1516,196.9 1516.3,218.7 1516.5,196 1516.6,262.8 1516.8,195.9 1517.1,233 1517.3,201.2 1517.8,213.3 1518,204.3 1518.2,242 1518.5,199.7 1518.7,213.1 1518.8,237.3 1519.2,218.7 1519.3,214.3 1519.5,253.8 1519.7,218.1 1520.2,195 1520.4,198.8 1520.7,204.4 1520.9,238.3 1521,195 1521.4,298.4 1521.7,211.6 1521.9,209.6 1522,206 1522.4,248.6 1522.6,210.6 1522.7,240.9 1523.1,197.2 1523.2,246 1523.6,200.6 1523.9,207 1524.1,246.8 1524.3,205.9 1524.6,197.6 1524.8,248 1525.1,202.5 1525.4,223.6 1525.8,241.4 1525.9,195.2 1526.1,220.9 1526.3,191.1 1526.8,199.6 1527,244.1 1527.1,201.6 1527.5,236.9 1527.6,228.6 1528,210.9 1528.1,204.1 1528.5,224.8 1528.8,213.3 1529,238.5 1529.2,235.5 1529.3,229.2 1529.5,200.8 1529.7,209.9 1530.2,203 1530.3,225.4 1530.7,226.6 1530.9,217.5 1531,215.7 1531.2,196.9 1531.7,204.1 1531.9,234.8 1532,252.1 1532.2,198.4 1532.7,300.1 1532.9,224.3 1533.1,208.6 1533.2,300.1 1533.6,184.6 1533.9,199.6 1534.1,203.3 1534.2,247.4 1534.6,190.3 1534.9,216.1 1535.3,218.3 1535.4,266.5 1535.6,202.5 1535.8,223 1536.3,241.4 1536.4,216.8 1536.6,189.4 1536.8,195.5 1537.1,224.4 1537.3,197 1537.6,204.2 1538,230.6 1538.3,203.7 1538.5,213.6 1538.6,262 1538.8,219.4 1539.3,210 1539.5,198.6 1539.7,201.3 1539.8,220.7 1540,197.9 1540.2,222.4 1540.7,203.6 1540.8,195.4 1541,201.3 1541.4,232.9 1541.5,202.7 1541.9,194.2 1542,207.8 1542.4,198.1 1542.5,180.1 1542.7,204.2 1543.2,214.2 1543.4,194.3 1543.7,212.2 1543.9,195 1544.1,208.1 1544.4,190.4 1544.6,203.7 1544.7,247.2 1545.3,205.8 1545.4,241.4 1545.8,231.7 1545.9,184.9 1546.1,238.7 1546.4,199.1 1546.6,194.4 1546.9,228.5 1547.3,195.7 1547.5,207.5 1547.8,214 1548,200.8 1548.3,221.8 1548.5,188.2 1548.6,207 1549,219.1 1549.1,226.3 1549.5,198.1 1549.8,197.4 1550,217.9 1550.2,197 1550.3,191.7 1550.5,232.9 1550.7,203.7 1551,203.6 1551.2,194.6 1551.5,188.9 1551.9,211.8 1552,176.4 1552.2,204.6 1552.5,230.4 1552.9,189 1553.2,182.3 1553.4,233 1553.7,222.7 1553.9,186.3 1554.1,220.7 1554.4,197.4 1554.7,223.7 1554.9,191.9 1555.2,192 1555.4,209.2 1555.8,215.4 1555.9,201.3 1556.1,225.9 1556.3,187.7 1556.6,265.3 1556.8,194.7 1557.1,208.9 1557.3,224.1 1557.6,234.4 1557.8,194.1 1558.1,213.1 1558.5,195.1 1558.6,209.2 1559,227.8 1559.1,209.3 1559.3,236.4 1559.8,197 1560,204.5 1560.2,218.2 1560.5,183.2 1560.7,221.5 1560.8,264.5 1561,202.4 1561.3,243.7 1561.5,255.9 1561.7,195 1562,197.9 1562.2,214.9 1562.5,244.4 1562.9,196.2 1563.2,193.3 1563.4,224.3 1563.7,185.4 1563.9,216.5 1564.1,221 1564.2,287 1564.6,203.7 1564.7,192.7 1565.2,185.7 1565.4,238 1565.6,206.5 1565.9,191 1566.1,189.3 1566.4,242.5 1566.6,213.4 1566.9,197.5 1567.1,236.5 1567.4,192.3 1567.6,200.4 1567.8,206.8 1568.3,192.2 1568.5,242.1 1568.6,187.4 1568.8,259.7 1569.3,184.2 1569.5,215.8 1569.6,208.4 1569.8,193.4 1570.1,214.2 1570.5,193.6 1570.7,191.4 1571,235.6 1571.2,193.5 1571.3,221.9 1571.7,217.2 1571.8,173.8 1572.2,212.6 1572.3,186.7 1572.7,209.4 1572.9,198.5 1573.2,227.2 1573.4,195.6 1573.5,193.6 1573.9,219.9 1574,217.4 1574.4,193.3 1574.6,190.9 1574.7,206.6 1575.2,198.6 1575.4,180.8 1575.6,297.6 1575.7,189.3 1576.2,218.4 1576.4,201.9 1576.6,188.4 1576.9,223.1 1577.3,221.1 1577.4,181.1 1577.6,192.9 1577.9,215.3 1578.3,208.6 1578.4,192.6 1578.6,209.9 1579,190.7 1579.3,210.9 1579.5,227.5 1579.6,207.2 1580,198.7 1580.3,192.6 1580.5,208.9 1580.6,211.5 1581,242.9 1581.3,237 1581.5,188.1 1581.7,194 1581.8,222.1 1582.2,189.4 1582.3,203.1 1582.5,252.4 1582.7,198.2 1583.2,212.7 1583.4,207.4 1583.5,175.6 1583.9,198.7 1584.2,243.6 1584.4,192.9 1584.7,206.9 1584.9,189.2 1585.1,182.5 1585.2,201.7 1585.7,190.9 1585.9,214.5 1586.1,236.2 1586.4,177 1586.6,211.4 1586.9,226 1587.1,224.7 1587.3,202.4 1587.6,212.2 1587.8,190.5 1588.1,192.3 1588.4,199.4 1588.6,226.4 1588.8,196.4 1589.1,197.7 1589.3,172.7 1589.8,202.7 1590,175.1 1590.1,172 1590.3,218.9 1590.8,214.4 1591,179.5 1591.3,182.5 1591.5,193.2 1591.8,208.6 1592,191.3 1592.2,208.3 1592.3,220.5 1592.5,234.3 1592.8,208.1 1593,209.7 1593.2,186.2 1593.5,198.5 1593.7,179.6 1594.2,201.7 1594.4,215.2 1594.7,186.2 1594.9,196.2 1595,229.5 1595.2,186.9 1595.7,178.7 1595.9,225.4 1596.1,162.1 1596.4,214.4 1596.6,222.5 1596.7,169.9 1597.1,184.4 1597.4,235.6 1597.6,180.3 1597.9,222.2 1598.1,243.7 1598.3,213.1 1598.8,178.6 1598.9,216.6 1599.1,189.8 1599.4,204.3 1599.6,226.2 1599.8,185.6 1600.1,202 1600.5,191 1600.6,223.5 1601,185.4 1601.1,174.3 1601.3,210.1 1601.8,207.5 1602,179.5 1602.3,171.4 1602.5,211.4 1602.7,240 1602.8,238.4 1603,257.8 1603.3,200.3 1603.7,176.6 1603.9,212.2 1604,185.2 1604.2,170.2 1604.5,176.8 1604.7,195.3 1605,172.6 1605.2,183 1605.7,203.8 1605.9,174.1 1606.1,204.4 1606.4,178.6 1606.7,193.5 1606.9,210.1 1607.2,171.3 1607.4,214.6 1607.6,207.8 1607.9,176.7 1608.1,186.7 1608.3,182 1608.6,190.9 1608.9,204.9 1609.3,223.8 1609.4,206 1609.8,206.7 1609.9,182.1 1610.3,175.8 1610.5,213.2 1610.8,204.4 1611,176 1611.3,197 1611.5,238.8 1611.6,216.1 1612,192.1 1612.3,187.6 1612.5,213.3 1612.7,179.4 1612.8,194.2 1613.2,170.2 1613.3,228 1613.5,188.2 1613.7,198.2 1614,227.7 1614.4,180.2 1614.7,205.6 1614.9,169.7 1615,190.3 1615.4,220.4 1615.5,185.1 1615.9,210.8 1616,199.8 1616.4,186.3 1616.7,223.6 1616.9,174.6 1617.1,170 1617.4,203.5 1617.6,187.3 1617.9,208.3 1618.1,216.6 1618.2,180.9 1618.8,176.9 1618.9,189.9 1619.3,253.9 1619.4,181 1619.8,176.8 1619.9,243.7 1620.3,222.5 1620.4,187.8 1620.6,204.4 1620.8,194.6 1621.1,234.1 1621.3,186.2 1621.8,203.5 1622,198 1622.1,175.4 1622.3,252.3 1622.8,174.8 1623,198.7 1623.2,206.2 1623.5,189.4 1623.7,192.2 1623.8,230.6 1624,183.3 1624.2,173.3 1624.7,209.3 1624.9,174.1 1625,176.3 1625.2,236.4 1625.7,190 1625.9,199.2 1626.2,190.5 1626.4,226.2 1626.5,183.6 1626.9,207.3 1627.2,199.7 1627.4,166.6 1627.6,208 1627.9,190.3 1628.1,199.6 1628.4,170 1628.6,172.1 1628.9,181.5 1629.1,237.6 1629.3,205.2 1629.8,184.2 1629.9,285.9 1630.1,239.3 1630.4,178.7 1630.6,246.7 1630.8,175 1631.3,226.3 1631.5,211.4 1631.6,170.1 1632,187.7 1632.1,180.9 1632.3,172 1632.8,216.1 1633,170.1 1633.2,184.5 1633.3,180.3 1633.7,202.7 1633.8,223.4 1634.2,218.3 1634.3,182.9 1634.5,177.4 1634.7,228 1635.2,167.6 1635.4,205.2 1635.5,179.1 1635.9,194.6 1636,199.2 1636.4,229.2 1636.5,230.2 1636.9,179.6 1637,174.5 1637.4,189.4 1637.7,243.9 1637.9,194.7 1638.1,167.9 1638.2,208 1638.7,196.1 1638.9,162.2 1639.1,190.2 1639.2,173.2 1639.8,176.6 1639.9,163.6 1640.1,170.2 1640.3,212.6 1640.6,228.9 1640.9,181.9 1641.1,204.9 1641.4,183 1641.6,201.6 1642,168.7 1642.1,183.8 1642.3,260.9 1642.6,190.9 1643,170.4 1643.3,182.9 1643.5,177 1643.7,183.4 1644,173.3 1644.2,178.6 1644.5,174.4 1644.7,191.1 1644.8,190 1645,208.2 1645.3,195.1 1645.5,221 1645.7,188.5 1646,168.8 1646.2,175.8 1646.5,177.6 1646.9,197.6 1647.2,195 1647.4,184 1647.5,210.4 1647.9,185.8 1648.1,251.3 1648.4,188 1648.6,169.1 1648.9,205.6 1649.2,229.2 1649.4,195.9 1649.7,211.5 1649.9,177.4 1650.1,166.6 1650.4,203.2 1650.6,239 1650.8,199.7 1651.1,209.3 1651.4,202 1651.8,162.9 1651.9,191.3 1652.1,195.5 1652.3,167.3 1652.6,198.2 1652.8,186.6 1653.1,221.9 1653.3,203.1 1653.6,192.9 1654,194.7 1654.3,181.4 1654.5,227.1 1654.7,175 1654.8,223.4 1655.2,183.9 1655.3,183.8 1655.5,239.9 1655.7,188.8 1656,203.6 1656.4,187.9 1656.5,189.8 1656.9,172.1 1657.2,192 1657.4,153.1 1657.5,194 1657.9,203.8 1658,179.2 1658.2,214.4 1658.6,184.3 1658.7,221.2 1659.1,192.3 1659.4,209.3 1659.6,194 1659.7,186.5 1660.1,198.9 1660.2,175.8 1660.6,226.5 1660.8,195.2 1661.1,226.9 1661.3,191.4 1661.6,183.5 1661.8,172.6 1662.1,227.5 1662.4,182.1 1662.8,257.5 1663,194.1 1663.1,196.8 1663.5,202.5 1663.8,215.3 1664,163.7 1664.1,168.6 1664.3,188.7 1664.7,230.7 1664.8,187.1 1665.2,169.9 1665.3,217.5 1665.7,187.1 1665.8,197.5 1666,182.7 1666.3,204.5 1666.5,229.5 1666.7,201.2 1667,179.1 1667.4,223.3 1667.5,167.9 1667.7,190.9 1668,190.5 1668.4,167.1 1668.5,175 1668.9,216.5 1669.1,187.2 1669.2,200 1669.7,161.5 1669.9,223.7 1670.1,193 1670.2,202.7 1670.6,192 1670.9,248.8 1671.3,171.4 1671.4,198.2 1671.6,226.8 1671.9,192.3 1672.1,215.1 1672.3,180.7 1672.6,179.3 1672.8,206.1 1673.3,191.2 1673.5,207.5 1673.6,188.3 1674,191.6 1674.1,172.4 1674.3,177.7 1674.6,215.4 1674.8,190.7 1675.2,182.9 1675.5,197.3 1675.7,209.5 1675.8,229.9 1676.2,203.3 1676.3,207.3 1676.5,209.1 1676.7,192 1677.2,178.1 1677.4,198.7 1677.5,171.7 1677.9,192.4 1678,205.8 1678.4,183.6 1678.5,211.2 1678.7,206.6 1679,241.1 1679.4,168.8 1679.6,190.3 1679.9,210.6 1680.1,193.9 1680.2,195.7 1680.6,233.7 1680.9,180.5 1681.1,192.5 1681.4,216.1 1681.6,195.4 1681.8,215 1682.1,203.1 1682.4,174.5 1682.6,204.2 1682.9,195 1683.1,187.5 1683.3,214 1683.6,195.8 1683.8,202.4 1684.1,193.3 1684.5,183.7 1684.8,237.5 1685,224.7 1685.1,224.4 1685.5,199.5 1685.7,224.1 1686,204 1686.2,205 1686.5,221.7 1686.7,195.1 1686.8,233.9 1687,211.5 1687.3,197.9 1687.5,213.6 1687.7,195.3 1688,211.9 1688.2,185 1688.5,210 1688.7,195.8 1689,198.2 1689.2,214.4 1689.5,214 1689.7,188.4 1690.1,192.2 1690.4,248.2 1690.6,183.7 1690.9,224.8 1691.1,217.4 1691.2,194.5 1691.6,257.1 1691.7,182.2 1692.1,195 1692.4,200.8 1692.6,211.7 1692.9,200.8 1693.1,187.8 1693.4,253.7 1693.6,177.6 1694,199.4 1694.1,211.3 1694.5,194.9 1694.6,219.8 1694.8,198.1 1695.1,184.9 1695.3,236.6 1695.8,206.5 1696,202.7 1696.2,243.8 1696.5,213.9 1696.7,207.9 1696.8,193.9 1697.2,218.4 1697.3,178.9 1697.5,250.7 1697.7,189.4 1698.2,201.3 1698.4,190.1 1698.7,183.9 1698.9,265.2 1699,218.2 1699.2,204 1699.5,192.8 1699.7,224.2 1700.2,222 1700.4,191 1700.7,228.4 1700.9,202.7 1701.1,221.5 1701.4,204.8 1701.6,222.9 1701.9,197.5 1702.2,182.9 1702.4,253.3 1702.8,193.5 1702.9,266.8 1703.1,193.5 1703.3,233.4 1703.8,193.5 1703.9,206.5 1704.3,231.3 1704.5,190.6 1704.8,213.2 1705,230.5 1705.3,229.3 1705.5,184.8 1705.8,228.4 1706,196.8 1706.1,193.5 1706.3,252.4 1706.7,209.6 1707,188.7 1707.2,207.3 1707.3,212.2 1707.7,193.9 1707.8,204.7 1708,280.7 1708.2,202.1 1708.5,190.8 1708.7,237.8 1709,236.2 1709.2,193.3 1709.7,187.6 1709.9,213.6 1710,207.5 1710.2,192.9 1710.7,201.7 1710.9,225.9 1711.2,214.6 1711.4,231.6 1711.6,285.9 1711.9,234.8 1712.2,202.9 1712.4,216.3 1712.6,261 1712.9,208 1713.1,198.5 1713.4,200.2 1713.6,241.4 1713.9,204.3 1714.1,193 1714.4,254.3 1714.8,208.2 1715,228.9 1715.3,187.1 1715.5,247.4 1715.6,201.2 1715.8,183.9 1716.1,194.8 1716.5,237.8 1716.6,254.4 1717,204.6 1717.2,209.2 1717.3,182.9 1717.8,226 1718,208.7 1718.2,209 1718.3,205.7 1718.5,219.8 1718.7,251.3 1719,213.7 1719.2,203 1719.5,298.6 1719.7,213.4 1720.2,245.1 1720.4,198.5 1720.5,222.5 1720.9,212.3 1721,221.4 1721.4,251.4 1721.7,275.6 1721.9,215.6 1722.2,201.6 1722.4,212.9 1722.7,226.3 1722.9,201.3 1723.2,223.8 1723.4,197.8 1723.8,228.9 1723.9,208.5 1724.3,212.3 1724.4,225.8 1724.6,235.4 1724.9,216.8 1725.1,236.8 1725.3,206.5 1725.6,204.4 1725.8,220.5 1726.3,223.7 1726.5,199.1 1726.6,249.1 1727,220.2 1727.3,238.8 1727.5,211.4 1727.7,231.9 1728,195.2 1728.2,202.7 1728.3,241.4 1728.5,202" fill="none" stroke="#ff0000" stroke-width="2.1" stroke-linejoin="round"/>
<rect x="116" y="27" width="694" height="2" fill="#7f7f7f"/>
<rect x="116" y="456" width="694" height="2" fill="#7f7f7f"/>
<rect x="116" y="27" width="2" height="431" fill="#7f7f7f"/>
<rect x="808" y="27" width="2" height="431" fill="#7f7f7f"/>
<rect x="118" y="135.2" width="6" height="2" fill="#7f7f7f"/>
<rect x="118" y="241.5" width="6" height="2" fill="#7f7f7f"/>
<rect x="118" y="349.6" width="6" height="2" fill="#7f7f7f"/>
<rect x="346.2" y="448" width="2" height="8" fill="#7f7f7f"/>
<rect x="576.2" y="448" width="2" height="8" fill="#7f7f7f"/>
<rect x="1034.4" y="27" width="694.0999999999999" height="2" fill="#7f7f7f"/>
<rect x="1034.4" y="456" width="694.0999999999999" height="2" fill="#7f7f7f"/>
<rect x="1034.4" y="27" width="2" height="431" fill="#7f7f7f"/>
<rect x="1726.5" y="27" width="2" height="431" fill="#7f7f7f"/>
<rect x="1036" y="99.7" width="8" height="2" fill="#7f7f7f"/>
<rect x="1036" y="171.1" width="8" height="2" fill="#7f7f7f"/>
<rect x="1036" y="242.5" width="8" height="2" fill="#7f7f7f"/>
<rect x="1036" y="313.8" width="8" height="2" fill="#7f7f7f"/>
<rect x="1036" y="385.2" width="8" height="2" fill="#7f7f7f"/>
<rect x="1172.5" y="448" width="2" height="8" fill="#7f7f7f"/>
<rect x="1311.3" y="448" width="2" height="8" fill="#7f7f7f"/>
<rect x="1450.0" y="448" width="2" height="8" fill="#7f7f7f"/>
<rect x="1588.8" y="448" width="2" height="8" fill="#7f7f7f"/>
<rect x="449.7" y="368" width="71.6" height="2.5" fill="#0000ff"/>
<rect x="449.7" y="409" width="71.6" height="2.5" fill="#ff0000"/>
<rect x="1368.0" y="368" width="71.6" height="2.5" fill="#0000ff"/>
<rect x="1368.0" y="409" width="71.6" height="2.5" fill="#ff0000"/>
<g fill="#000" stroke="#000" stroke-width="0.45" style="font-family:'Liberation Sans',Arial,sans-serif"><text transform="translate(106.5,38.8) scale(1,1.045)" text-anchor="end" font-size="35.5" >2</text><text transform="translate(106.5,146.8) scale(1,1.045)" text-anchor="end" font-size="35.5" >1</text><text transform="translate(106.5,253.3) scale(1,1.045)" text-anchor="end" font-size="35.5" >0</text><text transform="translate(106.5,361.2) scale(1,1.045)" text-anchor="end" font-size="35.5" ><tspan dy="3.0">−</tspan><tspan dx="3.4" dy="-3.0">1</tspan></text><text transform="translate(106.5,467.4) scale(1,1.045)" text-anchor="end" font-size="35.5" ><tspan dy="3.0">−</tspan><tspan dx="3.4" dy="-3.0">2</tspan></text><text transform="translate(114.3,495) scale(1,1.045)" text-anchor="middle" font-size="35.5" >0</text><text transform="translate(344.0,495) scale(1,1.045)" text-anchor="middle" font-size="35.5" >1</text><text transform="translate(576.0,495) scale(1,1.045)" text-anchor="middle" font-size="35.5" >2</text><text transform="translate(806.3,495) scale(1,1.045)" text-anchor="middle" font-size="35.5" >3</text><text transform="translate(1032.8,495) scale(1,1.045)" text-anchor="middle" font-size="35.5" >0</text><text transform="translate(1171.7,495) scale(1,1.045)" text-anchor="middle" font-size="35.5" >200</text><text transform="translate(1310.5,495) scale(1,1.045)" text-anchor="middle" font-size="35.5" >400</text><text transform="translate(1449.3,495) scale(1,1.045)" text-anchor="middle" font-size="35.5" >600</text><text transform="translate(1588.1,495) scale(1,1.045)" text-anchor="middle" font-size="35.5" >800</text><text transform="translate(1724.5,495) scale(1,1.045)" text-anchor="middle" font-size="35.5" >1000</text><text transform="translate(958.0,38.4) scale(1,1.045)" font-size="35.5">10<tspan font-size="22" dx="1.2" dy="-13.5">–</tspan><tspan font-size="24" dy="-1.4">1</tspan></text><text transform="translate(958.0,109.8) scale(1,1.045)" font-size="35.5">10<tspan font-size="22" dx="1.2" dy="-13.5">–</tspan><tspan font-size="24" dy="-1.4">2</tspan></text><text transform="translate(958.0,181.3) scale(1,1.045)" font-size="35.5">10<tspan font-size="22" dx="1.2" dy="-13.5">–</tspan><tspan font-size="24" dy="-1.4">3</tspan></text><text transform="translate(958.0,252.7) scale(1,1.045)" font-size="35.5">10<tspan font-size="22" dx="1.2" dy="-13.5">–</tspan><tspan font-size="24" dy="-1.4">4</tspan></text><text transform="translate(958.0,324.1) scale(1,1.045)" font-size="35.5">10<tspan font-size="22" dx="1.2" dy="-13.5">–</tspan><tspan font-size="24" dy="-1.4">5</tspan></text><text transform="translate(958.0,395.6) scale(1,1.045)" font-size="35.5">10<tspan font-size="22" dx="1.2" dy="-13.5">–</tspan><tspan font-size="24" dy="-1.4">6</tspan></text><text transform="translate(958.0,467.0) scale(1,1.045)" font-size="35.5">10<tspan font-size="22" dx="1.2" dy="-13.5">–</tspan><tspan font-size="24" dy="-1.4">7</tspan></text><text transform="translate(460.5,550) scale(1,1.045)" text-anchor="middle" font-size="35.5" >Time (s)</text><text transform="translate(1378.7,550) scale(1,1.045)" text-anchor="middle" font-size="35.5" >Frequency (Hz)</text><text transform="translate(92.5,552) scale(1,1.045)" text-anchor="start" font-size="40" >(a)</text><text transform="translate(1010.3,552) scale(1,1.045)" text-anchor="start" font-size="40" >(b)</text><text transform="translate(35.7,328.3) rotate(-90) scale(1,1.045)" font-size="35.5">RZ<tspan font-size="25" font-weight="bold" font-style="italic" letter-spacing="1.6" dy="6.7">o/p</tspan><tspan dy="-6.7"> (rad)</tspan></text><text transform="translate(929,240.2) rotate(-90) scale(1,1.045)" text-anchor="middle" font-size="35.5" letter-spacing="-0.35">| FFT (RZ<tspan font-size="25" font-weight="bold" font-style="italic" letter-spacing="1.6" dy="6.7">o/p</tspan><tspan dy="-6.7">) |</tspan></text><text transform="translate(535.7,379.7) scale(1,1.045)" font-size="35.5">Uncontrolled <tspan font-style="italic">R</tspan><tspan font-size="24.5" dy="5.8">1</tspan></text><text transform="translate(534,423.8) scale(1,1.045)" font-size="35.5"><tspan font-style="italic">R</tspan><tspan font-size="24.5" dy="5.8">1</tspan><tspan dy="-5.8"> with VLRs</tspan></text><text transform="translate(1454.0,379.7) scale(1,1.045)" font-size="35.5">Uncontrolled <tspan font-style="italic">R</tspan><tspan font-size="24.5" dy="5.8">1</tspan></text><text transform="translate(1452.3,423.8) scale(1,1.045)" font-size="35.5"><tspan font-style="italic">R</tspan><tspan font-size="24.5" dy="5.8">1</tspan><tspan dy="-5.8"> with VLRs</tspan></text></g>
</g>
</svg></body></html>
